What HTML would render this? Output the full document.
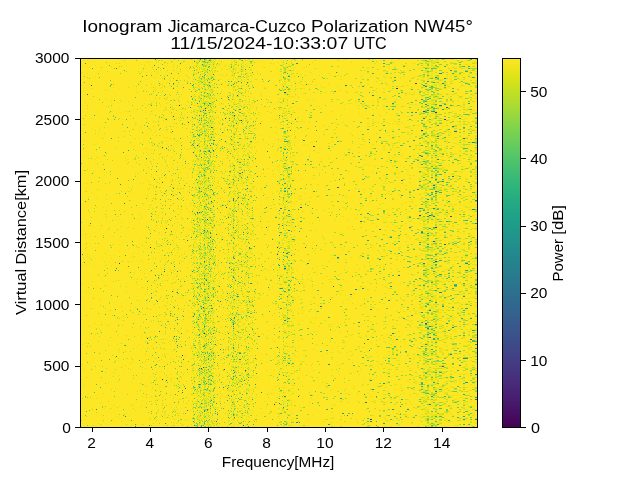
<!DOCTYPE html>
<html><head><meta charset="utf-8"><title>Ionogram</title>
<style>
html,body{margin:0;padding:0;background:#fff;width:640px;height:480px;overflow:hidden}
svg{display:block;will-change:transform;opacity:.999}
text{font-family:"Liberation Sans",sans-serif;fill:#000}
</style></head><body>
<svg width="640" height="480" viewBox="0 0 640 480">
<defs><linearGradient id="cb" x1="0" y1="0" x2="0" y2="1"><stop offset="0.0000" stop-color="#fde725"/><stop offset="0.0250" stop-color="#efe51c"/><stop offset="0.0500" stop-color="#dfe318"/><stop offset="0.0750" stop-color="#cde11d"/><stop offset="0.1000" stop-color="#bddf26"/><stop offset="0.1250" stop-color="#addc30"/><stop offset="0.1500" stop-color="#9bd93c"/><stop offset="0.1750" stop-color="#8bd646"/><stop offset="0.2000" stop-color="#7ad151"/><stop offset="0.2250" stop-color="#6ccd5a"/><stop offset="0.2500" stop-color="#5ec962"/><stop offset="0.2750" stop-color="#50c46a"/><stop offset="0.3000" stop-color="#44bf70"/><stop offset="0.3250" stop-color="#38b977"/><stop offset="0.3500" stop-color="#2fb47c"/><stop offset="0.3750" stop-color="#28ae80"/><stop offset="0.4000" stop-color="#22a884"/><stop offset="0.4250" stop-color="#1fa287"/><stop offset="0.4500" stop-color="#1e9c89"/><stop offset="0.4750" stop-color="#1f968b"/><stop offset="0.5000" stop-color="#21918c"/><stop offset="0.5250" stop-color="#238a8d"/><stop offset="0.5500" stop-color="#25848e"/><stop offset="0.5750" stop-color="#277e8e"/><stop offset="0.6000" stop-color="#2a788e"/><stop offset="0.6250" stop-color="#2c728e"/><stop offset="0.6500" stop-color="#2f6c8e"/><stop offset="0.6750" stop-color="#31668e"/><stop offset="0.7000" stop-color="#355f8d"/><stop offset="0.7250" stop-color="#38598c"/><stop offset="0.7500" stop-color="#3b528b"/><stop offset="0.7750" stop-color="#3e4a89"/><stop offset="0.8000" stop-color="#414487"/><stop offset="0.8250" stop-color="#443b84"/><stop offset="0.8500" stop-color="#463480"/><stop offset="0.8750" stop-color="#472d7b"/><stop offset="0.9000" stop-color="#482475"/><stop offset="0.9250" stop-color="#481c6e"/><stop offset="0.9500" stop-color="#471365"/><stop offset="0.9750" stop-color="#460a5d"/><stop offset="1.0000" stop-color="#440154"/></linearGradient></defs>
<rect width="640" height="480" fill="#fff"/>
<rect x="80" y="58" width="397" height="369" fill="#fde725"/>
<g fill="none" stroke-width="1" transform="translate(0 .5)" shape-rendering="crispEdges">
<path stroke="#e2e418" d="m120 58h1m36 0h1m49 0h1m4 0h1m29 0h1m4 0h1m4 0h1m107 0h2m14 0h1m4 0h2m5 0h2m29 0h6m8 0h2m15 0h2m11 0h2m-273 1h1m4 0h2m3 0h1m29 0h1m2 0h1m2 0h1m5 0h1m3 0h2m3 0h1m38 0h2m43 0h2m6 0h2m20 0h2m3 0h2m24 0h2m23 0h2m19 0h2m4 0h4m14 0h2m-309 1h1m8 0h1m6 0h1m6 0h1m14 0h2m1 0h1m9 0h2m1 0h1m3 0h1m16 0h1m100 0h2m98 0h2m26 0h3m-374 1h1m70 0h1m26 0h1m3 0h2m3 0h1m5 0h1m4 0h1m20 0h1m14 0h1m37 0h1m52 0h1m83 0h4m4 0h6m20 0h2m-301 1h1m12 0h1m16 0h1m9 0h1m3 0h1m7 0h1m3 0h1m6 0h1m9 0h2m29 0h1m19 0h1m67 0h2m79 0h4m15 0h4m18 0h5m-317 1h1m3 0h1m27 0h1m3 0h1m1 0h1m4 0h2m7 0h3m4 0h1m11 0h1m2 0h1m11 0h1m23 0h2m1 0h1m4 0h1m95 0h2m37 0h2m16 0h2m42 0h2m-336 1h1m7 0h1m24 0h1m5 0h1m16 0h1m3 0h1m4 0h3m20 0h2m3 0h1m3 0h1m49 0h2m141 0h2m32 0h3m-373 1h1m30 0h1m40 0h1m26 0h1m2 0h1m3 0h1m10 0h2m2 0h2m1 0h1m4 0h1m1 0h1m6 0h2m6 0h1m5 0h1m1 0h1m41 0h1m113 0h2m10 0h2m12 0h2m-351 1h1m4 0h1m77 0h1m13 0h1m12 0h2m4 0h1m5 0h1m6 0h1m13 0h1m3 0h2m6 0h1m24 0h1m20 0h1m147 0h4m-346 1h1m28 0h1m81 0h2m3 0h1m1 0h1m2 0h1m19 0h1m2 0h2m6 0h1m3 0h1m18 0h2m20 0h1m8 0h1m7 0h2m62 0h2m38 0h2m16 0h6m4 0h2m28 0h3m-336 1h1m13 0h1m17 0h1m11 0h1m16 0h1m5 0h1m2 0h1m2 0h1m7 0h1m1 0h1m20 0h1m1 0h1m38 0h1m14 0h2m73 0h2m25 0h2m23 0h2m42 0h2m-312 1h1m43 0h1m4 0h1m1 0h2m5 0h2m8 0h2m3 0h1m7 0h1m200 0h2m-314 1h1m17 0h1m1 0h1m48 0h1m10 0h2m1 0h2m22 0h1m2 0h1m5 0h2m1 0h1m3 0h1m3 0h2m35 0h1m21 0h1m113 0h2m2 0h2m13 0h2m26 0h2m-330 1h1m14 0h1m8 0h1m10 0h1m10 0h1m4 0h1m4 0h1m1 0h2m2 0h2m3 0h2m3 0h2m16 0h2m22 0h1m22 0h1m6 0h1m4 0h1m13 0h1m77 0h2m16 0h4m20 0h2m48 0h2m-395 1h1m58 0h1m4 0h1m4 0h1m6 0h1m10 0h1m6 0h1m16 0h2m2 0h1m2 0h1m9 0h1m99 0h2m25 0h2m28 0h2m17 0h2m35 0h4m41 0h2m-389 1h1m5 0h1m69 0h1m24 0h1m10 0h2m3 0h1m4 0h1m4 0h2m2 0h1m20 0h1m4 0h1m8 0h2m35 0h2m42 0h2m37 0h2m58 0h2m2 0h2m30 0h2m10 0h2m-322 1h1m9 0h1m30 0h1m7 0h1m3 0h3m8 0h1m1 0h1m10 0h1m1 0h1m45 0h2m18 0h2m125 0h2m23 0h5m2 0h2m7 0h2m5 0h2m-267 1h2m14 0h1m4 0h1m20 0h1m66 0h1m10 0h1m6 0h2m90 0h4m24 0h2m2 0h2m-293 1h1m8 0h1m19 0h1m6 0h1m1 0h1m3 0h2m10 0h1m5 0h1m2 0h1m8 0h1m3 0h1m33 0h2m5 0h1m52 0h2m18 0h2m8 0h2m11 0h2m18 0h2m14 0h2m6 0h2m6 0h2m9 0h2m2 0h2m-357 1h1m96 0h1m1 0h1m12 0h2m24 0h1m4 0h1m8 0h1m4 0h1m38 0h1m108 0h1m20 0h4m2 0h2m25 0h3m13 0h2m-302 1h1m6 0h1m16 0h1m8 0h1m2 0h1m26 0h1m2 0h2m1 0h2m42 0h1m3 0h1m102 0h2m8 0h1m32 0h2m15 0h2m-305 1h1m21 0h1m29 0h1m3 0h1m4 0h1m6 0h1m1 0h1m3 0h1m7 0h1m2 0h2m3 0h1m6 0h1m34 0h3m33 0h1m24 0h2m52 0h2m25 0h2m4 0h2m10 0h5m15 0h2m-320 1h1m54 0h1m2 0h3m3 0h1m42 0h1m31 0h2m97 0h2m52 0h2m17 0h2m21 0h2m-275 1h1m7 0h1m23 0h2m3 0h2m1 0h1m18 0h1m26 0h2m185 0h2m-314 1h1m3 0h1m1 0h1m16 0h1m6 0h2m4 0h2m2 0h2m1 0h1m30 0h1m8 0h1m44 0h1m113 0h2m14 0h4m17 0h6m17 0h3m2 0h2m-306 1h1m7 0h1m21 0h1m4 0h1m1 0h3m14 0h1m6 0h1m4 0h1m19 0h1m20 0h1m9 0h3m106 0h2m25 0h2m31 0h2m18 0h3m-386 1h1m68 0h1m3 0h1m14 0h2m3 0h1m13 0h1m1 0h1m2 0h1m5 0h1m24 0h1m51 0h2m14 0h2m3 0h1m1 0h2m1 0h2m16 0h2m30 0h2m5 0h2m58 0h2m4 0h4m9 0h2m-314 1h1m20 0h1m6 0h1m6 0h2m5 0h1m4 0h1m22 0h2m4 0h1m2 0h1m3 0h1m18 0h1m51 0h2m13 0h2m11 0h1m86 0h2m2 0h2m18 0h6m30 0h2m-356 1h1m87 0h1m1 0h1m29 0h1m5 0h1m2 0h1m3 0h1m4 0h1m72 0h2m14 0h1m2 0h1m5 0h2m74 0h2m6 0h2m2 0h2m4 0h3m4 0h2m-335 1h1m27 0h1m9 0h1m3 0h1m10 0h1m29 0h2m1 0h1m4 0h1m2 0h2m4 0h1m20 0h1m3 0h1m13 0h1m11 0h2m57 0h2m47 0h2m37 0h2m46 0h2m-342 1h1m35 0h1m4 0h1m11 0h1m9 0h1m15 0h3m3 0h2m5 0h1m20 0h1m9 0h1m35 0h1m11 0h1m5 0h2m5 0h2m78 0h2m24 0h2m10 0h2m4 0h2m10 0h3m-288 1h1m40 0h1m6 0h1m3 0h2m25 0h1m8 0h1m48 0h1m-209 1h1m22 0h1m55 0h1m14 0h1m17 0h1m3 0h1m4 0h2m4 0h1m5 0h1m62 0h1m94 0h2m14 0h2m27 0h2m8 0h2m-295 1h1m29 0h1m32 0h3m12 0h1m130 0h2m29 0h1m19 0h2m3 0h2m22 0h2m6 0h2m15 0h2m-372 1h1m44 0h1m11 0h1m23 0h1m31 0h1m2 0h1m3 0h1m5 0h1m21 0h1m58 0h1m2 0h1m81 0h2m2 0h1m36 0h2m20 0h2m38 0h2m-326 1h3m45 0h1m6 0h1m7 0h1m12 0h1m4 0h1m5 0h1m5 0h1m58 0h2m15 0h2m87 0h2m12 0h2m8 0h2m11 0h2m24 0h3m-319 1h1m47 0h1m1 0h1m12 0h1m12 0h1m8 0h1m42 0h2m72 0h2m53 0h2m20 0h2m11 0h2m-257 1h1m5 0h1m2 0h1m2 0h1m3 0h1m8 0h1m8 0h1m10 0h1m3 0h1m17 0h1m17 0h1m8 0h1m117 0h2m26 0h4m20 0h2m13 0h3m-281 1h1m3 0h1m4 0h1m5 0h2m10 0h1m3 0h1m6 0h2m3 0h1m23 0h1m7 0h1m18 0h2m1 0h3m4 0h1m122 0h2m52 0h2m-380 1h1m95 0h2m2 0h2m1 0h1m6 0h1m5 0h1m13 0h1m5 0h1m56 0h1m3 0h1m140 0h4m9 0h2m18 0h2m-304 1h1m9 0h1m1 0h1m14 0h2m9 0h1m10 0h2m2 0h1m34 0h1m11 0h1m12 0h3m1 0h3m93 0h2m69 0h2m9 0h2m5 0h2m-379 1h1m13 0h1m14 0h1m85 0h2m2 0h1m11 0h1m11 0h1m6 0h1m64 0h1m89 0h2m3 0h2m28 0h6m-326 1h1m80 0h1m1 0h1m1 0h2m5 0h1m1 0h1m5 0h1m24 0h1m1 0h1m5 0h1m9 0h1m24 0h1m27 0h2m4 0h2m21 0h1m18 0h2m95 0h2m3 0h2m11 0h2m-344 1h1m21 0h1m3 0h1m14 0h1m23 0h1m9 0h1m1 0h1m2 0h1m3 0h1m5 0h1m27 0h1m31 0h1m93 0h2m12 0h2m33 0h2m4 0h6m-322 1h1m55 0h1m5 0h1m14 0h1m12 0h1m2 0h1m1 0h1m2 0h1m1 0h1m33 0h1m2 0h1m3 0h1m24 0h1m1 0h1m6 0h1m68 0h2m20 0h2m30 0h2m16 0h2m6 0h2m15 0h2m-336 1h1m25 0h1m21 0h1m32 0h2m11 0h1m6 0h1m3 0h1m9 0h2m4 0h2m41 0h1m4 0h1m60 0h4m67 0h2m6 0h8m-284 1h1m8 0h1m31 0h1m7 0h1m4 0h1m2 0h1m1 0h1m1 0h2m6 0h1m2 0h1m120 0h1m51 0h2m11 0h4m2 0h2m29 0h2m2 0h2m-359 1h1m9 0h1m43 0h1m30 0h1m1 0h1m8 0h1m8 0h1m4 0h1m8 0h1m6 0h1m11 0h1m20 0h1m105 0h2m7 0h2m14 0h2m36 0h2m12 0h2m26 0h2m-359 1h1m53 0h1m4 0h1m31 0h1m1 0h1m31 0h1m3 0h1m6 0h1m2 0h1m4 0h2m34 0h1m29 0h1m2 0h1m56 0h1m6 0h2m18 0h2m22 0h2m4 0h4m17 0h3m2 0h4m-352 1h1m52 0h1m1 0h1m5 0h1m8 0h1m1 0h1m16 0h1m4 0h1m4 0h1m3 0h1m11 0h1m5 0h1m1 0h1m18 0h1m110 0h1m60 0h2m2 0h2m6 0h2m9 0h2m18 0h2m-351 1h1m36 0h1m9 0h1m17 0h2m13 0h1m1 0h1m1 0h1m3 0h1m3 0h1m1 0h1m7 0h1m11 0h1m2 0h1m13 0h2m31 0h1m4 0h2m9 0h1m20 0h2m22 0h1m13 0h2m32 0h2m37 0h2m11 0h2m-313 1h1m32 0h1m10 0h1m1 0h1m2 0h1m17 0h2m2 0h1m3 0h1m2 0h2m13 0h1m48 0h2m3 0h2m16 0h1m73 0h2m9 0h2m24 0h2m20 0h2m11 0h2m19 0h3m-355 1h1m54 0h1m26 0h2m2 0h1m1 0h1m2 0h1m5 0h1m3 0h1m10 0h1m21 0h2m39 0h2m2 0h2m123 0h2m10 0h4m26 0h2m4 0h3m4 0h3m-364 1h1m40 0h1m16 0h1m8 0h1m18 0h1m1 0h1m4 0h1m1 0h1m24 0h2m9 0h1m4 0h1m35 0h1m47 0h2m78 0h2m22 0h2m15 0h2m16 0h2m-352 1h1m24 0h1m16 0h1m30 0h2m6 0h1m2 0h2m1 0h2m1 0h1m3 0h1m29 0h1m13 0h2m10 0h2m12 0h2m6 0h2m1 0h1m90 0h2m31 0h6m8 0h2m2 0h2m5 0h2m24 0h2m-332 1h1m10 0h1m57 0h1m5 0h1m17 0h2m9 0h1m7 0h1m8 0h1m22 0h2m30 0h1m41 0h2m41 0h2m16 0h2m12 0h2m-285 1h1m1 0h1m18 0h1m2 0h1m4 0h1m17 0h1m2 0h2m3 0h2m1 0h2m12 0h1m8 0h1m1 0h1m1 0h1m22 0h2m112 0h2m11 0h1m62 0h2m-276 1h1m9 0h1m27 0h1m16 0h1m3 0h1m5 0h2m39 0h3m57 0h2m37 0h2m50 0h2m2 0h4m-242 1h1m3 0h1m3 0h1m7 0h1m2 0h1m11 0h1m10 0h2m3 0h1m57 0h1m104 0h2m12 0h2m-265 1h1m3 0h1m15 0h1m25 0h1m81 0h1m4 0h1m129 0h4m12 0h2m-348 1h1m11 0h1m59 0h1m1 0h1m10 0h1m25 0h1m1 0h1m5 0h2m2 0h1m1 0h1m5 0h1m8 0h1m10 0h1m7 0h2m5 0h1m24 0h2m3 0h1m154 0h2m21 0h3m-361 1h1m14 0h1m49 0h1m19 0h1m6 0h2m32 0h1m9 0h1m3 0h1m1 0h1m25 0h2m25 0h1m69 0h2m57 0h2m15 0h2m2 0h2m7 0h4m-318 1h1m19 0h1m10 0h1m19 0h1m9 0h1m26 0h1m18 0h1m152 0h2m18 0h2m2 0h2m15 0h2m25 0h2m-328 1h1m38 0h1m9 0h1m5 0h1m3 0h1m9 0h1m16 0h1m11 0h1m26 0h1m17 0h2m6 0h2m1 0h2m67 0h2m20 0h2m31 0h2m6 0h2m20 0h2m6 0h3m7 0h2m-343 1h1m20 0h2m47 0h1m5 0h2m2 0h1m3 0h1m64 0h1m6 0h1m43 0h2m6 0h2m30 0h2m1 0h2m7 0h2m13 0h2m18 0h2m12 0h2m22 0h2m-268 1h1m8 0h2m5 0h1m2 0h1m10 0h1m6 0h1m2 0h1m1 0h1m1 0h1m5 0h1m34 0h1m8 0h1m6 0h1m72 0h2m19 0h2m2 0h2m2 0h2m25 0h4m19 0h2m-346 1h1m33 0h1m7 0h1m43 0h1m13 0h3m6 0h1m19 0h1m5 0h2m3 0h1m37 0h2m62 0h1m40 0h1m12 0h2m57 0h4m9 0h2m-337 1h1m50 0h1m10 0h1m6 0h1m3 0h1m3 0h2m23 0h1m85 0h2m92 0h2m16 0h2m22 0h2m11 0h3m-376 1h1m66 0h1m38 0h1m2 0h2m4 0h1m32 0h1m2 0h3m75 0h2m37 0h2m38 0h4m16 0h2m6 0h2m5 0h2m31 0h2m-301 1h1m25 0h1m1 0h1m3 0h1m25 0h1m8 0h1m4 0h1m26 0h2m6 0h1m2 0h2m3 0h1m115 0h2m22 0h2m-341 1h1m103 0h1m8 0h1m1 0h1m7 0h2m3 0h1m15 0h2m4 0h1m2 0h1m11 0h1m151 0h2m16 0h2m41 0h2m-331 1h1m5 0h1m6 0h1m39 0h1m2 0h1m16 0h1m9 0h1m80 0h1m19 0h1m8 0h2m45 0h2m9 0h2m31 0h2m43 0h2m-307 1h1m29 0h1m4 0h1m4 0h1m2 0h1m20 0h2m63 0h1m38 0h1m103 0h2m7 0h2m20 0h2m5 0h2m-322 1h1m11 0h1m22 0h1m7 0h1m4 0h1m3 0h1m3 0h1m8 0h1m7 0h1m5 0h1m1 0h1m11 0h1m3 0h1m19 0h1m10 0h1m11 0h1m6 0h1m20 0h2m35 0h2m63 0h2m8 0h2m9 0h4m-350 1h1m97 0h1m2 0h2m5 0h1m4 0h1m73 0h1m6 0h1m3 0h1m68 0h2m17 0h2m60 0h4m18 0h2m-329 1h1m27 0h1m22 0h1m11 0h1m6 0h1m32 0h1m40 0h1m62 0h2m81 0h2m4 0h3m2 0h2m8 0h3m6 0h2m-385 1h1m17 0h1m14 0h1m33 0h1m14 0h1m29 0h1m11 0h1m28 0h1m1 0h2m40 0h1m6 0h2m106 0h2m13 0h4m16 0h2m2 0h4m13 0h4m-300 1h1m7 0h1m29 0h1m3 0h1m5 0h1m2 0h2m8 0h1m18 0h1m1 0h1m25 0h1m22 0h1m3 0h3m1 0h1m96 0h2m35 0h2m10 0h2m20 0h2m14 0h2m-264 1h1m12 0h1m3 0h1m2 0h1m3 0h2m8 0h1m21 0h1m12 0h2m3 0h1m49 0h2m55 0h2m23 0h2m10 0h4m-285 1h1m5 0h1m25 0h1m11 0h1m2 0h1m1 0h2m3 0h1m2 0h1m1 0h2m17 0h2m57 0h1m31 0h1m13 0h1m28 0h2m30 0h2m19 0h2m16 0h2m13 0h2m15 0h3m-329 1h1m43 0h1m4 0h1m16 0h1m2 0h2m9 0h1m17 0h1m3 0h1m8 0h2m30 0h2m74 0h2m49 0h2m10 0h4m19 0h2m15 0h2m-312 1h1m57 0h1m20 0h1m1 0h2m8 0h1m1 0h1m132 0h2m44 0h2m4 0h2m4 0h2m2 0h3m2 0h2m6 0h2m7 0h4m-317 1h1m17 0h1m8 0h1m1 0h1m15 0h1m5 0h1m3 0h2m11 0h1m13 0h1m16 0h1m39 0h1m3 0h1m6 0h1m99 0h2m25 0h2m10 0h2m7 0h2m15 0h2m10 0h2m-391 1h1m7 0h1m48 0h1m34 0h1m15 0h1m10 0h1m1 0h2m1 0h1m9 0h1m10 0h1m1 0h2m4 0h2m90 0h2m96 0h2m15 0h2m13 0h7m-306 1h1m17 0h1m16 0h1m2 0h1m17 0h1m5 0h1m1 0h1m17 0h1m49 0h1m15 0h3m85 0h2m19 0h2m14 0h4m13 0h2m-280 1h1m2 0h1m2 0h1m17 0h1m4 0h3m11 0h1m11 0h1m2 0h1m8 0h1m12 0h1m11 0h1m5 0h1m1 0h1m8 0h1m44 0h2m62 0h2m31 0h2m2 0h2m15 0h2m6 0h3m6 0h2m-298 1h1m9 0h1m23 0h1m3 0h2m22 0h1m5 0h1m48 0h3m1 0h2m4 0h1m8 0h2m55 0h4m8 0h2m57 0h2m24 0h2m2 0h2m7 0h2m-319 1h1m16 0h1m32 0h1m10 0h1m3 0h1m10 0h1m5 0h1m3 0h2m2 0h1m3 0h3m23 0h1m5 0h1m3 0h1m10 0h1m12 0h2m108 0h2m18 0h5m-250 1h2m2 0h1m4 0h1m2 0h1m5 0h1m36 0h1m4 0h1m2 0h1m75 0h2m50 0h2m74 0h2m7 0h2m-297 1h1m2 0h1m4 0h1m15 0h1m1 0h1m5 0h1m2 0h1m1 0h1m15 0h1m6 0h1m1 0h1m156 0h2m4 0h2m15 0h2m8 0h2m2 0h4m2 0h2m7 0h2m17 0h2m-306 1h1m1 0h1m9 0h1m12 0h1m7 0h1m11 0h1m3 0h2m2 0h1m33 0h1m33 0h2m5 0h3m29 0h1m63 0h2m42 0h2m46 0h2m-323 1h1m9 0h1m28 0h1m5 0h1m1 0h1m2 0h1m4 0h1m20 0h1m2 0h1m1 0h1m5 0h1m6 0h1m3 0h1m147 0h1m24 0h2m2 0h4m11 0h2m22 0h2m5 0h2m-342 1h1m15 0h1m21 0h1m23 0h1m6 0h1m1 0h1m14 0h1m4 0h1m8 0h1m20 0h1m23 0h2m101 0h2m38 0h2m34 0h2m4 0h3m7 0h2m-381 1h1m100 0h1m9 0h1m3 0h1m7 0h1m11 0h1m6 0h1m17 0h1m180 0h2m5 0h2m13 0h2m9 0h5m-332 1h1m2 0h1m25 0h1m19 0h1m3 0h1m2 0h1m4 0h1m11 0h1m16 0h1m3 0h1m5 0h1m4 0h4m38 0h1m3 0h1m22 0h2m39 0h2m75 0h2m-344 1h1m57 0h1m39 0h1m3 0h1m9 0h1m1 0h1m28 0h1m59 0h2m4 0h1m69 0h2m61 0h2m17 0h3m2 0h2m-349 1h1m61 0h1m19 0h1m1 0h1m7 0h1m40 0h1m33 0h1m67 0h3m19 0h1m6 0h1m48 0h2m10 0h2m31 0h2m-390 1h1m3 0h1m39 0h1m55 0h1m15 0h1m2 0h2m1 0h1m3 0h1m17 0h1m1 0h1m4 0h1m1 0h1m1 0h1m10 0h2m37 0h1m6 0h1m4 0h1m94 0h2m5 0h2m10 0h2m18 0h2m26 0h2m-372 1h1m11 0h1m38 0h1m20 0h1m2 0h1m12 0h1m1 0h1m15 0h1m14 0h1m20 0h1m18 0h1m33 0h1m7 0h1m101 0h2m29 0h2m6 0h9m8 0h2m5 0h2m11 0h3m-350 1h1m24 0h1m8 0h1m34 0h1m9 0h1m2 0h2m6 0h1m17 0h2m15 0h2m2 0h1m29 0h2m4 0h1m73 0h1m23 0h2m2 0h2m15 0h2m14 0h2m32 0h2m7 0h2m-321 1h1m8 0h1m3 0h1m19 0h1m16 0h1m4 0h1m1 0h1m20 0h2m9 0h3m9 0h2m28 0h2m4 0h1m4 0h1m36 0h2m44 0h2m29 0h2m6 0h2m6 0h2m2 0h2m4 0h2m2 0h2m17 0h3m-362 1h1m31 0h2m45 0h1m8 0h1m9 0h1m2 0h2m7 0h1m32 0h1m4 0h1m40 0h2m8 0h1m47 0h2m20 0h1m23 0h2m49 0h3m28 0h2m-347 1h1m13 0h1m25 0h1m24 0h1m11 0h2m6 0h1m7 0h1m16 0h1m8 0h1m88 0h1m30 0h1m60 0h2m4 0h2m2 0h2m15 0h2m-353 1h1m62 0h1m32 0h1m12 0h2m4 0h1m22 0h4m29 0h1m160 0h4m35 0h3m-330 1h1m48 0h1m4 0h1m3 0h2m2 0h1m4 0h1m19 0h1m8 0h1m1 0h1m11 0h1m175 0h2m9 0h2m13 0h2m11 0h2m-306 1h1m6 0h1m22 0h1m5 0h3m2 0h1m5 0h1m16 0h1m16 0h1m38 0h1m35 0h1m129 0h2m-348 1h1m39 0h1m14 0h1m10 0h1m29 0h1m8 0h3m16 0h1m2 0h1m12 0h1m15 0h1m16 0h1m3 0h1m3 0h1m15 0h2m2 0h2m56 0h2m52 0h2m10 0h4m13 0h2m7 0h2m-314 1h1m47 0h1m10 0h1m17 0h1m3 0h1m3 0h1m6 0h1m35 0h1m4 0h1m5 0h2m1 0h1m31 0h1m49 0h1m30 0h1m30 0h6m33 0h2m-340 1h1m67 0h1m1 0h1m1 0h1m4 0h3m27 0h2m7 0h1m28 0h1m84 0h2m10 0h2m7 0h2m7 0h2m23 0h2m6 0h2m21 0h2m13 0h2m-297 1h1m2 0h1m19 0h1m11 0h2m3 0h1m6 0h1m12 0h1m4 0h1m4 0h1m6 0h1m1 0h1m2 0h2m27 0h1m10 0h1m112 0h2m14 0h4m6 0h6m2 0h2m3 0h2m24 0h4m-307 1h1m17 0h1m15 0h1m1 0h1m15 0h1m30 0h1m25 0h1m20 0h1m61 0h1m65 0h2m14 0h5m24 0h2m-370 1h1m47 0h1m6 0h1m23 0h1m12 0h1m16 0h3m1 0h1m10 0h1m8 0h1m43 0h1m1 0h1m6 0h1m1 0h2m115 0h2m18 0h2m4 0h2m2 0h2m9 0h2m-345 1h1m57 0h1m5 0h2m25 0h1m2 0h1m1 0h1m1 0h3m27 0h1m2 0h2m6 0h2m5 0h1m38 0h2m1 0h1m104 0h2m27 0h2m2 0h2m6 0h2m31 0h2m3 0h2m-396 1h1m11 0h1m46 0h1m7 0h1m15 0h1m36 0h1m25 0h1m6 0h1m2 0h1m41 0h1m68 0h2m57 0h2m12 0h2m34 0h4m14 0h2m-371 1h1m11 0h1m18 0h1m59 0h1m5 0h1m1 0h2m9 0h1m2 0h1m2 0h1m30 0h1m2 0h1m107 0h1m7 0h2m47 0h4m2 0h2m6 0h2m24 0h2m9 0h3m-390 1h1m52 0h1m33 0h1m5 0h1m20 0h1m5 0h1m2 0h1m1 0h1m6 0h1m23 0h1m19 0h1m1 0h1m19 0h1m3 0h1m110 0h2m23 0h2m2 0h2m2 0h2m-278 1h1m17 0h1m13 0h1m8 0h1m2 0h2m8 0h1m1 0h1m3 0h1m66 0h1m15 0h1m108 0h2m14 0h2m2 0h2m15 0h2m4 0h4m18 0h3m-371 1h1m52 0h1m3 0h1m30 0h1m3 0h1m9 0h1m4 0h1m13 0h1m2 0h1m9 0h1m3 0h1m7 0h2m38 0h1m92 0h2m24 0h2m2 0h2m6 0h4m2 0h2m25 0h5m-308 1h1m40 0h1m7 0h1m11 0h2m18 0h2m7 0h1m14 0h1m30 0h1m98 0h2m49 0h2m5 0h2m11 0h2m-379 1h1m96 0h1m2 0h1m23 0h2m11 0h1m9 0h1m5 0h2m13 0h1m1 0h2m42 0h1m41 0h1m5 0h2m35 0h2m4 0h1m10 0h2m37 0h2m-299 1h1m14 0h1m12 0h1m11 0h1m17 0h1m5 0h2m37 0h1m2 0h1m43 0h2m12 0h1m10 0h2m104 0h2m10 0h2m11 0h2m6 0h5m8 0h3m-322 1h1m9 0h1m18 0h1m22 0h1m4 0h2m1 0h3m28 0h1m56 0h1m124 0h2m44 0h3m-271 1h2m8 0h1m4 0h1m4 0h1m15 0h1m2 0h1m9 0h1m5 0h1m35 0h2m1 0h1m6 0h1m82 0h2m38 0h2m2 0h2m21 0h2m-301 1h1m5 0h1m6 0h1m9 0h1m23 0h1m2 0h1m6 0h1m11 0h1m15 0h1m3 0h1m2 0h3m35 0h1m3 0h3m2 0h2m2 0h2m82 0h1m95 0h3m-281 1h1m1 0h1m3 0h1m10 0h2m35 0h1m18 0h1m11 0h1m4 0h2m2 0h2m74 0h1m27 0h2m15 0h2m16 0h2m-310 1h1m20 0h1m2 0h1m50 0h1m8 0h1m1 0h1m21 0h1m11 0h3m10 0h1m4 0h1m14 0h1m13 0h1m4 0h1m91 0h2m1 0h2m35 0h4m-279 1h1m25 0h1m19 0h1m2 0h2m5 0h1m5 0h1m3 0h1m14 0h1m3 0h1m3 0h1m4 0h1m35 0h1m38 0h2m100 0h2m31 0h2m-352 1h1m18 0h1m55 0h1m18 0h1m2 0h2m3 0h1m1 0h1m10 0h1m24 0h1m9 0h1m16 0h1m10 0h2m5 0h1m69 0h1m23 0h2m22 0h2m20 0h2m15 0h2m-314 1h1m20 0h1m15 0h1m4 0h1m4 0h1m23 0h1m14 0h1m22 0h1m12 0h1m48 0h2m34 0h1m97 0h2m33 0h3m-347 1h2m23 0h1m6 0h1m43 0h1m3 0h1m2 0h1m3 0h2m11 0h1m4 0h1m22 0h1m27 0h2m39 0h1m93 0h2m2 0h2m14 0h3m-301 1h1m12 0h1m36 0h1m1 0h1m2 0h1m7 0h1m2 0h1m6 0h1m1 0h1m10 0h1m2 0h1m14 0h1m15 0h1m25 0h1m6 0h2m59 0h2m43 0h1m14 0h2m8 0h8m2 0h2m2 0h3m2 0h2m-299 1h2m20 0h1m8 0h1m1 0h1m13 0h1m9 0h3m2 0h1m14 0h1m9 0h1m15 0h2m4 0h1m30 0h1m24 0h1m45 0h2m10 0h2m63 0h2m2 0h3m28 0h2m-373 1h1m60 0h1m36 0h2m3 0h1m2 0h1m1 0h1m2 0h1m9 0h1m2 0h1m10 0h1m200 0h2m31 0h2m-385 1h1m40 0h1m33 0h1m22 0h1m20 0h3m3 0h1m1 0h2m32 0h1m36 0h1m104 0h2m85 0h2m-386 1h1m85 0h1m18 0h1m7 0h1m5 0h1m19 0h1m1 0h1m30 0h1m15 0h1m2 0h1m81 0h1m72 0h2m36 0h2m-347 1h1m2 0h1m40 0h1m19 0h1m8 0h1m29 0h1m1 0h1m9 0h1m38 0h2m6 0h2m11 0h1m6 0h1m73 0h4m33 0h2m-319 1h1m70 0h1m15 0h1m4 0h1m12 0h1m21 0h2m2 0h1m26 0h2m12 0h1m5 0h2m84 0h2m26 0h3m34 0h2m2 0h3m2 0h2m26 0h5m-371 1h1m81 0h1m5 0h2m8 0h3m1 0h1m9 0h1m27 0h1m3 0h2m31 0h3m1 0h1m31 0h1m10 0h3m48 0h2m67 0h2m9 0h2m5 0h2m-374 1h1m96 0h1m12 0h1m4 0h1m21 0h1m1 0h1m1 0h4m45 0h1m13 0h2m14 0h1m28 0h2m23 0h2m39 0h2m46 0h2m-376 1h1m24 0h1m44 0h1m37 0h1m1 0h1m3 0h1m1 0h1m20 0h1m5 0h1m21 0h2m17 0h1m4 0h1m35 0h2m109 0h2m16 0h3m-241 1h1m2 0h1m1 0h1m3 0h1m6 0h1m23 0h1m3 0h3m36 0h2m5 0h1m55 0h1m87 0h2m-340 1h1m57 0h1m15 0h1m7 0h1m6 0h1m5 0h1m14 0h2m25 0h1m3 0h1m6 0h1m21 0h1m32 0h2m109 0h2m6 0h2m8 0h2m11 0h2m13 0h2m-265 1h1m8 0h1m9 0h1m7 0h1m8 0h1m3 0h2m12 0h1m12 0h1m22 0h2m4 0h1m61 0h1m78 0h4m-284 1h1m18 0h1m22 0h1m2 0h1m1 0h1m5 0h2m4 0h1m3 0h1m1 0h1m7 0h1m13 0h3m8 0h1m37 0h1m2 0h1m5 0h2m44 0h2m26 0h2m37 0h4m10 0h2m10 0h2m-352 1h1m68 0h1m49 0h2m4 0h1m17 0h1m5 0h1m9 0h1m5 0h2m20 0h1m11 0h2m5 0h1m2 0h1m11 0h1m98 0h2m4 0h2m35 0h2m20 0h2m-329 1h1m52 0h1m6 0h1m5 0h1m6 0h1m12 0h1m18 0h1m30 0h1m7 0h1m3 0h1m89 0h4m36 0h2m23 0h2m20 0h2m-319 1h1m33 0h1m12 0h1m1 0h1m3 0h2m4 0h1m2 0h1m5 0h1m13 0h1m39 0h1m6 0h2m1 0h1m2 0h1m22 0h1m69 0h2m20 0h2m20 0h2m29 0h3m2 0h2m-318 1h1m34 0h1m2 0h1m9 0h1m2 0h1m7 0h1m2 0h1m14 0h1m5 0h1m8 0h1m2 0h1m21 0h1m7 0h1m1 0h2m10 0h1m1 0h2m123 0h2m4 0h2m46 0h2m10 0h2m-292 1h1m7 0h1m13 0h1m23 0h1m1 0h1m13 0h1m1 0h1m34 0h2m5 0h1m68 0h2m103 0h3m2 0h2m-376 1h1m6 0h1m35 0h1m9 0h1m44 0h1m5 0h2m6 0h1m4 0h1m3 0h1m16 0h1m2 0h2m35 0h1m67 0h3m90 0h2m28 0h5m5 0h2m-324 1h1m2 0h1m5 0h1m4 0h1m9 0h2m18 0h2m2 0h1m2 0h1m4 0h1m29 0h3m4 0h1m3 0h2m5 0h1m29 0h1m40 0h2m15 0h2m3 0h2m8 0h2m15 0h4m42 0h2m4 0h2m4 0h2m2 0h3m17 0h2m-281 1h1m12 0h1m4 0h1m11 0h1m11 0h1m122 0h2m39 0h2m45 0h2m33 0h4m-310 1h1m33 0h1m7 0h1m8 0h1m13 0h1m5 0h1m49 0h1m39 0h2m96 0h2m4 0h4m4 0h2m13 0h2m2 0h3m13 0h2m-333 1h1m48 0h1m14 0h2m3 0h1m1 0h1m17 0h1m2 0h1m7 0h2m43 0h2m5 0h1m109 0h2m4 0h4m26 0h2m5 0h2m4 0h2m7 0h2m2 0h2m7 0h3m-323 1h1m6 0h1m13 0h1m6 0h1m12 0h1m2 0h1m11 0h1m5 0h1m2 0h1m13 0h3m13 0h2m14 0h1m23 0h1m10 0h1m11 0h2m16 0h2m64 0h2m29 0h2m8 0h2m-267 1h1m21 0h1m6 0h2m3 0h1m23 0h1m2 0h1m9 0h1m4 0h3m29 0h2m7 0h1m2 0h1m114 0h2m37 0h2m8 0h3m-326 1h1m8 0h1m13 0h1m37 0h2m6 0h1m27 0h1m104 0h1m36 0h2m14 0h2m33 0h2m12 0h2m9 0h2m-308 1h1m62 0h2m15 0h1m8 0h1m13 0h1m202 0h2m24 0h3m-369 1h1m89 0h1m7 0h1m3 0h2m65 0h2m7 0h3m4 0h1m23 0h1m26 0h2m20 0h1m16 0h2m24 0h2m16 0h2m4 0h2m13 0h2m-315 1h1m22 0h1m1 0h1m3 0h1m5 0h1m30 0h1m11 0h1m1 0h1m22 0h1m1 0h1m21 0h1m5 0h1m11 0h1m7 0h1m4 0h1m2 0h1m30 0h1m60 0h2m35 0h2m2 0h2m6 0h2m17 0h3m18 0h2m-285 1h1m1 0h1m1 0h1m3 0h2m2 0h1m1 0h1m12 0h1m23 0h1m47 0h1m4 0h2m57 0h2m20 0h2m4 0h2m38 0h2m2 0h6m26 0h2m-346 1h1m3 0h1m17 0h1m1 0h1m13 0h1m27 0h1m1 0h1m4 0h1m4 0h2m14 0h2m1 0h1m31 0h1m7 0h1m1 0h1m17 0h1m10 0h1m7 0h1m42 0h2m75 0h2m6 0h8m8 0h2m11 0h2m-294 1h1m5 0h1m4 0h1m3 0h1m25 0h1m5 0h1m6 0h1m1 0h1m1 0h1m4 0h1m17 0h2m16 0h1m31 0h1m133 0h4m6 0h6m22 0h2m-355 1h1m41 0h1m49 0h1m8 0h1m58 0h1m-147 1h1m2 0h1m5 0h1m9 0h1m44 0h1m7 0h2m10 0h1m12 0h1m7 0h1m1 0h1m55 0h1m25 0h1m76 0h2m4 0h2m69 0h2m-365 1h1m65 0h1m26 0h1m1 0h1m1 0h1m5 0h1m1 0h2m1 0h1m13 0h1m5 0h2m18 0h1m34 0h1m6 0h1m69 0h2m10 0h2m11 0h1m19 0h2m12 0h2m2 0h2m2 0h2m2 0h2m15 0h2m20 0h2m-293 1h1m1 0h1m10 0h1m5 0h2m4 0h2m1 0h1m4 0h1m3 0h1m1 0h1m13 0h1m5 0h1m7 0h1m2 0h1m41 0h1m100 0h2m29 0h4m38 0h3m-320 1h1m55 0h1m6 0h1m1 0h1m15 0h1m22 0h1m16 0h1m17 0h1m3 0h1m131 0h2m27 0h2m-363 1h1m68 0h1m1 0h1m2 0h1m11 0h1m14 0h1m3 0h1m2 0h1m4 0h1m2 0h1m3 0h1m16 0h1m3 0h1m50 0h1m6 0h1m105 0h2m37 0h4m13 0h2m14 0h2m5 0h2m-283 1h1m5 0h1m3 0h1m6 0h1m19 0h2m5 0h3m42 0h1m7 0h3m66 0h2m69 0h2m-306 1h1m28 0h1m6 0h1m3 0h1m13 0h1m4 0h1m10 0h1m2 0h1m5 0h1m2 0h1m2 0h2m32 0h1m1 0h1m172 0h2m4 0h2m6 0h2m7 0h2m17 0h2m7 0h3m-394 1h1m18 0h1m50 0h1m1 0h1m20 0h1m17 0h1m4 0h1m6 0h1m1 0h1m22 0h1m19 0h1m18 0h1m17 0h1m5 0h2m139 0h9m17 0h2m14 0h2m-300 1h1m21 0h1m5 0h2m2 0h2m14 0h1m16 0h2m6 0h2m20 0h1m6 0h1m11 0h1m127 0h2m6 0h2m10 0h3m6 0h2m-368 1h1m67 0h1m46 0h1m1 0h1m3 0h1m6 0h1m30 0h1m1 0h1m34 0h1m146 0h4m-254 1h1m17 0h2m2 0h1m1 0h1m5 0h1m1 0h1m9 0h1m15 0h1m3 0h1m3 0h1m10 0h1m34 0h1m51 0h1m83 0h2m2 0h2m8 0h2m20 0h2m-281 1h1m10 0h1m2 0h1m1 0h1m3 0h1m4 0h3m4 0h3m15 0h1m2 0h2m10 0h1m2 0h1m31 0h2m4 0h1m55 0h2m85 0h2m15 0h2m15 0h2m-307 1h1m2 0h1m2 0h1m4 0h1m3 0h1m13 0h1m5 0h1m4 0h3m4 0h1m4 0h1m6 0h1m23 0h1m38 0h2m57 0h1m87 0h2m2 0h2m2 0h2m31 0h2m-359 1h1m19 0h1m34 0h1m13 0h1m18 0h1m6 0h1m1 0h1m1 0h2m8 0h1m8 0h1m4 0h1m3 0h1m8 0h1m38 0h2m98 0h2m31 0h2m10 0h2m2 0h2m2 0h3m-329 1h1m62 0h1m14 0h1m5 0h1m6 0h2m2 0h1m5 0h1m13 0h1m1 0h1m1 0h1m100 0h1m36 0h2m26 0h2m7 0h2m16 0h2m6 0h2m-350 1h1m81 0h1m36 0h3m2 0h1m2 0h3m6 0h2m1 0h1m16 0h1m7 0h1m29 0h1m3 0h3m6 0h2m102 0h4m37 0h2m31 0h2m-313 1h1m40 0h1m6 0h1m10 0h1m4 0h1m9 0h1m11 0h1m10 0h1m26 0h1m2 0h1m3 0h1m11 0h1m76 0h2m28 0h2m12 0h4m43 0h2m-332 1h1m53 0h1m4 0h2m1 0h4m3 0h1m21 0h1m2 0h1m7 0h1m5 0h1m1 0h2m30 0h2m4 0h2m1 0h1m3 0h1m2 0h1m126 0h2m8 0h2m5 0h2m8 0h2m5 0h2m2 0h2m5 0h2m-277 1h1m3 0h2m4 0h4m15 0h1m5 0h1m7 0h1m7 0h1m37 0h2m5 0h1m89 0h2m34 0h6m12 0h4m5 0h2m-302 1h1m7 0h1m41 0h1m47 0h1m5 0h1m6 0h1m23 0h1m7 0h1m6 0h1m50 0h2m58 0h2m41 0h2m-327 1h1m2 0h1m35 0h1m7 0h1m2 0h1m26 0h1m4 0h1m5 0h1m1 0h1m15 0h1m2 0h1m1 0h1m10 0h1m42 0h3m21 0h1m31 0h1m76 0h2m12 0h2m13 0h2m11 0h2m10 0h2m-314 1h1m2 0h2m8 0h1m17 0h1m7 0h1m1 0h1m2 0h1m2 0h2m18 0h2m6 0h1m6 0h1m42 0h2m60 0h2m79 0h2m19 0h2m16 0h2m-353 1h1m31 0h1m8 0h1m7 0h1m4 0h1m23 0h1m5 0h1m4 0h1m3 0h1m21 0h1m1 0h1m42 0h1m7 0h1m145 0h2m13 0h2m11 0h2m5 0h2m5 0h2m-345 1h1m27 0h1m36 0h1m2 0h1m12 0h1m21 0h1m5 0h1m5 0h1m4 0h1m25 0h1m1 0h2m1 0h1m47 0h2m39 0h2m20 0h2m35 0h2m2 0h4m7 0h2m-300 1h1m13 0h1m2 0h1m22 0h1m7 0h1m7 0h1m24 0h1m2 0h2m19 0h1m34 0h2m2 0h2m91 0h1m71 0h2m-266 1h1m2 0h1m5 0h1m10 0h1m20 0h1m47 0h2m56 0h2m56 0h3m-273 1h1m15 0h1m2 0h1m20 0h1m4 0h1m6 0h1m20 0h1m6 0h1m2 0h1m4 0h1m18 0h1m6 0h1m10 0h1m165 0h2m4 0h2m4 0h2m2 0h2m-286 1h1m5 0h1m1 0h1m14 0h1m23 0h1m5 0h1m1 0h1m2 0h1m14 0h1m1 0h1m2 0h1m18 0h1m1 0h2m14 0h1m17 0h2m56 0h2m65 0h2m20 0h2m2 0h2m13 0h2m11 0h2m3 0h2m-363 1h1m44 0h1m35 0h1m5 0h1m4 0h1m1 0h1m8 0h2m1 0h1m2 0h1m11 0h1m48 0h1m35 0h2m10 0h1m59 0h1m39 0h2m4 0h2m-314 1h1m65 0h1m8 0h1m10 0h1m1 0h1m20 0h1m19 0h1m1 0h2m34 0h1m1 0h2m93 0h2m38 0h2m2 0h2m6 0h2m7 0h2m-287 1h1m17 0h1m13 0h1m6 0h1m9 0h1m25 0h1m3 0h1m18 0h1m22 0h2m2 0h2m26 0h1m92 0h2m2 0h2m28 0h3m2 0h2m17 0h2m-332 1h1m4 0h1m28 0h1m10 0h1m15 0h1m1 0h1m1 0h1m7 0h1m6 0h1m20 0h1m6 0h1m2 0h1m4 0h3m40 0h2m85 0h2m5 0h2m33 0h2m52 0h2m-390 1h1m77 0h1m5 0h1m9 0h1m17 0h1m1 0h4m1 0h1m3 0h2m12 0h1m3 0h1m13 0h1m3 0h2m86 0h2m3 0h1m27 0h2m27 0h2m31 0h4m-344 1h1m19 0h1m4 0h1m46 0h1m13 0h1m5 0h1m26 0h1m9 0h1m8 0h1m5 0h1m1 0h1m9 0h1m7 0h1m30 0h2m1 0h1m43 0h2m36 0h1m6 0h1m42 0h2m4 0h2m36 0h2m-378 1h1m14 0h1m28 0h1m53 0h1m7 0h1m6 0h1m2 0h2m2 0h1m2 0h2m29 0h1m2 0h1m1 0h1m149 0h2m7 0h2m28 0h4m18 0h2m6 0h3m2 0h2m3 0h2m-316 1h1m3 0h1m33 0h2m2 0h1m1 0h2m6 0h1m15 0h1m1 0h1m10 0h1m4 0h1m6 0h1m27 0h2m66 0h2m6 0h4m55 0h2m6 0h2m27 0h3m8 0h3m-373 1h1m15 0h1m37 0h1m2 0h1m10 0h1m2 0h1m38 0h1m8 0h1m16 0h1m13 0h1m41 0h1m43 0h2m50 0h2m36 0h2m2 0h2m8 0h2m-336 1h1m17 0h1m41 0h1m12 0h1m20 0h1m3 0h1m1 0h1m5 0h1m6 0h1m23 0h1m2 0h1m13 0h1m31 0h1m4 0h2m51 0h2m80 0h2m32 0h2m7 0h2m-292 1h1m19 0h1m1 0h1m2 0h1m4 0h1m3 0h1m13 0h2m1 0h2m2 0h1m10 0h1m1 0h1m35 0h2m160 0h2m6 0h3m18 0h2m-350 1h1m2 0h1m2 0h1m45 0h1m3 0h1m5 0h1m1 0h1m2 0h1m18 0h2m34 0h1m33 0h3m17 0h2m23 0h2m97 0h2m43 0h3m-332 1h1m10 0h1m15 0h2m27 0h1m5 0h2m1 0h1m4 0h1m25 0h2m14 0h1m27 0h1m3 0h1m3 0h1m137 0h2m6 0h2m29 0h2m-322 1h1m16 0h1m36 0h1m1 0h1m3 0h1m2 0h1m3 0h1m3 0h1m11 0h1m1 0h1m11 0h1m16 0h1m25 0h2m2 0h2m133 0h2m2 0h2m13 0h2m22 0h2m-390 1h1m23 0h1m56 0h1m35 0h1m3 0h2m2 0h1m3 0h1m18 0h1m11 0h3m46 0h1m135 0h4m21 0h2m9 0h2m7 0h5m-391 1h1m6 0h1m17 0h1m41 0h1m39 0h1m5 0h1m4 0h1m2 0h1m35 0h1m126 0h2m5 0h4m46 0h2m10 0h3m33 0h2m-283 1h1m36 0h1m1 0h1m8 0h1m20 0h1m6 0h2m44 0h1m27 0h1m38 0h2m36 0h2m6 0h2m2 0h4m31 0h2m-375 1h1m22 0h1m8 0h1m32 0h1m7 0h1m11 0h1m24 0h1m3 0h1m1 0h1m2 0h1m2 0h1m24 0h1m32 0h2m9 0h1m1 0h2m93 0h2m44 0h2m-283 1h1m9 0h1m2 0h1m42 0h1m7 0h1m5 0h1m12 0h1m1 0h1m14 0h1m15 0h2m17 0h1m3 0h3m100 0h2m21 0h2m12 0h2m6 0h2m22 0h2m-315 1h1m18 0h1m33 0h1m7 0h1m27 0h1m1 0h1m16 0h1m23 0h2m6 0h1m71 0h2m12 0h2m22 0h2m27 0h2m6 0h2m11 0h2m20 0h2m-356 1h1m29 0h1m58 0h3m12 0h1m29 0h1m14 0h1m5 0h1m18 0h2m6 0h2m27 0h1m41 0h2m58 0h2m8 0h2m5 0h2m13 0h2m-291 1h1m2 0h2m18 0h1m5 0h1m2 0h2m24 0h1m2 0h1m2 0h1m3 0h1m7 0h1m27 0h1m16 0h1m133 0h4m6 0h2m22 0h2m4 0h3m-339 1h1m3 0h1m8 0h1m18 0h1m31 0h1m13 0h1m29 0h1m40 0h1m12 0h1m24 0h1m73 0h2m35 0h4m17 0h2m-316 1h1m26 0h1m11 0h1m18 0h1m6 0h2m10 0h1m1 0h1m1 0h1m12 0h1m57 0h1m53 0h2m23 0h2m40 0h2m8 0h2m10 0h2m-282 1h1m4 0h1m16 0h1m32 0h1m4 0h1m3 0h1m4 0h1m8 0h1m20 0h2m30 0h2m9 0h1m24 0h1m22 0h1m58 0h2m31 0h2m2 0h2m9 0h2m20 0h2m-372 1h1m31 0h1m45 0h2m13 0h1m5 0h1m1 0h1m5 0h2m21 0h1m1 0h1m1 0h1m5 0h1m6 0h1m9 0h1m23 0h1m7 0h1m49 0h2m74 0h2m18 0h2m30 0h3m2 0h2m3 0h2m-373 1h1m23 0h1m67 0h1m8 0h1m6 0h1m16 0h1m11 0h1m7 0h1m27 0h2m9 0h2m36 0h2m95 0h2m34 0h2m-288 1h1m14 0h1m2 0h1m2 0h1m16 0h1m52 0h2m7 0h1m13 0h1m14 0h1m33 0h1m23 0h2m63 0h4m8 0h2m-271 1h1m14 0h1m11 0h1m3 0h1m1 0h1m5 0h1m4 0h1m26 0h2m49 0h1m19 0h2m115 0h2m4 0h2m30 0h3m7 0h2m-397 1h1m52 0h1m22 0h1m16 0h1m7 0h1m11 0h1m5 0h1m2 0h3m2 0h2m4 0h1m24 0h1m6 0h1m24 0h2m11 0h1m3 0h1m3 0h1m15 0h2m19 0h2m1 0h2m9 0h2m75 0h2m14 0h2m-335 1h1m77 0h1m12 0h1m9 0h1m3 0h1m4 0h1m4 0h1m1 0h1m9 0h1m1 0h1m12 0h1m3 0h1m3 0h1m34 0h1m22 0h2m64 0h1m40 0h2m12 0h2m13 0h2m-356 1h1m44 0h1m17 0h1m20 0h1m17 0h1m9 0h2m4 0h1m4 0h1m17 0h1m2 0h2m10 0h1m6 0h1m30 0h2m12 0h3m64 0h2m52 0h4m4 0h2m2 0h2m9 0h2m29 0h2m-305 1h1m21 0h1m8 0h1m10 0h1m15 0h1m14 0h2m36 0h1m158 0h2m26 0h2m3 0h2m-396 1h1m45 0h1m26 0h1m23 0h1m10 0h1m10 0h1m6 0h1m2 0h3m16 0h1m3 0h1m40 0h1m9 0h2m2 0h2m110 0h1m32 0h4m7 0h2m6 0h2m3 0h2m2 0h2m5 0h2m-388 1h1m37 0h1m16 0h1m17 0h1m3 0h1m20 0h1m4 0h1m8 0h1m2 0h1m5 0h1m3 0h1m6 0h2m4 0h1m160 0h2m78 0h2m2 0h3m-338 1h1m14 0h1m37 0h1m19 0h2m5 0h1m6 0h1m21 0h2m13 0h1m31 0h1m4 0h1m11 0h2m10 0h1m-220 1h1m65 0h1m18 0h1m12 0h1m4 0h1m4 0h1m1 0h1m2 0h1m7 0h2m10 0h1m8 0h1m33 0h1m15 0h2m57 0h1m65 0h2m8 0h2m10 0h2m26 0h2m3 0h2m2 0h3m-304 1h1m21 0h2m4 0h2m10 0h1m20 0h2m10 0h1m32 0h1m25 0h2m25 0h1m9 0h2m22 0h1m21 0h2m19 0h2m14 0h2m2 0h2m6 0h2m35 0h3m-313 1h1m42 0h3m1 0h2m1 0h1m33 0h1m141 0h2m49 0h3m30 0h3m-386 1h1m48 0h1m40 0h1m13 0h1m1 0h1m4 0h1m1 0h1m4 0h1m1 0h1m2 0h1m19 0h1m4 0h2m11 0h2m35 0h1m25 0h2m15 0h1m27 0h2m53 0h2m-210 1h2m2 0h1m1 0h1m3 0h1m23 0h2m13 0h1m67 0h1m17 0h4m30 0h2m45 0h2m4 0h2m8 0h2m15 0h3m18 0h2m-336 1h1m13 0h1m21 0h1m14 0h1m14 0h2m3 0h1m9 0h1m15 0h1m3 0h1m30 0h1m4 0h1m8 0h1m4 0h2m22 0h1m94 0h2m24 0h2m26 0h3m2 0h2m-391 1h1m4 0h1m59 0h1m43 0h1m2 0h1m8 0h1m2 0h3m9 0h1m20 0h1m6 0h2m2 0h1m34 0h2m2 0h2m1 0h1m129 0h2m2 0h2m4 0h2m-256 1h1m3 0h1m9 0h1m1 0h2m4 0h1m3 0h1m6 0h1m31 0h2m35 0h1m59 0h1m13 0h2m115 0h2m-353 1h1m25 0h1m3 0h1m27 0h1m4 0h1m6 0h1m3 0h1m4 0h1m5 0h2m4 0h2m19 0h1m1 0h1m15 0h1m3 0h1m19 0h1m5 0h1m10 0h1m26 0h2m21 0h2m63 0h2m6 0h2m12 0h2m13 0h2m15 0h4m-296 1h1m12 0h1m17 0h1m6 0h1m1 0h1m8 0h1m20 0h1m7 0h1m14 0h1m84 0h2m80 0h2m4 0h4m5 0h2m-363 1h1m55 0h1m24 0h1m33 0h1m5 0h1m6 0h1m4 0h1m6 0h1m1 0h1m9 0h1m12 0h1m30 0h1m5 0h1m2 0h1m11 0h1m51 0h2m51 0h2m10 0h2m4 0h4m8 0h2m7 0h2m2 0h2m2 0h2m23 0h2m-295 1h1m10 0h1m5 0h2m6 0h1m2 0h1m9 0h1m17 0h1m6 0h2m3 0h3m35 0h2m2 0h3m136 0h6m9 0h2m6 0h3m13 0h5m-310 1h1m5 0h1m6 0h1m3 0h1m20 0h1m6 0h1m17 0h1m3 0h1m54 0h1m4 0h2m21 0h1m48 0h1m35 0h1m14 0h2m4 0h4m4 0h2m2 0h2m30 0h5m-278 1h1m15 0h2m2 0h1m13 0h1m9 0h1m1 0h1m14 0h1m32 0h1m60 0h1m22 0h2m18 0h2m9 0h2m22 0h2m4 0h2m2 0h4m7 0h2m-322 1h1m12 0h1m23 0h1m37 0h1m2 0h1m1 0h1m43 0h2m21 0h1m14 0h2m141 0h2m2 0h2m15 0h2m-292 1h1m4 0h1m3 0h1m22 0h1m1 0h1m3 0h1m2 0h1m1 0h2m6 0h1m8 0h1m11 0h2m50 0h1m4 0h1m18 0h2m99 0h2m26 0h3m10 0h2m16 0h2m-332 1h1m11 0h1m13 0h1m6 0h1m18 0h1m14 0h1m1 0h2m23 0h1m7 0h1m5 0h1m41 0h1m51 0h2m81 0h2m17 0h2m8 0h3m11 0h2m-348 1h1m23 0h1m8 0h1m1 0h1m9 0h1m32 0h1m2 0h1m5 0h1m4 0h1m18 0h1m1 0h3m49 0h1m95 0h2m57 0h2m6 0h2m2 0h3m2 0h2m4 0h3m-329 1h1m57 0h1m7 0h1m8 0h1m2 0h1m15 0h1m2 0h1m9 0h1m8 0h1m19 0h2m1 0h1m12 0h1m137 0h2m4 0h2m38 0h2m-393 1h1m81 0h1m8 0h1m16 0h1m4 0h1m6 0h1m3 0h1m30 0h2m4 0h1m34 0h2m35 0h2m104 0h2m4 0h2m-301 1h1m73 0h2m1 0h1m6 0h1m68 0h1m3 0h1m3 0h1m14 0h1m63 0h2m29 0h2m18 0h4m21 0h2m11 0h2m14 0h2m-342 1h1m64 0h2m6 0h1m2 0h1m1 0h1m18 0h1m2 0h1m24 0h1m5 0h1m16 0h1m80 0h1m38 0h2m14 0h2m4 0h2m4 0h2m35 0h2m-286 1h1m7 0h1m7 0h1m8 0h1m13 0h1m14 0h1m2 0h1m7 0h1m48 0h1m46 0h2m53 0h1m18 0h2m8 0h6m7 0h2m-266 1h1m4 0h1m14 0h1m3 0h1m2 0h2m40 0h1m7 0h1m19 0h2m23 0h2m13 0h1m28 0h1m32 0h2m42 0h4m10 0h2m2 0h3m4 0h2m-270 1h1m9 0h1m16 0h1m4 0h1m2 0h2m34 0h1m33 0h1m7 0h1m2 0h1m8 0h2m37 0h2m69 0h2m20 0h4m7 0h2m11 0h2m4 0h3m-361 1h1m64 0h1m24 0h1m7 0h1m22 0h2m14 0h1m2 0h2m147 0h2m2 0h1m2 0h2m4 0h2m4 0h2m44 0h2m12 0h2m-344 1h1m25 0h1m29 0h1m9 0h1m4 0h1m8 0h2m8 0h1m17 0h1m11 0h1m38 0h2m143 0h5m15 0h2m-379 1h1m111 0h1m7 0h1m1 0h1m3 0h1m4 0h1m1 0h1m16 0h1m7 0h1m4 0h1m1 0h1m1 0h1m39 0h1m97 0h1m66 0h2m5 0h2m-303 1h1m1 0h2m15 0h1m15 0h1m2 0h1m1 0h1m1 0h1m2 0h1m6 0h1m5 0h1m10 0h1m4 0h1m1 0h1m81 0h1m22 0h1m79 0h2m2 0h2m2 0h2m8 0h2m36 0h2m-284 1h1m19 0h1m12 0h2m6 0h1m12 0h1m5 0h1m33 0h1m145 0h4m13 0h4m9 0h2m-350 1h1m2 0h1m71 0h1m15 0h1m21 0h1m34 0h1m19 0h4m19 0h1m58 0h2m18 0h3m39 0h2m4 0h2m2 0h2m-249 1h1m8 0h2m3 0h1m2 0h2m1 0h1m17 0h2m8 0h1m113 0h1m45 0h2m25 0h2m2 0h2m2 0h2m2 0h2m13 0h5m4 0h2m7 0h2m-276 1h2m11 0h1m31 0h1m41 0h1m28 0h1m3 0h1m31 0h2m19 0h1m53 0h2m2 0h2m17 0h2m2 0h2m-371 1h1m82 0h1m1 0h1m28 0h1m4 0h1m3 0h1m2 0h1m1 0h1m3 0h1m23 0h1m3 0h1m14 0h1m17 0h1m5 0h2m27 0h1m38 0h2m77 0h2m2 0h2m2 0h2m9 0h2m4 0h2m7 0h2m5 0h2m5 0h2m-327 1h1m43 0h1m2 0h1m12 0h1m2 0h1m20 0h1m157 0h2m13 0h2m2 0h2m6 0h4m4 0h4m6 0h5m8 0h2m-351 1h1m60 0h1m19 0h1m11 0h1m10 0h2m1 0h1m2 0h2m4 0h1m1 0h1m16 0h1m49 0h1m23 0h2m58 0h2m37 0h2m14 0h2m15 0h2m26 0h7m-276 1h1m1 0h2m3 0h1m8 0h1m24 0h1m44 0h1m22 0h2m117 0h2m4 0h2m7 0h2m6 0h2m21 0h2m-382 1h1m63 0h1m9 0h1m26 0h2m6 0h1m9 0h2m70 0h1m5 0h2m19 0h2m96 0h2m18 0h2m15 0h2m18 0h2m-361 1h1m9 0h1m3 0h1m38 0h1m26 0h1m15 0h1m6 0h1m14 0h1m49 0h1m10 0h2m9 0h1m28 0h2m1 0h2m7 0h2m3 0h2m36 0h2m1 0h2m8 0h2m23 0h2m8 0h2m6 0h3m10 0h2m5 0h2m-371 1h1m31 0h1m41 0h1m12 0h1m17 0h1m7 0h1m25 0h1m7 0h1m4 0h1m9 0h1m29 0h1m7 0h2m131 0h2m2 0h2m2 0h4m-347 1h1m85 0h1m32 0h1m6 0h1m5 0h1m6 0h1m10 0h3m8 0h1m33 0h1m44 0h2m42 0h2m41 0h2m8 0h2m6 0h4m-256 1h1m33 0h1m5 0h1m8 0h1m2 0h2m10 0h1m41 0h1m48 0h1m72 0h2m8 0h4m-324 1h1m40 0h1m24 0h1m1 0h1m7 0h1m27 0h2m6 0h1m18 0h1m3 0h1m48 0h1m86 0h2m45 0h2m16 0h2m13 0h2m7 0h2m9 0h2m3 0h2m-334 1h1m61 0h1m7 0h1m15 0h1m4 0h1m1 0h1m16 0h2m28 0h1m135 0h2m33 0h3m8 0h3m2 0h2m3 0h2m-372 1h1m101 0h1m2 0h1m4 0h2m2 0h1m17 0h1m14 0h1m15 0h1m15 0h2m48 0h2m87 0h6m2 0h2m19 0h2m-309 1h1m5 0h1m42 0h1m6 0h1m11 0h1m10 0h1m7 0h2m13 0h2m35 0h2m27 0h2m1 0h1m81 0h2m27 0h12m15 0h3m-308 1h1m29 0h1m6 0h1m10 0h1m2 0h1m5 0h1m7 0h1m5 0h1m6 0h1m1 0h1m3 0h1m7 0h1m11 0h1m19 0h1m51 0h1m95 0h2m10 0h9m4 0h2m-269 1h1m26 0h1m34 0h1m5 0h1m6 0h1m6 0h1m26 0h2m4 0h1m77 0h2m53 0h2m-340 1h1m28 0h1m23 0h1m51 0h1m5 0h2m2 0h2m2 0h1m25 0h1m8 0h1m39 0h1m7 0h1m56 0h2m36 0h2m33 0h2m27 0h2m16 0h2m-353 1h1m85 0h1m2 0h1m1 0h1m5 0h1m3 0h1m12 0h1m2 0h2m8 0h2m1 0h1m20 0h1m26 0h1m54 0h2m13 0h2m44 0h2m33 0h2m9 0h2m-333 1h1m14 0h1m4 0h1m22 0h1m3 0h1m4 0h1m2 0h1m27 0h2m2 0h1m19 0h1m1 0h1m11 0h1m9 0h1m8 0h1m91 0h2m5 0h2m3 0h2m22 0h2m2 0h2m25 0h4m8 0h2m5 0h2m2 0h4m11 0h2m-309 1h1m41 0h1m3 0h1m1 0h1m9 0h1m9 0h1m23 0h1m1 0h2m15 0h1m62 0h1m108 0h3m-301 1h1m8 0h1m4 0h1m11 0h1m30 0h1m4 0h4m2 0h1m14 0h1m8 0h1m66 0h2m81 0h2m50 0h2m7 0h2m8 0h3m18 0h2m-365 1h1m17 0h1m28 0h1m43 0h2m11 0h1m14 0h1m1 0h1m11 0h1m1 0h1m9 0h1m14 0h1m6 0h1m50 0h1m48 0h2m34 0h2m6 0h2m2 0h2m2 0h2m2 0h2m7 0h4m4 0h2m-346 1h1m60 0h1m4 0h1m29 0h2m2 0h1m5 0h1m83 0h1m91 0h4m31 0h2m4 0h2m2 0h4m-281 1h1m10 0h1m10 0h2m11 0h2m4 0h2m4 0h1m2 0h1m29 0h1m4 0h1m139 0h2m24 0h2m20 0h2m9 0h2m8 0h2m11 0h3m-323 1h1m17 0h1m6 0h1m32 0h2m10 0h1m1 0h1m7 0h1m7 0h1m18 0h1m81 0h2m11 0h1m22 0h2m20 0h2m27 0h2m4 0h2m8 0h2m-285 1h1m8 0h3m12 0h1m21 0h1m3 0h1m24 0h1m1 0h1m7 0h2m5 0h1m97 0h1m43 0h2m29 0h2m6 0h2m4 0h4m13 0h2m-370 1h1m34 0h1m21 0h1m30 0h1m6 0h1m21 0h1m1 0h1m1 0h1m14 0h1m16 0h1m21 0h1m132 0h2m31 0h2m6 0h2m2 0h2m31 0h2m-318 1h1m37 0h1m8 0h1m2 0h2m1 0h1m2 0h2m74 0h2m168 0h3m6 0h7m-343 1h1m9 0h1m5 0h1m7 0h1m25 0h1m14 0h2m6 0h1m4 0h1m6 0h1m22 0h1m2 0h1m9 0h1m34 0h1m4 0h2m8 0h1m38 0h2m5 0h1m34 0h2m42 0h2m8 0h2m2 0h2m7 0h2m-362 1h1m73 0h1m32 0h1m5 0h1m4 0h1m1 0h1m14 0h1m7 0h1m19 0h1m25 0h2m18 0h1m3 0h1m62 0h2m26 0h2m25 0h2m35 0h3m-292 1h1m27 0h1m2 0h1m2 0h2m2 0h1m1 0h1m1 0h2m1 0h1m16 0h1m21 0h3m27 0h1m3 0h1m74 0h2m30 0h2m4 0h2m19 0h2m4 0h2m2 0h2m-288 1h1m19 0h1m7 0h1m22 0h1m4 0h1m1 0h1m3 0h3m2 0h2m3 0h1m19 0h2m44 0h1m33 0h2m112 0h4m4 0h2m5 0h2m2 0h2m22 0h2m-299 1h1m23 0h2m5 0h2m22 0h1m9 0h1m7 0h1m5 0h1m139 0h2m35 0h2m8 0h3m2 0h2m22 0h2m5 0h2m-359 1h1m52 0h1m23 0h1m7 0h2m7 0h1m1 0h1m59 0h1m7 0h1m1 0h2m2 0h2m6 0h2m18 0h1m20 0h2m11 0h2m15 0h2m19 0h2m2 0h2m27 0h2m2 0h2m2 0h2m4 0h2m2 0h3m33 0h2m-358 1h1m36 0h1m40 0h1m11 0h1m2 0h1m19 0h1m41 0h1m56 0h3m6 0h2m34 0h1m52 0h4m2 0h2m2 0h5m21 0h3m-326 1h1m23 0h1m29 0h1m7 0h1m1 0h1m4 0h1m3 0h1m6 0h1m14 0h1m88 0h2m11 0h1m52 0h2m2 0h2m9 0h2m12 0h2m12 0h2m5 0h2m-299 1h1m7 0h1m42 0h1m2 0h2m6 0h1m5 0h1m23 0h1m8 0h1m14 0h1m20 0h1m20 0h2m124 0h2m26 0h2m16 0h2m-284 1h1m2 0h1m2 0h1m3 0h1m4 0h1m5 0h1m4 0h1m18 0h1m5 0h3m5 0h1m26 0h1m25 0h1m16 0h1m27 0h2m33 0h1m39 0h2m8 0h2m-244 1h1m4 0h1m8 0h1m1 0h2m2 0h1m74 0h2m8 0h1m6 0h1m71 0h2m21 0h1m20 0h2m2 0h4m17 0h2m24 0h3m-344 1h1m19 0h1m32 0h1m16 0h1m6 0h1m1 0h1m10 0h1m12 0h1m4 0h2m34 0h2m106 0h2m1 0h2m2 0h2m21 0h2m4 0h2m18 0h3m26 0h2m-344 1h1m43 0h1m21 0h1m2 0h1m4 0h1m5 0h1m12 0h1m13 0h2m8 0h1m46 0h2m91 0h2m34 0h2m14 0h2m-291 1h1m44 0h1m1 0h1m3 0h1m6 0h2m1 0h1m9 0h1m2 0h1m27 0h1m31 0h2m49 0h2m80 0h2m8 0h2m6 0h2m24 0h2m-341 1h1m62 0h1m13 0h1m4 0h1m2 0h1m16 0h1m27 0h1m11 0h1m135 0h4m63 0h2m5 0h2m-340 1h1m30 0h1m37 0h3m22 0h1m8 0h1m11 0h2m3 0h1m14 0h1m32 0h2m1 0h2m71 0h3m52 0h2m32 0h3m-274 1h1m2 0h1m7 0h1m3 0h1m1 0h2m5 0h1m14 0h1m3 0h1m5 0h1m5 0h1m16 0h1m16 0h3m6 0h2m42 0h1m46 0h2m15 0h1m-262 1h1m27 0h1m42 0h1m2 0h1m5 0h1m2 0h3m10 0h1m2 0h1m3 0h1m4 0h2m13 0h1m37 0h2m10 0h1m47 0h2m17 0h2m17 0h2m17 0h2m8 0h2m8 0h2m-269 1h1m12 0h1m8 0h1m8 0h2m1 0h3m2 0h1m1 0h1m26 0h1m3 0h1m2 0h1m41 0h1m52 0h2m69 0h2m18 0h2m2 0h2m9 0h2m11 0h2m4 0h3m-369 1h1m96 0h1m2 0h1m6 0h1m21 0h1m3 0h1m8 0h1m12 0h1m23 0h1m9 0h2m20 0h2m25 0h2m98 0h5m2 0h2m26 0h3m-368 1h1m52 0h1m19 0h1m23 0h1m1 0h1m15 0h1m9 0h1m66 0h1m77 0h2m46 0h2m8 0h2m28 0h3m-269 1h1m11 0h1m22 0h1m8 0h1m8 0h1m33 0h1m85 0h2m11 0h1m66 0h2m7 0h2m-276 1h1m5 0h1m10 0h1m33 0h1m4 0h1m165 0h2m12 0h2m10 0h2m5 0h2m26 0h5m-280 1h1m4 0h1m4 0h2m15 0h1m13 0h1m6 0h1m30 0h1m5 0h2m1 0h1m3 0h1m43 0h2m27 0h2m28 0h2m27 0h2m14 0h2m-337 1h1m23 0h1m72 0h2m1 0h1m1 0h2m6 0h1m26 0h1m12 0h2m3 0h1m35 0h1m21 0h2m55 0h2m4 0h1m34 0h2m14 0h2m21 0h2m-291 1h1m31 0h1m3 0h1m2 0h1m1 0h1m2 0h1m24 0h1m17 0h1m3 0h2m41 0h1m41 0h2m49 0h2m11 0h2m20 0h2m12 0h2m3 0h4m4 0h2m-268 1h1m7 0h1m11 0h1m4 0h1m3 0h1m74 0h2m4 0h1m1 0h2m88 0h2m66 0h3m18 0h2m-380 1h1m18 0h1m7 0h1m68 0h1m5 0h1m6 0h2m4 0h1m1 0h1m19 0h1m44 0h1m3 0h1m2 0h1m5 0h2m8 0h1m83 0h2m47 0h2m-267 1h1m23 0h1m10 0h2m1 0h3m1 0h1m126 0h1m18 0h2m63 0h2m12 0h2m20 0h2m-342 1h1m79 0h1m4 0h1m3 0h1m24 0h1m8 0h1m1 0h1m2 0h1m21 0h1m14 0h2m2 0h2m41 0h2m96 0h2m4 0h2m38 0h2m-323 1h1m41 0h1m6 0h2m83 0h2m20 0h2m13 0h1m7 0h1m81 0h4m4 0h2m10 0h2m-287 1h1m3 0h1m4 0h2m16 0h1m1 0h1m13 0h1m29 0h1m8 0h1m4 0h1m7 0h1m3 0h1m3 0h1m63 0h2m57 0h1m36 0h2m33 0h2m22 0h3m-304 1h1m2 0h1m18 0h1m1 0h1m3 0h1m3 0h1m1 0h1m49 0h1m27 0h1m4 0h2m74 0h1m5 0h2m51 0h2m6 0h4m7 0h2m2 0h2m15 0h2m-384 1h1m84 0h1m14 0h1m10 0h1m14 0h1m2 0h2m1 0h1m14 0h1m1 0h1m14 0h1m8 0h1m8 0h1m5 0h1m7 0h1m8 0h1m85 0h2m26 0h1m28 0h2m4 0h4m20 0h2m-335 1h1m28 0h2m5 0h1m31 0h1m7 0h1m2 0h1m26 0h2m1 0h2m5 0h2m3 0h1m9 0h1m29 0h1m6 0h1m132 0h2m2 0h4m2 0h2m9 0h2m-365 1h1m69 0h1m22 0h1m16 0h1m2 0h1m2 0h1m20 0h1m10 0h1m9 0h1m44 0h2m23 0h2m71 0h4m17 0h2m22 0h4m24 0h2m11 0h3m-344 1h1m20 0h1m21 0h1m19 0h1m2 0h1m9 0h1m1 0h1m10 0h1m2 0h1m1 0h1m11 0h1m30 0h1m19 0h2m2 0h2m31 0h1m38 0h1m54 0h2m4 0h2m8 0h2m7 0h2m8 0h3m-307 1h1m26 0h1m8 0h1m7 0h1m12 0h1m3 0h1m17 0h1m9 0h2m6 0h1m31 0h1m11 0h1m84 0h1m9 0h2m27 0h2m16 0h4m35 0h3m-274 1h1m4 0h1m6 0h1m13 0h1m20 0h1m45 0h1m67 0h2m30 0h4m2 0h1m26 0h6m2 0h4m3 0h6m15 0h2m5 0h2m-341 1h1m14 0h1m17 0h1m18 0h1m10 0h1m5 0h1m3 0h1m5 0h1m2 0h1m1 0h1m19 0h1m5 0h1m36 0h1m23 0h1m22 0h1m36 0h2m-219 1h1m1 0h1m5 0h1m5 0h2m16 0h1m22 0h1m27 0h1m5 0h1m9 0h1m10 0h1m19 0h2m25 0h1m50 0h2m45 0h1m30 0h2m6 0h3m8 0h2m-290 1h1m18 0h1m33 0h1m20 0h1m16 0h1m28 0h1m1 0h2m40 0h2m93 0h4m10 0h2m2 0h5m21 0h3m4 0h3m-360 1h1m62 0h2m12 0h1m11 0h1m37 0h1m40 0h1m7 0h3m51 0h2m6 0h2m46 0h2m4 0h2m12 0h2m4 0h2m4 0h6m-283 1h1m2 0h1m40 0h1m7 0h1m2 0h1m2 0h1m13 0h1m4 0h1m4 0h1m7 0h1m3 0h2m20 0h1m5 0h1m9 0h2m84 0h2m18 0h2m23 0h2m2 0h2m2 0h2m15 0h2m-238 1h1m1 0h3m18 0h1m2 0h1m3 0h1m47 0h1m43 0h1m106 0h2m3 0h2m24 0h4m-335 1h1m18 0h1m37 0h1m9 0h1m15 0h1m12 0h1m5 0h2m2 0h1m5 0h1m38 0h2m1 0h1m2 0h1m77 0h2m12 0h2m41 0h2m19 0h2m11 0h2m-299 1h1m26 0h1m3 0h1m7 0h1m1 0h2m24 0h1m34 0h1m15 0h2m141 0h2m6 0h4m5 0h4m9 0h2m-322 1h1m50 0h1m7 0h1m6 0h1m3 0h2m1 0h1m22 0h1m36 0h2m11 0h1m61 0h2m10 0h1m9 0h2m34 0h2m10 0h2m6 0h2m19 0h4m20 0h2m-305 1h1m4 0h1m2 0h1m18 0h1m8 0h1m2 0h1m5 0h1m16 0h1m5 0h1m2 0h2m41 0h1m11 0h1m18 0h2m45 0h1m25 0h2m24 0h2m6 0h2m-236 1h1m9 0h1m3 0h1m1 0h1m2 0h2m2 0h1m4 0h1m10 0h1m3 0h1m6 0h1m2 0h1m9 0h1m39 0h1m3 0h1m157 0h2m2 0h2m-313 1h1m1 0h1m19 0h1m34 0h3m2 0h1m2 0h2m1 0h2m2 0h1m3 0h1m17 0h1m1 0h1m18 0h1m113 0h2m26 0h2m27 0h2m21 0h2m20 0h5m-359 1h1m43 0h1m10 0h1m22 0h1m7 0h1m10 0h1m9 0h3m17 0h1m1 0h1m2 0h2m50 0h1m120 0h2m6 0h2m2 0h4m20 0h4m-367 1h1m9 0h1m86 0h1m1 0h1m8 0h1m27 0h1m13 0h1m8 0h1m22 0h1m23 0h1m7 0h2m80 0h2m29 0h6m34 0h2m-309 1h1m1 0h1m18 0h1m1 0h1m20 0h3m1 0h1m5 0h1m31 0h2m5 0h1m36 0h1m1 0h2m89 0h2m9 0h2m15 0h2m12 0h2m2 0h2m2 0h2m2 0h2m19 0h3m-315 1h1m53 0h2m8 0h1m1 0h1m5 0h1m18 0h1m4 0h1m9 0h1m3 0h1m38 0h1m65 0h1m16 0h2m49 0h2m8 0h2m22 0h2m-266 1h1m3 0h1m5 0h1m1 0h1m23 0h2m2 0h1m14 0h2m12 0h2m18 0h2m2 0h2m1 0h1m117 0h2m10 0h4m27 0h2m-369 1h1m15 0h1m91 0h1m7 0h1m2 0h1m2 0h1m1 0h1m4 0h1m14 0h1m7 0h1m71 0h1m76 0h2m37 0h2m-334 1h1m8 0h1m27 0h1m21 0h1m40 0h2m2 0h1m10 0h1m17 0h1m25 0h1m2 0h1m11 0h1m22 0h1m26 0h2m43 0h2m21 0h1m43 0h4m2 0h4m20 0h2m14 0h2m-307 1h1m26 0h1m3 0h2m25 0h1m9 0h1m4 0h1m8 0h2m9 0h1m70 0h2m75 0h2m31 0h2m19 0h3m-335 1h1m7 0h1m23 0h1m10 0h1m14 0h1m7 0h2m3 0h1m3 0h1m1 0h1m23 0h1m39 0h1m13 0h2m1 0h1m17 0h1m121 0h2m17 0h2m-333 1h1m24 0h1m12 0h1m6 0h1m27 0h1m10 0h1m1 0h1m7 0h1m10 0h1m20 0h2m1 0h1m35 0h2m8 0h1m134 0h2m2 0h2m11 0h2m20 0h2m2 0h3m-335 1h1m30 0h1m14 0h1m34 0h1m8 0h1m12 0h1m56 0h2m20 0h1m102 0h2m23 0h2m11 0h2m3 0h2m-379 1h1m12 0h1m76 0h1m14 0h1m2 0h1m4 0h1m3 0h1m7 0h1m21 0h1m6 0h1m14 0h2m16 0h2m127 0h2m6 0h2m6 0h4m8 0h2m-274 1h1m8 0h1m20 0h1m3 0h1m11 0h2m3 0h1m9 0h1m27 0h1m29 0h2m81 0h2m27 0h2m31 0h2m8 0h2m26 0h3m-333 1h1m21 0h1m41 0h1m6 0h1m26 0h1m5 0h2m11 0h1m37 0h1m95 0h2m21 0h2m14 0h4m6 0h2m31 0h2m-312 1h1m38 0h1m28 0h1m2 0h1m13 0h1m154 0h2m25 0h2m17 0h2m-271 1h1m21 0h1m8 0h1m5 0h1m10 0h1m1 0h1m2 0h1m4 0h1m3 0h1m24 0h1m7 0h2m11 0h1m47 0h2m94 0h2m6 0h2m7 0h2m-320 1h1m34 0h1m31 0h1m10 0h1m1 0h1m25 0h1m10 0h1m3 0h1m12 0h1m30 0h1m47 0h1m87 0h6m6 0h3m4 0h2m2 0h2m16 0h2m2 0h3m-279 1h1m2 0h1m1 0h1m25 0h1m9 0h1m9 0h1m40 0h2m115 0h2m14 0h2m2 0h2m6 0h4m2 0h3m15 0h2m6 0h3m-304 1h1m9 0h1m26 0h1m2 0h1m1 0h3m47 0h1m55 0h1m20 0h1m18 0h1m19 0h2m31 0h2m20 0h2m2 0h6m2 0h3m10 0h2m18 0h3m-359 1h1m36 0h1m49 0h1m15 0h1m13 0h1m3 0h1m1 0h2m5 0h1m1 0h1m34 0h1m56 0h2m71 0h2m4 0h2m4 0h2m6 0h2m-316 1h1m37 0h1m6 0h1m3 0h1m27 0h1m1 0h2m2 0h1m7 0h1m1 0h1m4 0h1m5 0h1m3 0h1m14 0h2m4 0h2m133 0h2m26 0h2m24 0h5m-320 1h1m42 0h1m3 0h1m20 0h1m6 0h1m16 0h1m2 0h1m4 0h1m10 0h1m12 0h1m20 0h1m24 0h2m91 0h1m58 0h2m15 0h2m-380 1h1m28 0h1m86 0h1m2 0h1m1 0h2m5 0h1m9 0h1m19 0h1m2 0h1m1 0h1m7 0h1m24 0h1m11 0h1m15 0h2m7 0h1m38 0h2m12 0h1m15 0h1m39 0h2m2 0h2m4 0h2m9 0h2m-320 1h1m11 0h1m8 0h1m10 0h1m20 0h1m2 0h1m3 0h1m11 0h1m1 0h1m1 0h1m24 0h1m1 0h1m1 0h1m9 0h1m4 0h1m4 0h1m37 0h1m6 0h1m93 0h2m25 0h2m14 0h2m-334 1h1m93 0h1m1 0h2m8 0h1m18 0h1m13 0h1m44 0h1m4 0h2m11 0h1m17 0h2m63 0h2m41 0h2m13 0h2m2 0h2m18 0h2m-299 1h1m3 0h1m15 0h1m2 0h1m13 0h1m4 0h1m9 0h1m6 0h3m52 0h1m43 0h2m32 0h2m16 0h2m16 0h2m32 0h7m6 0h2m25 0h2m-379 1h1m74 0h1m19 0h1m6 0h1m1 0h1m4 0h2m6 0h1m27 0h1m86 0h1m36 0h2m42 0h2m16 0h2m44 0h2m-376 1h1m5 0h1m29 0h1m3 0h1m40 0h2m7 0h1m2 0h1m8 0h1m6 0h1m2 0h1m16 0h1m2 0h1m1 0h1m162 0h2m23 0h2m6 0h2m2 0h2m-283 1h1m26 0h1m9 0h1m7 0h1m10 0h3m5 0h1m18 0h1m8 0h1m37 0h2m2 0h2m108 0h2m25 0h4m25 0h5m11 0h2m-295 1h1m17 0h1m11 0h1m3 0h1m10 0h1m5 0h1m2 0h1m10 0h1m4 0h1m142 0h2m25 0h2m8 0h4m13 0h2"/>
<path stroke="#c2df23" d="m87 58h1m62 0h1m4 0h1m80 0h1m50 0h3m154 0h4m9 0h4m-270 1h1m7 0h1m5 0h1m3 0h1m4 0h2m219 0h4m36 0h2m-321 1h1m1 0h2m2 0h1m31 0h1m3 0h1m5 0h1m1 0h1m1 0h1m2 0h1m19 0h1m13 0h1m1 0h1m4 0h1m30 0h1m7 0h1m10 0h1m114 0h2m2 0h4m-276 1h1m21 0h2m11 0h1m23 0h1m1 0h1m3 0h1m6 0h1m12 0h1m17 0h1m176 0h2m-284 1h1m8 0h1m8 0h1m15 0h1m15 0h1m6 0h1m3 0h2m1 0h1m23 0h1m7 0h1m47 0h1m20 0h1m79 0h2m31 0h2m8 0h2m-321 1h1m2 0h1m47 0h1m74 0h1m7 0h2m39 0h1m113 0h2m12 0h2m4 0h4m4 0h2m15 0h4m18 0h3m-272 1h2m5 0h1m8 0h1m16 0h1m4 0h1m3 0h1m208 0h3m-313 1h1m32 0h1m53 0h1m11 0h1m38 0h1m9 0h2m109 0h2m41 0h2m-337 1h1m61 0h1m32 0h1m26 0h1m12 0h1m39 0h1m19 0h1m30 0h2m133 0h3m-298 1h1m8 0h1m10 0h1m1 0h1m9 0h1m33 0h1m40 0h2m108 0h2m37 0h2m2 0h2m13 0h2m5 0h2m-260 1h1m2 0h1m24 0h1m3 0h1m1 0h1m212 0h2m4 0h3m4 0h2m-264 1h1m27 0h1m4 0h1m9 0h1m5 0h1m1 0h2m125 0h2m17 0h2m-238 1h1m6 0h1m28 0h1m8 0h1m8 0h2m19 0h1m7 0h1m40 0h2m2 0h2m2 0h2m66 0h2m2 0h1m18 0h3m39 0h2m4 0h2m21 0h3m15 0h3m-368 1h1m30 0h1m41 0h1m26 0h1m4 0h1m18 0h1m10 0h1m2 0h1m24 0h2m8 0h2m2 0h2m100 0h2m43 0h2m-229 1h2m6 0h1m1 0h1m17 0h1m2 0h1m1 0h2m155 0h2m2 0h2m35 0h2m17 0h3m2 0h2m-321 1h1m61 0h1m38 0h1m3 0h1m4 0h2m5 0h1m34 0h2m2 0h2m49 0h1m37 0h1m84 0h2m-246 1h1m6 0h1m9 0h1m9 0h1m91 0h2m99 0h2m-226 1h1m11 0h1m12 0h1m2 0h2m169 0h4m10 0h2m-237 1h1m3 0h1m89 0h1m122 0h2m18 0h2m-285 1h1m47 0h1m10 0h1m21 0h1m10 0h1m37 0h2m90 0h1m8 0h1m4 0h2m21 0h2m16 0h2m-271 1h1m35 0h1m1 0h1m9 0h1m2 0h1m112 0h2m83 0h2m22 0h2m-233 1h1m2 0h1m11 0h1m21 0h1m13 0h2m30 0h1m14 0h1m10 0h2m102 0h2m16 0h2m26 0h2m-295 1h1m26 0h2m12 0h1m29 0h1m125 0h2m40 0h2m10 0h4m14 0h3m28 0h2m-280 1h1m6 0h1m1 0h1m5 0h1m42 0h2m32 0h2m8 0h1m5 0h2m74 0h1m32 0h2m39 0h2m-247 1h1m5 0h1m22 0h1m13 0h1m30 0h1m18 0h1m86 0h1m49 0h2m22 0h2m-322 1h1m55 0h1m14 0h1m11 0h1m13 0h1m4 0h1m143 0h1m58 0h2m4 0h2m16 0h2m5 0h2m-326 1h1m8 0h1m38 0h1m5 0h1m13 0h1m8 0h1m53 0h1m103 0h2m51 0h3m2 0h2m-248 1h1m13 0h1m30 0h1m47 0h1m133 0h2m8 0h2m24 0h2m12 0h2m-284 1h1m43 0h1m3 0h1m10 0h1m42 0h1m62 0h2m41 0h2m45 0h2m20 0h2m-344 1h1m32 0h1m11 0h1m21 0h1m37 0h1m189 0h2m10 0h2m-345 1h1m101 0h1m43 0h1m25 0h2m16 0h1m17 0h2m74 0h1m67 0h2m-341 1h1m87 0h1m16 0h1m1 0h1m32 0h1m36 0h1m4 0h1m129 0h2m8 0h2m2 0h2m2 0h2m2 0h3m-299 1h1m11 0h1m40 0h1m9 0h1m5 0h2m19 0h1m12 0h1m92 0h1m32 0h2m26 0h1m34 0h2m-275 1h1m40 0h1m6 0h1m1 0h1m8 0h1m23 0h1m2 0h1m39 0h2m4 0h1m36 0h2m24 0h1m63 0h2m45 0h2m-234 1h1m5 0h1m2 0h1m67 0h2m10 0h1m29 0h2m26 0h2m38 0h2m2 0h2m-221 1h1m21 0h1m19 0h2m9 0h1m17 0h1m4 0h3m167 0h3m-288 1h1m8 0h1m2 0h1m18 0h2m36 0h1m49 0h2m121 0h2m6 0h2m6 0h2m8 0h5m4 0h2m4 0h2m-294 1h1m43 0h1m2 0h1m223 0h2m-254 1h1m19 0h1m5 0h1m1 0h2m2 0h1m24 0h1m8 0h1m2 0h1m184 0h2m2 0h2m11 0h2m7 0h4m-257 1h1m1 0h2m4 0h1m17 0h1m65 0h1m160 0h2m-306 1h1m3 0h1m38 0h1m4 0h1m221 0h2m10 0h2m36 0h2m-304 1h1m29 0h1m10 0h1m1 0h1m16 0h1m15 0h1m37 0h1m49 0h2m11 0h2m25 0h2m91 0h2m-227 1h1m6 0h1m15 0h1m18 0h1m143 0h4m11 0h2m-328 1h1m58 0h1m7 0h1m13 0h1m2 0h1m1 0h2m2 0h1m2 0h1m17 0h1m2 0h1m60 0h1m35 0h2m44 0h2m67 0h2m4 0h2m18 0h3m-390 1h1m108 0h1m1 0h1m6 0h1m9 0h1m19 0h1m108 0h2m89 0h2m28 0h2m-309 1h1m2 0h1m32 0h1m13 0h2m3 0h1m1 0h1m23 0h2m13 0h1m-105 1h1m32 0h1m27 0h1m1 0h1m3 0h1m17 0h1m1 0h2m10 0h1m13 0h1m100 0h2m67 0h2m30 0h2m-378 1h1m88 0h1m9 0h1m7 0h1m5 0h1m3 0h1m4 0h1m29 0h2m136 0h2m80 0h2m-353 1h1m63 0h1m29 0h1m1 0h1m39 0h1m117 0h2m3 0h2m32 0h2m-258 1h1m42 0h1m10 0h1m8 0h1m6 0h1m63 0h1m11 0h1m129 0h4m8 0h2m28 0h2m-378 1h1m52 0h1m33 0h1m8 0h1m20 0h1m1 0h1m40 0h1m31 0h1m96 0h1m52 0h2m-251 1h1m22 0h1m20 0h1m13 0h1m17 0h1m22 0h1m22 0h1m122 0h4m17 0h2m-306 1h1m20 0h1m27 0h1m5 0h2m10 0h1m6 0h1m19 0h1m46 0h1m21 0h1m-180 1h1m75 0h1m7 0h1m1 0h2m15 0h1m37 0h1m132 0h1m-214 1h1m8 0h2m50 0h1m201 0h2m11 0h2m10 0h2m-245 1h1m8 0h1m8 0h2m1 0h1m28 0h2m3 0h3m106 0h2m33 0h2m2 0h2m7 0h2m8 0h3m-263 1h1m9 0h1m33 0h1m5 0h1m8 0h1m55 0h1m125 0h4m20 0h2m-260 1h1m22 0h1m10 0h1m2 0h1m7 0h1m2 0h1m27 0h1m6 0h3m109 0h2m56 0h3m2 0h2m7 0h2m-288 1h1m16 0h1m9 0h1m23 0h1m57 0h1m137 0h2m6 0h2m13 0h2m7 0h2m-291 1h1m28 0h1m5 0h1m10 0h1m79 0h1m126 0h2m8 0h2m17 0h3m-293 1h1m1 0h1m14 0h1m24 0h1m1 0h2m3 0h1m24 0h1m-38 1h1m6 0h1m2 0h1m22 0h1m44 0h1m-117 1h1m26 0h1m12 0h1m16 0h1m2 0h1m12 0h1m6 0h1m167 0h2m4 0h2m18 0h2m-286 1h1m33 0h1m4 0h1m20 0h1m17 0h1m13 0h1m15 0h1m91 0h2m43 0h2m17 0h2m10 0h2m28 0h2m11 0h3m-263 1h1m23 0h1m1 0h1m14 0h1m26 0h2m6 0h2m19 0h1m129 0h3m26 0h2m-335 1h1m38 0h1m1 0h1m30 0h2m22 0h1m10 0h1m129 0h2m7 0h2m50 0h2m28 0h2m-307 1h1m22 0h1m23 0h1m3 0h1m37 0h1m89 0h2m96 0h2m26 0h5m-266 1h2m25 0h1m53 0h1m61 0h2m25 0h2m72 0h2m6 0h3m-317 1h1m12 0h1m19 0h1m23 0h1m9 0h1m2 0h1m158 0h1m-266 1h1m61 0h1m15 0h1m16 0h1m3 0h1m9 0h1m11 0h1m7 0h1m3 0h1m50 0h2m115 0h2m18 0h2m-223 1h1m7 0h1m94 0h2m116 0h2m27 0h3m-358 1h1m32 0h2m32 0h2m3 0h1m32 0h1m86 0h1m147 0h3m4 0h2m-353 1h1m55 0h1m45 0h1m26 0h1m229 0h3m-263 1h1m2 0h1m4 0h1m5 0h1m1 0h1m2 0h1m17 0h1m6 0h1m11 0h2m35 0h1m133 0h2m-253 1h1m34 0h1m6 0h1m18 0h1m175 0h2m16 0h2m48 0h2m-382 1h1m8 0h1m92 0h1m1 0h1m4 0h1m29 0h1m18 0h1m80 0h2m40 0h1m34 0h2m18 0h2m37 0h2m-264 1h1m7 0h1m27 0h1m49 0h1m28 0h2m110 0h4m-283 1h1m2 0h1m41 0h1m18 0h1m131 0h1m86 0h3m6 0h2m-327 1h1m63 0h1m10 0h1m5 0h1m1 0h1m79 0h1m1 0h2m5 0h1m119 0h2m42 0h2m14 0h2m-313 1h1m2 0h1m40 0h1m4 0h1m19 0h1m61 0h1m131 0h2m25 0h3m-322 1h1m34 0h1m27 0h1m3 0h1m43 0h1m1 0h1m45 0h1m97 0h2m41 0h2m-264 1h1m25 0h1m4 0h1m6 0h1m258 0h2m3 0h2m-394 1h1m113 0h1m7 0h1m2 0h1m22 0h1m107 0h1m-222 1h1m57 0h1m23 0h1m87 0h2m91 0h4m1 0h2m35 0h2m6 0h2m2 0h2m-288 1h1m2 0h1m28 0h1m25 0h1m49 0h1m29 0h1m88 0h1m4 0h2m13 0h2m33 0h2m37 0h2m-319 1h2m7 0h1m32 0h1m30 0h1m60 0h1m64 0h1m66 0h2m6 0h2m-335 1h1m137 0h2m5 0h2m3 0h1m23 0h1m158 0h2m34 0h2m3 0h2m-226 1h1m42 0h1m100 0h2m2 0h2m21 0h2m2 0h2m42 0h2m10 0h2m-317 1h1m41 0h1m2 0h1m82 0h2m137 0h2m-223 1h1m5 0h1m4 0h1m32 0h2m2 0h1m36 0h1m66 0h2m36 0h2m63 0h2m-347 1h1m29 0h1m15 0h1m27 0h1m6 0h1m5 0h1m2 0h2m2 0h1m12 0h1m9 0h1m57 0h1m80 0h2m-294 1h1m52 0h1m39 0h1m13 0h1m103 0h1m56 0h2m40 0h2m27 0h2m42 0h2m-271 1h1m4 0h1m7 0h1m4 0h1m18 0h1m13 0h1m42 0h2m23 0h2m124 0h3m-248 1h1m4 0h1m6 0h1m7 0h1m8 0h1m3 0h1m1 0h1m4 0h1m9 0h1m4 0h1m30 0h2m88 0h2m51 0h2m4 0h2m-228 1h1m7 0h1m215 0h2m-286 1h1m64 0h1m4 0h1m130 0h1m72 0h2m20 0h3m4 0h2m-300 1h1m51 0h1m31 0h1m10 0h1m4 0h1m96 0h2m27 0h2m18 0h2m31 0h2m-262 1h1m28 0h1m2 0h1m27 0h1m10 0h1m6 0h2m45 0h2m76 0h2m49 0h2m4 0h2m17 0h2m-343 1h1m107 0h2m2 0h1m24 0h1m6 0h1m33 0h1m3 0h1m2 0h1m-194 1h1m107 0h1m4 0h1m16 0h1m189 0h2m16 0h2m11 0h2m20 0h2m-384 1h1m114 0h1m79 0h1m179 0h2m-358 1h1m25 0h1m30 0h1m36 0h1m1 0h1m5 0h1m45 0h1m27 0h1m3 0h1m86 0h2m47 0h2m-232 1h1m1 0h1m2 0h1m2 0h1m5 0h1m1 0h1m2 0h2m66 0h2m2 0h2m21 0h2m85 0h2m48 0h2m13 0h2m-269 1h1m7 0h1m3 0h1m10 0h1m6 0h1m15 0h1m9 0h1m26 0h2m5 0h1m8 0h1m28 0h2m64 0h2m8 0h2m23 0h2m8 0h2m35 0h2m-334 1h1m68 0h1m3 0h1m27 0h1m15 0h1m38 0h2m37 0h2m57 0h2m2 0h2m31 0h2m6 0h2m-340 1h1m29 0h1m82 0h2m20 0h1m13 0h1m36 0h1m11 0h1m129 0h2m32 0h2m-269 1h1m8 0h1m1 0h1m1 0h2m3 0h1m3 0h1m3 0h1m20 0h2m51 0h2m-112 1h1m15 0h1m7 0h1m3 0h2m33 0h1m2 0h1m34 0h1m25 0h1m84 0h2m13 0h2m16 0h2m8 0h2m-273 1h1m51 0h2m62 0h1m72 0h2m104 0h2m12 0h2m-329 1h1m28 0h1m7 0h1m19 0h1m107 0h2m1 0h1m41 0h4m61 0h2m2 0h2m6 0h2m38 0h2m-288 1h1m8 0h1m4 0h1m4 0h1m54 0h1m3 0h1m20 0h2m121 0h2m62 0h2m-390 1h1m55 0h1m14 0h1m14 0h1m19 0h1m10 0h3m42 0h1m37 0h1m3 0h1m135 0h2m10 0h3m2 0h2m17 0h2m-272 1h1m2 0h1m8 0h1m5 0h1m18 0h1m41 0h1m11 0h4m7 0h1m131 0h2m2 0h2m9 0h2m-252 1h1m6 0h2m3 0h1m6 0h1m8 0h1m158 0h2m46 0h2m4 0h2m7 0h2m-264 1h1m21 0h1m1 0h1m24 0h1m11 0h1m7 0h1m144 0h2m37 0h2m40 0h2m-315 1h1m10 0h1m18 0h1m11 0h1m19 0h1m63 0h3m28 0h1m74 0h2m56 0h2m-319 1h1m15 0h1m45 0h1m36 0h1m3 0h1m15 0h1m18 0h1m17 0h1m41 0h1m28 0h2m67 0h2m-255 1h1m24 0h1m30 0h1m4 0h2m46 0h1m25 0h2m4 0h1m111 0h2m37 0h2m-261 1h1m48 0h1m3 0h2m155 0h2m52 0h2m-324 1h1m7 0h1m3 0h1m22 0h1m3 0h1m21 0h1m20 0h2m49 0h1m1 0h2m-131 1h1m39 0h1m5 0h1m3 0h1m4 0h1m18 0h1m8 0h1m48 0h1m117 0h2m64 0h2m-318 1h1m81 0h1m6 0h1m33 0h1m1 0h2m99 0h1m71 0h2m-287 1h1m7 0h1m2 0h1m17 0h1m1 0h1m1 0h2m1 0h2m19 0h1m17 0h1m31 0h3m52 0h2m91 0h2m-258 1h1m6 0h1m25 0h1m22 0h1m5 0h1m1 0h1m42 0h1m8 0h1m42 0h1m54 0h1m2 0h2m47 0h2m26 0h3m-270 1h1m7 0h1m10 0h1m25 0h2m145 0h2m83 0h2m-391 1h1m72 0h1m33 0h1m3 0h1m1 0h2m3 0h1m8 0h1m4 0h1m17 0h1m13 0h2m92 0h1m56 0h2m28 0h2m-228 1h1m3 0h1m20 0h1m1 0h1m77 0h2m111 0h4m12 0h3m-289 1h1m53 0h2m24 0h2m196 0h2m13 0h2m-250 1h1m5 0h1m14 0h1m33 0h1m194 0h2m-278 1h1m26 0h1m30 0h1m5 0h1m15 0h1m33 0h1m4 0h1m133 0h2m8 0h2m-288 1h1m30 0h1m19 0h1m42 0h1m9 0h1m115 0h1m24 0h2m23 0h2m2 0h2m25 0h2m11 0h2m-368 1h1m91 0h1m9 0h1m1 0h1m1 0h1m45 0h1m11 0h1m32 0h1m69 0h1m40 0h2m14 0h2m2 0h2m10 0h2m7 0h2m6 0h3m-266 1h1m12 0h1m1 0h1m1 0h2m14 0h1m160 0h1m58 0h2m-325 1h1m6 0h1m1 0h1m41 0h2m13 0h1m30 0h1m4 0h1m25 0h1m27 0h1m2 0h2m90 0h2m26 0h1m53 0h3m-260 1h1m1 0h2m4 0h1m219 0h2m8 0h2m20 0h2m-343 1h1m48 0h1m38 0h1m29 0h1m37 0h1m6 0h1m7 0h3m-115 1h1m15 0h1m5 0h1m3 0h1m14 0h1m12 0h1m8 0h1m6 0h1m144 0h2m17 0h2m8 0h2m-274 1h1m18 0h1m14 0h1m18 0h1m8 0h2m2 0h1m21 0h1m2 0h1m236 0h2m-305 1h1m34 0h2m6 0h1m71 0h1m11 0h1m135 0h2m20 0h2m6 0h3m-380 1h1m94 0h1m14 0h1m4 0h1m27 0h1m9 0h2m23 0h1m13 0h2m78 0h2m101 0h2m10 0h2m-296 1h1m30 0h1m7 0h1m155 0h1m15 0h2m27 0h2m-317 1h1m49 0h1m46 0h1m188 0h2m-264 1h1m34 0h1m36 0h1m1 0h1m1 0h1m37 0h1m38 0h1m151 0h2m9 0h2m15 0h2m-263 1h1m5 0h1m14 0h1m3 0h1m54 0h1m48 0h2m88 0h2m4 0h2m2 0h2m37 0h2m-279 1h1m17 0h1m1 0h1m38 0h1m174 0h2m6 0h2m9 0h2m-306 1h1m17 0h1m44 0h1m28 0h1m8 0h1m3 0h1m30 0h1m26 0h1m125 0h2m-234 1h1m9 0h1m32 0h1m5 0h1m30 0h1m147 0h2m21 0h2m-302 1h1m19 0h2m28 0h1m5 0h1m6 0h1m20 0h1m12 0h1m114 0h2m-207 1h1m20 0h1m16 0h1m1 0h1m23 0h1m12 0h1m3 0h1m48 0h1m137 0h2m25 0h2m-249 1h1m29 0h1m189 0h4m-266 1h1m22 0h1m21 0h1m61 0h2m120 0h2m4 0h2m31 0h2m-281 1h1m28 0h1m17 0h1m4 0h1m7 0h1m17 0h1m10 0h1m52 0h2m100 0h2m7 0h2m-301 1h1m12 0h1m72 0h1m5 0h1m7 0h1m4 0h1m2 0h1m3 0h1m23 0h1m115 0h2m36 0h2m63 0h2m12 0h2m-353 1h1m49 0h1m30 0h1m41 0h1m30 0h1m11 0h1m11 0h1m-214 1h1m104 0h1m5 0h1m4 0h2m124 0h2m59 0h2m69 0h2m-300 1h1m32 0h1m2 0h1m3 0h1m26 0h1m1 0h1m26 0h1m169 0h2m2 0h4m9 0h2m-253 1h2m5 0h1m22 0h1m4 0h1m19 0h1m104 0h1m69 0h2m15 0h2m-288 1h1m36 0h1m9 0h2m40 0h1m4 0h1m117 0h2m16 0h2m43 0h2m2 0h2m29 0h2m-353 1h1m84 0h1m10 0h1m10 0h1m7 0h1m1 0h1m17 0h1m34 0h1m131 0h2m40 0h2m-372 1h1m14 0h1m34 0h1m39 0h1m15 0h2m165 0h5m52 0h2m-224 1h1m9 0h2m2 0h1m70 0h2m90 0h1m30 0h2m10 0h2m14 0h2m-260 1h1m18 0h2m2 0h2m32 0h1m2 0h1m7 0h1m15 0h1m177 0h3m-281 1h1m3 0h1m25 0h1m2 0h1m4 0h2m30 0h1m1 0h1m49 0h1m35 0h1m27 0h1m77 0h2m-233 1h1m6 0h1m3 0h1m25 0h1m9 0h1m26 0h1m93 0h2m21 0h1m23 0h2m26 0h2m3 0h2m-279 1h1m11 0h1m19 0h1m10 0h1m1 0h1m20 0h1m18 0h2m34 0h4m1 0h1m72 0h1m18 0h2m5 0h2m4 0h2m29 0h2m-268 1h1m12 0h1m32 0h1m3 0h1m1 0h1m98 0h1m139 0h2m-246 1h1m5 0h1m5 0h1m16 0h1m46 0h2m162 0h2m7 0h2m-251 1h1m10 0h1m37 0h1m25 0h1m4 0h2m8 0h1m102 0h2m32 0h2m-316 1h1m76 0h1m2 0h1m4 0h1m31 0h1m7 0h1m105 0h1m23 0h1m23 0h1m-292 1h1m18 0h1m63 0h2m41 0h1m6 0h1m11 0h1m6 0h1m17 0h1m145 0h2m-294 1h1m61 0h1m3 0h1m8 0h1m35 0h1m102 0h1m52 0h1m8 0h2m-247 1h1m25 0h1m3 0h1m1 0h1m2 0h1m28 0h1m7 0h1m1 0h1m2 0h1m5 0h1m39 0h1m65 0h2m68 0h2m17 0h2m13 0h2m11 0h2m-289 1h1m32 0h1m16 0h1m3 0h1m29 0h1m16 0h2m24 0h2m3 0h1m49 0h2m85 0h2m-299 1h1m36 0h1m45 0h1m8 0h1m146 0h2m67 0h2m-306 1h1m11 0h1m26 0h1m9 0h2m12 0h1m15 0h1m7 0h1m182 0h2m-220 1h1m7 0h1m15 0h1m14 0h2m1 0h1m29 0h1m3 0h1m147 0h2m31 0h2m-264 1h1m1 0h1m22 0h1m7 0h2m9 0h2m-82 1h1m17 0h1m16 0h1m6 0h1m19 0h1m4 0h1m15 0h1m175 0h2m13 0h2m24 0h2m-322 1h1m60 0h1m10 0h1m99 0h1m100 0h2m19 0h2m11 0h2m-262 1h1m4 0h1m5 0h1m39 0h1m42 0h1m96 0h2m31 0h2m-259 1h1m38 0h1m2 0h1m30 0h1m34 0h1m50 0h2m73 0h2m17 0h2m18 0h2m-260 1h1m13 0h1m2 0h1m44 0h1m12 0h1m160 0h2m10 0h2m-265 1h1m47 0h1m8 0h1m5 0h1m54 0h1m142 0h4m10 0h3m-238 1h1m10 0h1m25 0h1m46 0h2m2 0h2m100 0h2m27 0h2m6 0h2m2 0h2m17 0h3m-272 1h1m8 0h1m4 0h1m7 0h1m7 0h1m70 0h1m44 0h2m90 0h4m-219 1h1m4 0h1m13 0h1m16 0h1m33 0h1m3 0h2m143 0h2m34 0h2m-353 1h1m37 0h1m56 0h1m5 0h1m13 0h1m10 0h1m27 0h1m24 0h1m41 0h1m36 0h2m11 0h2m50 0h2m26 0h2m5 0h2m-330 1h1m34 0h1m25 0h1m3 0h1m8 0h1m71 0h2m117 0h2m14 0h2m29 0h3m-301 1h2m35 0h1m9 0h1m3 0h1m27 0h1m51 0h1m95 0h2m40 0h2m-341 1h1m23 0h1m67 0h1m15 0h1m9 0h1m16 0h1m66 0h2m80 0h2m65 0h2m5 0h2m11 0h2m9 0h2m-385 1h1m88 0h1m29 0h2m1 0h1m31 0h2m46 0h1m27 0h1m51 0h2m44 0h2m8 0h2m2 0h2m39 0h2m-269 1h2m30 0h2m6 0h1m3 0h1m3 0h1m70 0h2m61 0h2m13 0h2m19 0h2m25 0h2m13 0h2m-291 1h1m30 0h2m4 0h1m9 0h2m65 0h2m10 0h1m78 0h2m44 0h2m2 0h2m17 0h2m-305 1h1m55 0h1m13 0h1m211 0h2m4 0h2m32 0h3m-301 1h1m1 0h1m53 0h1m15 0h2m6 0h1m153 0h2m-298 1h1m78 0h1m7 0h2m9 0h1m21 0h1m12 0h1m13 0h1m8 0h1m53 0h1m74 0h2m43 0h2m9 0h2m-276 1h1m32 0h1m1 0h1m1 0h1m3 0h1m19 0h1m52 0h1m1 0h2m17 0h2m116 0h2m12 0h3m23 0h3m7 0h2m-312 1h1m37 0h1m1 0h1m7 0h1m20 0h1m11 0h1m139 0h2m47 0h2m-303 1h1m33 0h1m10 0h1m14 0h1m39 0h1m8 0h1m139 0h2m40 0h2m-338 1h1m43 0h1m48 0h1m10 0h1m8 0h1m24 0h1m13 0h1m6 0h1m162 0h2m-330 1h1m71 0h1m37 0h1m6 0h1m11 0h1m14 0h1m1 0h1m16 0h1m8 0h1m183 0h3m-234 1h1m4 0h1m1 0h1m180 0h2m17 0h2m6 0h4m4 0h2m-292 1h1m71 0h1m29 0h1m11 0h1m173 0h2m-327 1h1m60 0h1m1 0h1m6 0h1m6 0h1m24 0h1m1 0h2m5 0h1m22 0h1m25 0h2m134 0h1m45 0h2m13 0h2m-335 1h1m38 0h1m28 0h1m21 0h1m11 0h1m106 0h2m70 0h2m8 0h4m25 0h2m-257 1h1m36 0h1m3 0h1m2 0h1m152 0h2m25 0h4m-256 1h1m26 0h1m60 0h1m103 0h1m63 0h2m10 0h2m-330 1h1m96 0h1m33 0h2m3 0h2m15 0h2m24 0h2m36 0h1m53 0h1m-178 1h1m4 0h2m3 0h1m1 0h1m29 0h1m2 0h1m2 0h1m116 0h1m60 0h2m-263 1h1m22 0h1m6 0h1m15 0h1m14 0h1m10 0h3m7 0h1m1 0h1m6 0h1m28 0h2m93 0h2m22 0h2m32 0h2m29 0h2m-265 1h1m3 0h1m19 0h1m4 0h1m77 0h1m10 0h2m108 0h2m-265 1h1m4 0h1m17 0h1m3 0h1m36 0h1m31 0h1m21 0h2m2 0h2m50 0h1m103 0h2m-310 1h1m32 0h1m17 0h1m16 0h1m1 0h1m24 0h1m8 0h1m2 0h1m29 0h1m153 0h2m-253 1h1m29 0h1m9 0h1m126 0h1m19 0h2m101 0h2m-277 1h1m2 0h1m4 0h2m8 0h1m15 0h1m3 0h1m58 0h2m19 0h2m40 0h2m60 0h2m4 0h2m10 0h2m15 0h2m5 0h2m-317 1h1m59 0h1m2 0h1m25 0h1m1 0h1m5 0h1m8 0h3m34 0h1m3 0h1m87 0h2m42 0h2m-327 1h1m58 0h1m39 0h1m1 0h3m8 0h1m72 0h1m18 0h1m6 0h1m134 0h2m-279 1h1m63 0h1m1 0h1m24 0h2m95 0h2m66 0h2m14 0h3m-266 1h1m15 0h1m8 0h1m4 0h1m13 0h1m11 0h1m49 0h1m8 0h1m156 0h2m15 0h3m-264 1h1m5 0h1m38 0h1m185 0h2m20 0h2m-300 1h1m33 0h1m20 0h1m29 0h1m3 0h1m34 0h1m95 0h2m61 0h2m-307 1h1m60 0h1m28 0h1m7 0h1m60 0h2m152 0h2m-336 1h1m1 0h1m29 0h1m7 0h1m8 0h1m1 0h1m19 0h1m11 0h1m8 0h1m1 0h1m30 0h1m4 0h1m36 0h1m73 0h1m27 0h1m43 0h2m4 0h2m-324 1h1m48 0h1m22 0h1m21 0h1m3 0h1m2 0h1m42 0h1m40 0h1m31 0h1m106 0h5m6 0h2m-314 1h1m37 0h2m21 0h1m9 0h1m11 0h1m14 0h1m63 0h1m63 0h2m12 0h1m58 0h2m22 0h2m-290 1h2m21 0h1m6 0h1m2 0h1m16 0h1m12 0h1m42 0h1m92 0h2m65 0h2m-205 1h1m2 0h1m41 0h3m13 0h1m16 0h1m100 0h2m16 0h2m2 0h2m5 0h2m19 0h2m-284 1h1m11 0h1m5 0h2m17 0h1m14 0h1m183 0h2m31 0h2m23 0h2m-357 1h1m5 0h1m65 0h1m50 0h1m68 0h1m47 0h2m23 0h1m45 0h2m11 0h2m-304 1h1m55 0h1m10 0h1m72 0h1m4 0h1m88 0h1m-186 1h1m12 0h1m79 0h2m104 0h2m31 0h2m6 0h2m32 0h3m-317 1h1m36 0h1m3 0h1m6 0h1m1 0h1m4 0h1m1 0h1m13 0h1m22 0h1m45 0h1m75 0h2m60 0h2m19 0h2m-297 1h1m58 0h1m7 0h1m10 0h1m60 0h1m134 0h4m-307 1h1m46 0h1m20 0h1m5 0h1m31 0h1m3 0h1m4 0h1m6 0h1m3 0h1m29 0h2m10 0h1m5 0h2m133 0h2m5 0h2m15 0h4m-310 1h1m40 0h1m9 0h1m18 0h1m10 0h1m20 0h1m203 0h2m-255 1h1m1 0h1m14 0h1m9 0h1m179 0h2m-234 1h1m12 0h1m20 0h1m67 0h1m4 0h2m46 0h1m94 0h2m42 0h2m-322 1h1m29 0h1m10 0h1m15 0h1m8 0h1m6 0h1m6 0h1m52 0h2m121 0h2m16 0h2m32 0h2m-299 1h1m31 0h1m5 0h1m6 0h1m19 0h1m22 0h1m152 0h2m18 0h2m10 0h3m-238 1h1m1 0h1m30 0h1m16 0h1m28 0h1m3 0h1m25 0h2m16 0h2m67 0h1m24 0h2m12 0h3m-238 1h1m2 0h1m1 0h1m48 0h2m167 0h2m32 0h2m-364 1h1m59 0h1m36 0h1m7 0h1m1 0h1m26 0h1m15 0h1m2 0h1m42 0h1m4 0h2m62 0h1m-228 1h1m52 0h1m7 0h1m10 0h1m26 0h1m6 0h1m2 0h1m156 0h2m6 0h2m29 0h2m-254 1h1m6 0h1m3 0h1m5 0h1m21 0h1m1 0h1m15 0h1m124 0h2m61 0h2m-251 1h1m6 0h1m2 0h1m7 0h1m28 0h1m5 0h2m31 0h1m11 0h2m2 0h2m38 0h2m49 0h2m46 0h2m28 0h2m16 0h2m-279 1h1m11 0h1m89 0h2m11 0h2m37 0h1m68 0h2m12 0h2m11 0h2m20 0h2m-223 1h1m60 0h2m52 0h1m5 0h2m2 0h2m43 0h2m12 0h2m26 0h2m5 0h2m-370 1h1m63 0h1m12 0h1m16 0h1m11 0h1m31 0h1m14 0h1m14 0h1m9 0h1m81 0h2m-241 1h1m43 0h1m28 0h1m13 0h1m2 0h1m21 0h1m13 0h1m183 0h2m19 0h2m-295 1h1m31 0h1m12 0h1m2 0h1m23 0h1m140 0h2m47 0h2m25 0h2m-345 1h1m36 0h1m24 0h1m30 0h1m6 0h1m1 0h1m24 0h2m1 0h1m48 0h2m34 0h2m33 0h2m56 0h2m35 0h2m5 0h2m-309 1h1m16 0h1m13 0h1m19 0h1m2 0h1m4 0h1m69 0h1m7 0h1m2 0h1m19 0h2m125 0h2m-240 1h1m46 0h1m1 0h1m193 0h2m-322 1h1m87 0h1m3 0h1m3 0h1m23 0h1m7 0h2m185 0h2m-274 1h1m26 0h2m3 0h1m13 0h1m18 0h1m2 0h1m3 0h1m5 0h1m175 0h2m10 0h2m2 0h2m7 0h2m-275 1h1m29 0h1m1 0h2m7 0h1m61 0h1m7 0h1m15 0h1m3 0h1m112 0h2m16 0h2m33 0h2m-327 1h1m27 0h1m34 0h1m22 0h3m1 0h1m2 0h2m45 0h1m3 0h1m74 0h2m71 0h2m9 0h2m20 0h2m-265 1h1m2 0h1m13 0h1m6 0h1m2 0h1m39 0h1m9 0h1m107 0h2m29 0h2m25 0h2m25 0h2m-313 1h1m8 0h1m23 0h1m1 0h1m8 0h1m3 0h1m30 0h1m4 0h1m118 0h2m-173 1h1m34 0h1m14 0h1m3 0h2m32 0h2m29 0h1m85 0h2m-286 1h1m39 0h1m42 0h1m12 0h1m33 0h1m46 0h1m90 0h1m47 0h4m2 0h3m6 0h2m-271 1h1m19 0h1m6 0h1m15 0h1m11 0h1m10 0h1m37 0h1m3 0h1m57 0h2m45 0h2m11 0h2m-254 1h1m39 0h1m17 0h1m16 0h1m17 0h1m5 0h1m72 0h1m41 0h2m27 0h2m37 0h2m-240 1h1m1 0h1m4 0h1m34 0h2m47 0h2m93 0h2m38 0h2m2 0h2m4 0h4m-240 1h1m8 0h2m4 0h1m1 0h1m16 0h1m34 0h1m-102 1h1m39 0h1m2 0h1m35 0h1m5 0h2m2 0h1m32 0h1m88 0h1m58 0h2m-268 1h1m7 0h1m35 0h1m29 0h1m5 0h1m33 0h1m14 0h1m128 0h2m36 0h3m-361 1h1m58 0h1m30 0h1m8 0h1m67 0h1m13 0h2m119 0h2m10 0h2m2 0h2m-235 1h1m13 0h1m6 0h1m74 0h2m29 0h1m10 0h1m6 0h2m28 0h2m23 0h2m52 0h2m15 0h2m-333 1h1m63 0h1m16 0h1m24 0h1m7 0h1m3 0h2m27 0h1m125 0h2m10 0h2m23 0h2m-348 1h1m49 0h1m34 0h1m23 0h1m11 0h1m27 0h1m137 0h2m54 0h3m-346 1h1m83 0h1m12 0h1m5 0h2m10 0h1m30 0h1m2 0h1m124 0h2m57 0h2m13 0h2m-346 1h1m73 0h1m23 0h2m3 0h2m4 0h1m28 0h1m91 0h1m90 0h2m-269 1h1m23 0h1m23 0h1m5 0h1m9 0h1m8 0h1m10 0h1m14 0h1m214 0h2m-268 1h2m7 0h1m3 0h1m9 0h1m4 0h1m108 0h1m-146 1h1m5 0h1m14 0h1m18 0h1m18 0h1m56 0h2m82 0h2m23 0h2m23 0h2m-351 1h1m146 0h1m20 0h1m88 0h1m-227 1h1m28 0h1m39 0h1m9 0h1m1 0h1m24 0h1m4 0h1m50 0h2m91 0h2m24 0h2m18 0h2m15 0h2m22 0h2m2 0h3m-376 1h1m50 0h1m87 0h1m106 0h2m125 0h3m-329 1h1m26 0h1m22 0h1m6 0h1m5 0h1m1 0h1m21 0h1m15 0h1m37 0h1m6 0h1m65 0h2m61 0h2m10 0h2m26 0h2m7 0h3m-288 1h1m6 0h1m17 0h1m1 0h1m15 0h2m13 0h1m4 0h2m138 0h2m69 0h2m-309 1h1m8 0h1m1 0h1m9 0h1m17 0h1m12 0h1m22 0h1m6 0h1m2 0h2m3 0h1m164 0h2m31 0h2m-232 1h1m15 0h1m3 0h1m109 0h2m32 0h1m38 0h2m22 0h3m33 0h2m-379 1h1m46 0h1m9 0h1m39 0h1m10 0h1m8 0h1m29 0h1m28 0h1m69 0h1m55 0h1m34 0h2m-275 1h1m179 0h2m-258 1h1m88 0h1m22 0h1m19 0h1m14 0h1m18 0h1m33 0h1m138 0h2m32 0h2m-302 1h1m38 0h1m5 0h1m1 0h2m5 0h1m7 0h1m8 0h2m21 0h1m29 0h1m32 0h1m59 0h1m36 0h2m12 0h2m-321 1h1m217 0h2m99 0h2m-227 1h1m4 0h1m6 0h1m29 0h1m10 0h1m28 0h2m6 0h2m64 0h2m69 0h2m32 0h5m-287 1h1m9 0h1m8 0h1m8 0h2m2 0h1m12 0h1m1 0h1m3 0h1m58 0h1m143 0h2m33 0h2m-339 1h1m26 0h1m2 0h1m27 0h1m42 0h1m17 0h1m186 0h3m26 0h2m-351 1h1m44 0h1m35 0h1m44 0h1m1 0h1m-36 1h1m10 0h1m23 0h1m1 0h1m29 0h1m7 0h1m15 0h2m1 0h1m139 0h2m-323 1h1m4 0h1m103 0h1m14 0h1m181 0h2m-237 1h1m2 0h1m4 0h1m9 0h1m16 0h1m1 0h1m113 0h1m44 0h2m29 0h2m8 0h2m-243 1h1m1 0h1m4 0h1m31 0h1m15 0h1m38 0h2m139 0h2m19 0h2m-294 1h1m47 0h1m25 0h1m55 0h1m65 0h1m60 0h2m16 0h6m5 0h2m24 0h2m-308 1h1m22 0h1m20 0h1m40 0h1m46 0h1m11 0h1m81 0h2m17 0h2m8 0h4m10 0h2m15 0h2m13 0h2m-266 1h4m9 0h1m11 0h1m3 0h1m20 0h1m56 0h1m63 0h2m63 0h2m-272 1h1m40 0h2m3 0h1m25 0h1m4 0h1m1 0h1m86 0h2m34 0h2m75 0h4m11 0h2m9 0h2m-354 1h1m74 0h1m11 0h1m4 0h1m26 0h1m3 0h1m6 0h1m143 0h2m58 0h2m-293 1h1m11 0h1m40 0h1m6 0h1m11 0h1m10 0h1m103 0h2m-235 1h1m43 0h1m18 0h1m54 0h1m12 0h1m6 0h1m33 0h1m131 0h2m2 0h2m10 0h2m-322 1h1m29 0h1m11 0h1m20 0h1m15 0h1m18 0h1m16 0h1m8 0h2m41 0h1m142 0h2m36 0h2m-264 1h1m22 0h1m7 0h1m6 0h2m6 0h1m2 0h2m1 0h1m25 0h1m22 0h1m49 0h1m122 0h2m-347 1h1m74 0h1m38 0h1m97 0h2m18 0h2m67 0h2m2 0h2m-355 1h1m111 0h1m12 0h1m5 0h1m15 0h1m11 0h1m2 0h1m34 0h1m101 0h2m7 0h2m6 0h2m23 0h2m2 0h2m-304 1h1m28 0h1m36 0h1m8 0h1m8 0h1m207 0h2m23 0h2m-293 1h1m10 0h1m50 0h1m4 0h1m12 0h1m1 0h1m1 0h1m47 0h1m8 0h2m75 0h1m37 0h2m-267 1h1m12 0h1m37 0h1m10 0h1m27 0h1m5 0h1m6 0h1m150 0h2m19 0h2m27 0h2m15 0h2m-359 1h1m21 0h1m16 0h1m46 0h1m7 0h1m8 0h1m24 0h2m13 0h1m5 0h1m43 0h1m83 0h2m48 0h2m2 0h5m23 0h3m7 0h2m-394 1h1m46 0h1m76 0h1m15 0h1m164 0h2m37 0h4m-223 1h1m26 0h1m2 0h1m7 0h1m19 0h1m142 0h2m64 0h2m-279 1h1m9 0h1m26 0h1m58 0h1m134 0h4m13 0h2m22 0h2m-367 1h1m7 0h1m42 0h1m30 0h1m22 0h1m24 0h1m11 0h1m36 0h2m129 0h2m10 0h2m2 0h2m11 0h2m-304 1h1m33 0h1m23 0h1m7 0h1m4 0h1m18 0h1m9 0h1m107 0h2m-169 1h1m62 0h1m39 0h1m82 0h1m57 0h4m4 0h2m13 0h2m11 0h2m-299 1h1m33 0h1m15 0h1m2 0h1m26 0h1m1 0h2m2 0h1m17 0h2m104 0h1m-264 1h1m92 0h1m6 0h1m4 0h1m10 0h1m4 0h1m38 0h1m151 0h4m2 0h2m6 0h3m-356 1h1m80 0h1m13 0h1m31 0h1m8 0h1m10 0h1m9 0h1m13 0h1m186 0h2m29 0h2m-321 1h1m13 0h1m5 0h1m21 0h1m1 0h1m1 0h1m35 0h1m5 0h1m1 0h1m174 0h2m2 0h2m23 0h2m-275 1h1m15 0h1m10 0h1m1 0h1m20 0h1m5 0h1m4 0h1m2 0h1m127 0h1m43 0h2m57 0h3m-267 1h1m10 0h1m128 0h2m19 0h1m55 0h2m27 0h3m6 0h2m-347 1h1m46 0h1m20 0h1m17 0h1m2 0h1m6 0h1m21 0h1m178 0h2m20 0h2m7 0h2m27 0h2m-369 1h1m42 0h1m49 0h1m8 0h1m18 0h1m3 0h1m2 0h1m176 0h2m-214 1h1m3 0h1m9 0h1m19 0h1m1 0h1m45 0h1m42 0h2m-124 1h1m27 0h1m3 0h1m130 0h2m64 0h2m-352 1h1m96 0h1m18 0h1m92 0h2m87 0h2m7 0h2m52 0h2m-242 1h2m29 0h1m90 0h2m49 0h2m63 0h2m-268 1h1m27 0h1m24 0h1m155 0h1m23 0h2m41 0h2m5 0h2m14 0h2m-325 1h1m38 0h1m6 0h1m2 0h1m11 0h1m22 0h1m9 0h1m1 0h1m8 0h1m188 0h2m-337 1h1m82 0h1m11 0h1m16 0h1m6 0h1m16 0h1m165 0h2m20 0h2m17 0h3m-260 1h1m3 0h1m1 0h1m3 0h1m19 0h2m54 0h1m117 0h2m32 0h2m11 0h2m-289 1h1m38 0h1m8 0h1m19 0h1m14 0h1m34 0h3m55 0h2m84 0h4m38 0h3m-264 1h1m34 0h2m42 0h1m25 0h1m121 0h2m-330 1h1m77 0h1m13 0h1m1 0h1m2 0h1m1 0h1m1 0h1m15 0h1m31 0h1m39 0h2m119 0h2m16 0h4m-227 1h1m47 0h1m91 0h2m50 0h1m28 0h2m-261 1h1m34 0h1m25 0h1m51 0h1m141 0h2m8 0h2m31 0h2m-319 1h1m4 0h1m47 0h1m24 0h1m19 0h1m29 0h1m157 0h2m-349 1h1m55 0h1m53 0h1m51 0h1m15 0h1m8 0h1m6 0h2m164 0h2m-370 1h1m90 0h1m29 0h1m3 0h1m3 0h1m24 0h1m157 0h2m-216 1h1m16 0h1m5 0h1m2 0h1m4 0h1m19 0h1m1 0h1m7 0h1m100 0h2m61 0h2m20 0h2m6 0h2m9 0h2m-293 1h1m32 0h1m12 0h1m2 0h1m5 0h1m20 0h1m191 0h2m8 0h2m-327 1h1m42 0h1m49 0h1m7 0h1m9 0h2m23 0h1m95 0h2m30 0h2m57 0h2m21 0h3m8 0h3m-313 1h1m43 0h1m5 0h1m27 0h1m7 0h1m41 0h1m63 0h1m10 0h2m14 0h2m7 0h2m38 0h2m17 0h2m8 0h2m9 0h2m-319 1h1m15 0h1m15 0h1m7 0h1m24 0h2m20 0h1m171 0h2m-203 1h1m39 0h1m46 0h1m102 0h2m39 0h2m5 0h2m19 0h2m-352 1h1m17 0h1m34 0h1m42 0h1m10 0h1m18 0h2m3 0h1m49 0h1m38 0h1m89 0h2m-221 1h1m1 0h1m25 0h1m10 0h1m22 0h1m20 0h1m131 0h2m14 0h2m11 0h2m-333 1h1m58 0h1m26 0h1m2 0h1m8 0h1m1 0h1m195 0h2m46 0h2m-330 1h1m58 0h1m21 0h1m22 0h1m3 0h1m40 0h1m91 0h2m87 0h2m-307 1h1m18 0h1m26 0h1m12 0h1m68 0h1m136 0h2m47 0h3m-285 1h1m19 0h1m19 0h1m10 0h1m5 0h1m34 0h1m96 0h2m-216 1h1m34 0h1m83 0h2m97 0h2m42 0h2m19 0h2m-294 1h1m50 0h1m30 0h1m207 0h2m-271 1h1m1 0h1m30 0h1m6 0h1m7 0h1m22 0h1m28 0h1m118 0h2m27 0h2m15 0h2m-279 1h1m9 0h1m30 0h1m1 0h1m70 0h1m7 0h1m110 0h2m3 0h2m37 0h2m-283 1h1m16 0h1m24 0h1m5 0h1m24 0h1m1 0h1m133 0h2m14 0h2m-189 1h2m3 0h1m6 0h1m19 0h1m46 0h1m-82 1h1m7 0h2m23 0h1m7 0h1m94 0h1m73 0h2m12 0h2m6 0h4m2 0h2m-237 1h1m6 0h1m79 0h1m43 0h2m17 0h2m12 0h1m60 0h2m48 0h2m-303 1h1m11 0h1m7 0h1m6 0h1m30 0h2m91 0h3m12 0h2m-148 1h1m6 0h1m9 0h1m1 0h1m14 0h1m157 0h2m10 0h2m44 0h2m13 0h2m2 0h2m-344 1h1m90 0h1m32 0h1m10 0h1m23 0h2m139 0h2m4 0h2m-258 1h1m28 0h1m6 0h2m3 0h1m25 0h3m39 0h2m129 0h2m-260 1h1m22 0h1m3 0h1m18 0h1m12 0h1m28 0h1m45 0h1m139 0h2m4 0h2m4 0h3m-342 1h1m42 0h1m55 0h1m5 0h1m40 0h1m182 0h2m-338 1h1m37 0h1m19 0h1m22 0h1m7 0h1m25 0h1m4 0h2m1 0h1m66 0h1m6 0h1m-95 1h1m3 0h1m3 0h1m13 0h1m8 0h1m17 0h1m85 0h2m7 0h2m43 0h1m49 0h2"/>
<path stroke="#a5db36" d="m199 58h1m1 0h1m3 0h1m5 0h1m256 0h2m-264 1h1m65 0h1m156 0h2m-307 1h1m53 0h1m26 0h1m28 0h1m60 0h1m19 0h1m115 0h2m24 0h2m-83 1h1m67 0h2m-282 1h1m38 0h1m2 0h1m6 0h1m36 0h2m-55 1h1m9 0h1m246 0h3m-248 1h1m6 0h1m66 0h1m102 0h2m58 0h2m-252 1h1m5 0h2m1 0h1m215 0h2m-304 1h1m1 0h1m68 0h1m5 0h1m16 0h1m74 0h2m145 0h2m22 0h2m-360 1h1m50 0h1m89 0h1m119 0h2m59 0h2m-265 1h1m33 0h1m17 0h1m71 0h2m29 0h1m154 0h5m-279 1h1m6 0h1m76 0h2m2 0h2m145 0h2m39 0h3m-302 1h1m37 0h1m188 0h1m64 0h3m-342 1h1m27 0h1m51 0h1m10 0h1m211 0h2m-148 1h1m119 0h2m22 0h2m17 0h2m13 0h2m-365 1h1m40 0h1m56 0h1m7 0h1m78 0h1m106 0h2m8 0h1m-207 1h1m46 0h1m18 0h1m30 0h1m111 0h2m-219 1h1m20 0h1m6 0h1m17 0h1m55 0h2m15 0h1m38 0h1m74 0h2m16 0h2m-228 1h1m36 0h1m34 0h1m139 0h2m-338 1h1m100 0h1m52 0h1m2 0h1m192 0h2m24 0h2m-110 1h2m20 0h2m67 0h2m9 0h2m-266 1h1m12 0h1m40 0h2m35 0h2m2 0h2m72 0h2m3 0h2m-189 1h1m3 0h1m19 0h1m83 0h2m-132 1h1m41 0h1m2 0h1m21 0h1m3 0h1m14 0h1m60 0h1m117 0h2m6 0h2m-225 1h1m254 0h2m7 0h3m-246 1h1m17 0h1m-135 1h1m89 0h1m2 0h1m-61 1h1m46 0h1m33 0h1m24 0h1m97 0h2m12 0h1m-229 1h1m40 0h1m25 0h1m4 0h1m24 0h2m13 0h1m143 0h2m2 0h2m77 0h2m-324 1h1m47 0h1m168 0h2m49 0h2m52 0h2m-269 1h1m79 0h2m102 0h2m-190 1h1m6 0h1m25 0h1m79 0h2m138 0h2m-262 1h1m11 0h1m25 0h1m-93 1h1m61 1h1m6 0h1m26 0h2m106 0h1m12 0h2m-153 1h1m123 0h1m71 0h2m30 0h2m-263 1h1m17 0h1m13 0h1m24 0h1m44 0h1m16 0h1m129 0h2m4 0h4m35 0h2m-302 1h1m32 0h1m4 0h1m3 0h1m1 0h1m15 0h1m2 0h1m9 0h1m177 0h4m-332 1h1m101 0h1m166 0h2m28 0h2m-227 1h1m31 0h1m233 0h2m35 0h2m-308 1h1m35 0h1m9 0h1m-45 1h1m33 0h1m28 0h1m36 0h1m16 0h1m47 0h2m50 0h2m40 0h2m-257 1h1m28 0h1m1 0h1m27 0h1m12 0h1m10 0h1m94 0h2m75 0h2m8 0h2m13 0h2m-213 1h2m8 0h1m4 0h1m103 0h2m34 0h2m-240 1h1m48 0h1m2 0h1m45 0h1m12 0h1m12 0h2m112 0h2m27 0h2m-274 1h1m51 0h1m1 0h1m15 0h1m6 0h1m111 0h2m18 0h2m2 0h1m42 0h2m33 0h2m-274 1h1m36 0h1m26 0h1m9 0h1m4 0h1m142 0h2m39 0h2m-303 1h1m74 1h1m28 0h2m3 0h1m4 0h1m17 0h2m3 0h1m120 0h2m47 0h3m28 0h2m-266 1h1m31 0h1m4 0h1m12 0h1m112 0h1m-127 1h1m40 0h2m-149 1h1m27 0h1m6 0h2m11 0h1m8 0h1m15 0h1m38 0h1m138 0h2m27 0h2m14 0h2m28 0h2m-289 1h1m23 0h1m224 0h2m-276 1h1m41 0h2m6 0h1m84 0h1m1 0h2m-181 1h1m71 0h1m9 0h1m20 0h1m81 0h1m15 0h2m89 0h2m45 0h2m-221 1h1m13 0h1m231 0h2m-315 1h1m264 0h2m-344 1h1m44 0h1m73 0h1m49 0h1m-96 1h1m43 0h1m8 0h1m32 0h1m179 0h2m-232 1h1m7 0h1m22 0h1m5 0h1m4 0h1m237 0h2m-358 1h1m26 0h1m46 0h2m89 0h2m9 0h1m71 0h2m64 0h2m4 0h3m-324 1h1m95 0h1m23 0h1m144 0h2m13 0h2m-220 1h1m258 0h3m4 0h2m-247 1h1m10 0h1m24 0h1m4 0h1m5 0h1m33 0h1m13 0h2m85 0h2m78 0h2m-264 1h1m25 0h1m201 0h2m44 0h2m-272 1h1m5 0h1m2 0h1m4 0h1m111 0h2m-249 1h1m97 0h1m72 0h1m-50 1h1m3 0h1m23 0h1m178 0h2m8 0h2m-221 1h1m25 0h1m116 0h1m28 0h1m77 0h3m-261 1h2m72 0h2m24 0h2m38 0h1m115 0h2m-305 1h1m36 0h1m14 0h1m33 0h1m13 0h1m30 0h2m-89 1h1m6 0h2m6 0h1m1 0h1m19 0h1m5 0h1m231 0h2m-266 1h1m1 0h1m20 0h1m8 0h1m12 0h1m222 0h3m-351 1h1m4 0h1m71 0h1m229 0h2m37 0h2m-301 1h1m28 0h1m22 0h1m11 0h1m7 0h1m157 0h4m26 0h2m6 0h3m-237 1h1m5 0h1m3 0h1m33 0h1m2 0h1m1 0h1m29 0h2m-75 1h1m1 0h1m4 0h1m36 0h1m-126 1h1m62 0h1m14 0h1m97 0h1m114 0h2m10 0h2m33 0h2m-259 1h1m33 0h1m38 0h2m19 0h1m92 0h2m35 0h2m-319 1h1m73 0h1m-91 1h1m150 0h1m211 0h3m-256 1h1m42 0h1m7 0h1m38 0h1m59 0h2m-173 1h1m6 0h1m8 0h1m24 0h1m55 0h2m145 0h2m22 0h2m-299 1h1m38 0h1m162 0h1m60 0h2m48 0h2m-347 1h1m30 0h1m51 0h1m36 0h2m36 0h2m143 0h2m-295 1h1m18 0h1m39 0h1m12 0h1m17 0h1m16 0h1m42 0h1m95 0h2m6 0h2m79 0h2m-262 1h1m1 0h1m31 0h1m138 0h2m45 0h2m28 0h3m-316 1h1m45 0h1m91 0h1m144 0h2m-279 1h1m48 0h1m40 0h1m23 0h1m11 0h2m42 0h2m105 0h2m9 0h2m4 0h2m-243 1h1m9 0h1m-6 1h1m67 0h2m153 0h3m4 0h2m-280 1h1m-15 1h1m13 0h1m1 0h1m106 0h1m52 0h1m94 0h4m4 1h4m28 0h3m-287 1h1m110 0h2m2 0h2m72 0h2m49 0h2m27 0h2m-346 1h1m46 0h1m6 0h1m15 0h1m24 0h1m45 0h1m7 0h1m173 0h2m11 0h2m19 0h2m-306 1h1m49 0h2m2 0h1m236 0h4m11 0h3m-332 1h1m106 0h1m9 0h1m91 0h2m18 0h2m64 0h2m26 0h2m9 0h2m-224 1h1m60 0h1m43 0h2m-184 1h1m81 0h1m-120 1h1m74 0h1m24 0h1m172 0h2m-263 1h1m6 0h1m93 0h1m169 0h2m-307 1h1m60 0h2m29 0h1m237 0h2m-279 1h1m29 0h1m12 0h1m3 0h1m31 0h1m45 0h1m1 0h2m181 0h2m-349 1h1m48 0h1m241 0h2m-270 1h1m36 0h1m11 0h1m43 0h1m4 0h1m100 0h2m87 0h3m-245 1h1m-31 1h1m29 0h1m11 0h1m118 0h2m-178 1h1m60 0h2m17 0h1m51 0h2m37 0h3m55 0h2m-185 1h1m2 0h1m37 0h3m144 0h2m23 0h2m-209 1h1m8 0h1m73 0h1m139 0h4m-228 1h1m3 0h2m113 0h1m-238 1h1m57 0h1m95 0h2m7 0h1m195 0h2m-241 1h2m3 0h1m10 0h1m65 0h1m182 0h2m-242 1h1m3 0h1m2 0h1m6 0h1m174 0h2m49 0h2m-250 1h1m212 0h2m-327 1h1m87 0h1m5 0h1m37 0h1m6 0h1m144 0h2m41 0h2m36 0h2m-306 1h1m-37 1h1m63 0h1m1 0h1m8 0h1m28 0h2m47 0h2m79 0h1m57 0h2m6 0h2m-231 1h1m160 0h2m-165 1h1m19 0h1m117 0h2m35 0h2m54 0h2m-265 1h1m55 0h1m51 0h2m121 0h2m-210 1h1m3 0h1m24 0h1m198 0h2m-227 1h1m15 0h1m10 0h2m227 0h3m-300 1h1m51 0h1m21 0h1m46 0h1m-174 1h1m80 0h1m56 0h1m183 0h2m46 0h2m-327 1h1m49 0h1m1 0h1m84 0h1m2 0h1m64 0h2m17 0h2m57 0h4m-228 1h1m134 0h1m78 0h2m25 0h2m-80 1h2m9 0h2m50 0h2m13 0h2m-293 1h1m13 0h1m27 0h1m8 0h1m20 0h1m225 0h2m-282 1h1m5 0h1m286 0h2m-341 1h1m110 0h1m201 0h2m19 0h3m-297 1h1m66 0h1m48 0h1m137 0h2m-341 1h1m68 0h1m42 0h1m1 0h1m32 0h1m13 0h1m43 0h1m154 0h2m4 0h2m5 0h2m-300 1h1m53 0h1m13 0h1m57 0h1m175 0h2m-266 1h1m29 0h1m197 0h2m2 0h2m-257 1h1m30 0h1m4 0h1m78 0h1m93 0h1m66 0h2m-258 1h1m17 0h1m28 0h1m46 0h2m50 0h2m81 0h2m-300 1h1m66 0h1m9 0h1m83 0h2m27 0h2m151 0h2m-264 1h1m191 0h1m30 0h2m-280 1h1m44 0h2m44 0h1m53 0h1m162 0h2m-295 1h1m9 0h1m2 0h1m283 0h3m4 0h3m-346 1h1m22 0h1m46 0h1m28 0h1m58 0h1m154 0h2m-241 1h1m29 0h1m11 0h1m45 0h1m17 0h1m149 0h2m-253 1h1m8 0h1m20 0h1m8 0h1m99 0h1m89 0h2m20 0h2m-271 1h1m9 0h1m34 0h1m47 0h1m-62 1h1m20 0h1m30 0h1m25 0h2m-109 1h1m235 0h2m-226 1h2m13 0h1m24 0h1m-115 1h1m64 0h1m12 0h1m35 0h1m38 0h2m-192 1h1m116 0h1m17 0h2m3 0h1m217 0h2m-306 1h1m54 0h1m88 0h2m22 0h1m110 0h2m6 0h2m5 0h2m-356 1h1m330 0h2m21 0h2m2 0h2m-354 1h1m105 0h1m66 0h1m101 0h1m82 0h2m21 0h2m-315 1h1m41 0h1m2 0h1m44 0h1m130 0h2m46 0h2m-227 1h1m22 0h1m12 0h1m140 0h2m-280 1h1m46 0h1m2 0h1m22 0h1m29 0h1m24 0h1m8 0h1m36 0h1m11 0h1m-90 1h1m30 0h1m53 0h1m84 0h2m-149 1h1m2 0h1m4 0h1m26 0h1m21 0h1m7 0h1m105 0h2m-186 1h1m17 0h2m51 0h1m145 0h2m-269 1h1m8 0h1m10 0h1m50 0h1m7 0h1m61 0h2m108 0h2m53 0h2m-271 1h1m82 0h1m11 0h1m72 0h2m106 0h2m-365 1h1m91 0h1m167 0h2m20 0h2m-240 1h1m1 0h1m8 0h1m119 0h1m139 0h2m-348 1h1m79 0h1m29 0h1m13 0h2m14 0h1m213 0h2m-233 1h1m4 0h1m72 0h1m182 0h3m-271 1h1m46 0h1m190 0h2m2 0h3m2 0h2m-345 1h1m54 0h1m53 0h1m34 0h1m-100 1h1m67 0h1m38 0h1m14 0h1m10 0h1m-67 1h1m13 0h1m199 0h2m17 0h2m-266 1h1m22 0h1m22 0h1m18 0h1m150 0h2m75 0h2m-369 1h1m8 0h1m82 0h1m1 0h1m214 0h2m8 0h2m-217 1h1m40 0h1m40 0h1m90 0h1m-184 1h1m2 0h1m2 0h1m43 0h1m119 0h2m70 0h2m11 0h2m-345 1h1m85 0h1m31 0h1m1 0h1m51 0h1m47 0h2m99 0h2m-229 1h1m75 0h2m137 0h2m-340 1h1m85 0h2m24 0h1m6 0h1m28 0h1m30 0h2m24 0h1m92 0h2m20 0h2m18 0h2m-223 1h1m137 0h2m89 0h2m15 0h2m-357 1h1m24 0h1m77 0h1m11 0h1m76 0h1m6 0h1m81 0h1m50 0h2m-283 1h1m29 0h1m61 0h1m207 0h2m-302 1h1m18 0h1m43 0h1m1 0h1m5 0h1m21 0h2m2 0h1m221 0h3m-284 1h1m36 0h1m21 0h1m231 0h2m-305 1h1m30 0h1m22 0h1m-61 1h1m78 0h1m31 0h1m197 0h2m-309 1h1m40 0h2m8 0h1m13 0h1m-139 1h1m100 0h1m82 0h1m23 0h2m20 0h1m66 0h2m81 0h2m-319 1h1m34 0h1m101 0h1m115 0h2m18 0h2m-257 1h1m16 0h1m10 0h1m22 0h1m78 0h1m-171 1h1m22 0h1m29 0h1m8 0h1m79 0h1m65 0h1m34 0h2m54 0h2m-299 1h1m38 0h1m20 0h1m1 0h1m9 0h2m21 0h1m-24 1h1m22 0h1m54 0h2m-112 1h1m29 0h1m218 0h4m2 0h2m-239 1h2m86 0h2m5 0h1m96 0h2m31 0h2m40 0h2m-256 1h1m9 0h1m16 0h1m5 0h1m105 0h2m100 0h2m7 0h2m-268 1h1m20 0h1m13 0h1m41 0h2m182 0h3m-258 1h1m4 0h1m5 0h1m151 0h2m30 0h2m74 0h2m-272 1h1m60 0h1m-71 1h1m8 0h1m3 0h1m1 0h1m8 0h1m144 0h2m5 0h2m-250 1h1m95 0h1m68 0h2m129 0h2m-203 1h1m30 0h1m4 0h2m27 0h1m168 0h2m11 0h2m-205 1h2m169 0h2m41 0h3m-278 1h1m13 0h1m191 0h2m-178 1h1m19 0h1m4 0h1m47 0h2m-142 1h1m86 0h1m183 0h2m-240 1h1m6 0h1m28 0h1m16 0h1m98 0h2m22 0h1m65 0h2m-241 1h1m4 0h1m12 0h1m71 0h2m2 0h1m-117 1h1m25 0h1m14 0h1m17 0h1m5 0h2m6 0h1m13 0h1m11 0h1m13 0h1m18 0h1m116 0h2m-261 1h1m32 0h1m19 0h1m17 0h1m42 0h1m144 0h2m6 0h2m-231 1h1m5 0h1m21 0h1m21 0h1m35 0h2m36 0h2m95 0h2m14 0h3m10 0h2m-253 1h1m6 0h1m25 0h1m-81 1h1m42 0h2m33 0h1m5 0h1m52 0h1m80 0h2m51 0h2m-247 2h1m61 0h1m209 0h2m18 0h3m-325 1h1m45 0h1m7 0h1m36 0h1m92 0h2m62 0h2m42 0h2m24 0h2m-252 1h1m6 0h1m8 0h1m51 0h1m58 0h2m78 0h2m-320 1h1m94 0h1m19 0h1m22 0h1m1 0h2m71 0h2m103 0h2m32 0h2m-238 1h1m11 0h1m129 0h2m44 0h2m-254 1h1m3 0h1m38 0h1m4 0h1m7 0h1m209 0h2m21 0h2m-251 1h1m10 0h1m34 0h1m114 0h2m26 0h2m49 0h3m2 0h2m15 0h2m-318 1h1m62 0h1m25 0h1m235 0h2m-278 1h1m5 0h1m1 0h1m3 0h1m8 0h1m-75 1h1m160 0h1m71 0h2m45 0h2m-227 1h1m8 0h1m7 0h1m65 0h1m157 0h2m26 0h3m-184 1h2m26 0h1m96 0h2m16 0h2m2 0h2m2 0h2m-284 1h1m94 0h1m154 0h2m-209 1h1m11 0h1m28 0h1m10 0h1m3 0h1m4 0h1m44 0h1m73 0h1m11 0h2m85 0h2m-320 1h1m50 0h1m18 0h1m1 0h1m1 0h1m12 0h1m24 0h1m18 0h2m49 0h1m83 0h2m8 0h2m-330 1h1m103 0h1m18 0h1m206 0h2m-210 1h2m8 0h1m3 0h1m-154 1h1m58 0h1m9 0h1m38 0h1m51 0h1m-49 1h1m32 0h1m-61 1h1m41 0h1m19 0h1m33 0h1m149 0h2m-217 1h1m247 0h2m-228 1h1m167 0h2m79 0h2m-292 1h1m14 0h1m85 0h1m140 0h2m46 0h2m-279 1h1m56 0h1m2 0h2m3 0h1m121 0h1m43 0h2m32 0h2m3 0h2m5 0h2m-276 1h1m5 0h1m4 0h2m24 0h1m21 0h1m193 0h3m-275 1h1m30 0h1m1 0h1m14 0h1m3 0h1m32 0h1m151 0h2m-216 1h1m1 0h1m18 0h1m221 0h2m-290 1h1m56 0h1m-125 1h1m100 0h1m27 0h1m221 0h2m-247 1h1m5 0h1m-31 1h1m27 0h1m38 0h1m5 0h1m147 0h2m70 1h2m-361 1h1m87 0h1m4 0h1m23 0h1m4 0h1m13 0h1m3 0h3m40 0h2m8 0h1m126 0h2m-322 1h1m84 0h1m18 0h1m59 0h1m1 0h2m43 0h2m-168 1h1m15 0h1m50 0h1m30 0h1m158 0h2m24 0h2m-255 1h1m8 0h1m6 0h1m29 0h1m15 0h1m3 0h2m-50 2h1m20 0h1m14 0h1m47 0h1m-196 1h1m112 0h1m5 0h1m37 0h1m-17 1h1m174 0h2m20 0h2m-321 1h1m85 0h2m5 0h1m43 0h1m40 0h2m137 0h2m19 0h2m2 0h2m-256 1h1m92 0h1m17 0h1m6 0h1m-237 1h1m51 0h1m7 0h1m23 0h1m71 0h1m15 0h1m26 0h1m145 0h2m34 0h2m-365 1h1m66 1h1m41 0h1m31 0h2m222 0h2m-379 1h1m25 0h1m46 0h1m34 0h1m11 0h1m38 0h1m38 0h2m6 0h2m-171 1h1m250 0h2m31 0h2m12 0h2m-306 1h1m83 0h1m18 0h1m32 0h1m-135 1h1m63 1h1m13 0h1m4 0h1m2 0h1m80 0h1m150 0h2m24 0h2m-342 1h1m339 0h2m-314 1h1m8 0h1m35 0h1m29 0h1m6 0h1m33 0h1m23 0h1m-149 1h1m66 0h1m24 0h1m108 0h1m-142 1h1m31 0h1m12 0h1m35 0h2m34 0h2m31 0h2m-254 1h1m63 0h1m36 0h1m29 0h1m49 0h1m124 0h2m63 0h3m-277 1h1m39 0h1m203 0h2m31 0h2m-337 1h1m64 0h1m2 0h1m82 0h1m135 0h2m10 0h3m17 0h2m-381 1h1m64 0h1m81 0h1m157 0h1m-216 1h1m31 0h1m189 0h2m37 0h4m-227 1h2m31 0h1m60 0h1m147 0h2m9 0h2m-286 1h1m9 0h1m25 0h1m31 0h1m48 0h1m180 0h2m-312 1h1m33 0h1m10 0h1m25 0h1m46 0h1m4 0h2m84 0h2m66 0h2m-205 1h2m50 0h1m127 0h2m51 0h3m-330 1h1m19 0h1m39 0h1m16 0h1m10 0h1m52 0h1m71 0h2m73 0h4m-241 1h1m95 0h2m22 0h1m108 0h2m48 0h2m-280 1h1m235 0h2m40 0h2m-343 1h1m144 0h1m7 0h1m-178 1h1m37 0h1m52 0h1m27 0h1m9 0h3m146 0h2m56 0h2m27 0h2m-301 1h1m90 0h1m15 0h1m-123 1h1m140 0h1m-131 1h1m44 0h1m-44 1h1m36 0h1m16 0h1m101 0h1m137 0h2m-271 1h1m28 0h1m6 0h1m149 0h1m45 0h2m11 0h2m24 0h2m-384 1h1m32 0h1m26 0h1m62 0h1m240 0h2m-274 1h1m4 0h1m7 0h1m6 0h1m4 0h1m2 0h1m2 0h1m2 0h1m23 0h1m215 0h3m-264 1h1m1 0h1m42 0h1m-152 1h1m2 0h1m88 0h1m19 0h1m28 0h1m196 0h2m8 0h2m-281 1h1m37 0h1m199 0h2m-249 1h1m47 0h1m16 0h1m18 0h1m14 0h1m95 0h2m26 0h2m80 0h2m-243 1h1m25 0h1m10 0h1m106 0h2m-252 1h1m127 0h1m-36 1h1m161 0h2m38 0h1m-203 1h1m14 0h1m3 0h1m20 0h1m44 0h1m80 0h1m60 0h2m-215 1h1m31 0h1m47 0h2m156 0h2m2 0h3m2 0h2m14 0h2m-313 1h1m28 0h1m4 0h1m9 0h1m214 0h2m23 0h2m-338 1h1m81 0h1m34 0h1m135 0h2m56 0h2m-260 1h1m10 0h1m2 0h1m55 0h1m8 0h1m37 0h1m-168 1h1m88 0h1m9 0h2m11 0h1m5 0h1m189 0h2m12 0h2m24 0h2m-338 1h1m27 0h1m57 0h1m39 0h1m28 0h1m111 0h2m29 0h2m4 0h2m-310 1h1m8 0h1m67 0h1m2 0h1m2 0h1m49 0h1m16 0h1m201 0h2m-278 1h1m4 0h1m73 0h1m5 0h2m102 0h2m35 0h2m-223 1h1m28 0h1m83 0h2m118 0h2m33 0h3m-271 1h1m1 0h1m71 0h1m9 0h2m-92 1h1m187 0h4m33 0h2m-177 1h1m26 0h2m23 0h2m4 0h1m12 0h1m-109 1h1m158 0h2m-277 1h1m6 0h1m56 0h1m40 0h1m7 0h1m149 0h2m-239 1h1m111 0h1m7 0h1m6 0h1m180 0h2m41 0h3m-260 1h1m2 0h1m28 0h1m32 0h2m164 0h2m-333 1h1m88 0h1m26 0h1m104 0h1m59 0h2m25 0h2m40 0h3m-276 1h1m41 0h1m61 0h2m1 0h1m163 0h2m-288 1h1m56 0h1m44 0h1m147 0h2m4 0h2m4 0h3m-261 1h1m18 0h1m35 0h1m16 0h1m169 0h2m8 0h2m-282 1h1m10 0h1m39 0h2m35 0h1m36 0h1m90 0h1m72 0h2m-242 1h1m26 0h1m-97 1h1m94 0h1m24 0h1m52 0h1m98 0h2m4 0h2m6 0h2m2 0h2m45 0h2m-273 1h1m8 0h1m26 0h1m7 0h1m3 0h1m189 0h2m-338 1h1m102 0h1m2 0h2m21 0h1m19 0h2m60 0h1m-180 1h1m76 0h1m1 0h1m85 0h1m35 0h2m8 0h1m94 0h3m19 0h2m9 0h3m-274 1h1m33 0h1m10 0h1m45 0h2m115 0h2m10 0h2m8 0h2m-262 1h1m29 0h1m1 0h1m11 0h1m23 0h2m72 0h2m-103 1h2m3 0h1m11 0h1m9 0h2m211 0h2m-246 1h1m23 0h1m89 0h1m21 0h1m-240 1h1m34 0h1m51 0h1m16 0h1m4 0h1m231 0h2m-305 1h1m39 0h1m25 0h1m12 0h1m23 0h1m-21 1h1m-49 1h1m20 0h1m32 0h1m-38 1h1m4 0h1m7 0h1m29 0h1m16 0h1m171 0h2m34 0h2m-272 1h1m281 0h2m-274 1h1m49 0h1m116 0h2m61 0h2m-295 1h1m92 0h1m12 0h1m41 0h2m54 0h1m38 0h2m74 0h2m14 0h2m-281 1h1m15 0h2m39 0h1m104 0h2m79 0h3m19 0h2m-263 1h1m2 0h1m42 0h1m130 0h2m42 0h2m2 0h2m-188 1h2m82 0h2m-198 1h1m63 0h1m22 0h1m170 0h1m60 0h2m-293 1h1m21 0h1m134 0h1m152 0h3m-267 1h1m6 0h1m125 0h2m29 0h2m29 0h2m50 0h2m-365 1h1m100 0h1m139 0h2m57 0h1m35 0h2m4 0h2m4 0h2m4 0h3m-237 1h1m14 0h1m14 0h1m12 0h1m96 0h2m97 0h2m-281 1h1m42 0h1m-47 1h1m39 0h1m2 0h1m76 0h1m5 0h2m-141 1h1m33 0h1m8 0h1m4 0h1m6 0h1m28 0h1m12 0h1m134 0h2m42 0h2m19 0h2m-270 1h1m27 0h1m17 0h1m171 0h2m-203 1h1m8 0h1m1 0h1m27 0h1m18 0h1m190 0h2m-295 1h1m48 0h1m31 0h1m1 0h1m11 0h1m1 0h1m134 0h2m52 0h2m18 0h2m-297 1h1m68 0h1m63 0h1m152 0h2m-254 1h1m2 0h1m34 0h2m11 0h1m169 0h2m-234 1h1m13 0h1m4 0h1m8 0h1m203 0h2m-309 1h1m90 0h1m248 0h2m-360 1h1m81 0h1m28 0h1m2 0h1m1 0h1m40 0h1m171 0h2m12 0h2m22 0h2m-299 2h1m38 0h1m4 0h1m32 0h2m6 0h1m22 0h2m174 0h2m11 0h2m-365 1h1m51 0h1m15 0h1m30 0h1m12 0h1m-26 1h1m18 0h1m11 0h1m18 0h1m7 0h1m37 0h1m-161 1h1m4 0h1m79 0h1m7 0h1m18 0h1m2 0h1m72 0h2m-206 1h1m64 0h1m6 0h1m17 0h1m4 0h1m13 0h1m15 0h1m8 0h1m4 0h1m1 0h1m223 0h2m-384 1h1m110 0h1m10 0h1m214 0h2m6 0h2m-240 1h1m15 0h1m-60 1h1m52 0h1m192 0h2m35 0h2m24 0h2m4 0h3m-270 1h1m202 0h2m36 0h3m-361 1h1m21 0h1m52 0h1m80 0h1m124 0h2m61 0h4m10 0h3m15 0h2m-281 1h1m32 0h1m86 0h1m45 0h1m-66 1h1m12 0h2m63 0h1m69 0h2m41 0h2m-313 1h1m37 0h1m15 0h1m5 0h1m-94 1h1m77 0h1m2 0h1m8 0h1m63 0h2m80 0h2m69 0h2m24 0h2m-294 1h1m5 0h1m28 0h1m100 0h2m128 0h4m-266 1h1m38 0h1m22 0h1m143 0h2"/>
<path stroke="#86d549" d="m156 58h1m233 0h2m37 0h2m-257 1h1m35 0h1m28 0h2m61 0h1m66 0h1m72 0h2m-308 1h1m104 0h1m226 0h2m-287 1h1m18 0h2m257 0h2m-357 1h1m89 0h1m57 0h1m28 0h1m106 0h2m-2 1h2m29 0h2m-192 1h1m3 0h1m73 0h1m78 0h2m27 0h2m8 0h2m10 0h3m-238 1h1m1 0h1m31 0h1m41 0h2m145 0h2m-224 1h1m2 0h1m32 0h1m48 0h1m40 0h2m104 0h2m22 0h2m-270 1h1m21 0h1m67 0h1m88 0h2m-185 1h1m237 0h2m6 0h2m38 0h2m-297 1h1m52 0h1m158 0h2m19 0h2m-6 1h2m28 0h3m-75 1h2m32 1h2m-283 1h1m125 0h1m-54 1h1m-34 1h1m-77 1h1m79 0h1m78 0h1m90 0h2m118 0h3m11 0h2m-267 1h2m6 0h1m90 0h1m-214 1h1m83 0h1m30 0h1m79 0h2m37 0h2m104 0h2m-267 1h1m49 0h1m222 0h2m-160 1h1m-93 1h1m75 0h1m48 0h1m79 0h2m-216 1h1m22 0h1m229 0h2m4 0h2m-58 1h2m-175 1h1m212 0h2m-264 1h1m68 0h1m19 0h1m26 0h2m-167 1h1m93 0h1m4 0h1m76 0h1m-77 1h1m75 0h1m65 0h1m80 0h2m-196 1h2m74 0h1m119 0h4m-250 1h1m45 0h1m48 0h2m9 0h1m13 0h1m-27 1h1m117 0h2m-257 1h1m6 0h1m166 0h2m66 0h2m29 0h2m44 0h3m2 0h2m-314 1h1m52 0h1m17 0h1m-26 1h1m15 0h1m84 0h1m159 0h3m-319 1h1m1 0h1m61 0h1m63 0h1m-77 1h1m27 0h1m130 0h2m32 0h2m-190 1h1m20 0h1m10 0h1m190 0h2m-31 1h1m-192 1h1m2 0h1m172 0h1m79 0h3m-369 1h1m139 0h2m205 0h2m2 0h2m-281 1h1m6 0h1m16 0h1m87 0h1m-70 1h1m27 0h1m12 0h1m40 0h2m137 0h2m2 0h3m-340 1h1m109 0h1m57 0h2m-70 1h1m241 0h2m-296 1h1m-40 1h1m30 0h1m63 0h1m3 0h1m99 0h2m13 0h1m39 0h2m5 0h2m78 0h2m-256 1h1m1 0h2m8 0h1m2 0h1m11 0h1m6 0h1m188 0h2m2 0h2m4 0h2m-202 1h1m15 0h1m30 0h1m1 0h2m127 0h2m-229 1h1m244 0h2m8 0h2m-206 1h2m233 0h2m-262 1h1m2 0h1m15 0h1m78 0h1m126 0h2m-306 1h1m108 0h1m-68 1h1m48 0h1m32 0h1m66 0h2m-116 1h1m17 0h1m196 0h4m47 0h3m-294 1h1m48 0h1m188 0h2m18 0h3m21 0h2m3 0h2m-357 1h1m41 0h1m7 0h1m68 0h1m10 0h1m66 0h2m-199 1h1m132 0h1m188 0h2m-278 1h1m20 0h1m267 0h2m-367 1h1m23 0h1m25 0h1m49 0h1m11 0h1m3 0h1m45 0h1m10 0h1m178 0h2m-272 1h1m38 0h1m131 0h1m-133 1h3m26 0h1m12 0h1m-89 1h1m48 0h1m2 0h1m72 0h1m168 0h2m-308 1h1m86 0h1m216 0h2m-304 1h1m51 0h1m21 0h1m212 0h2m38 0h2m-293 1h1m7 0h1m6 0h1m231 0h2m-289 1h1m13 0h1m35 0h1m36 0h1m18 0h2m-82 1h1m21 0h1m10 0h1m154 0h2m-151 1h1m35 0h1m183 0h2m44 0h2m-223 1h1m43 0h1m-107 1h1m13 0h1m119 0h2m131 0h2m-230 1h1m147 0h2m30 0h2m20 0h2m-230 1h1m179 0h1m58 0h2m17 0h2m-275 1h1m92 0h3m173 0h2m-254 1h1m25 0h1m16 0h2m173 0h2m10 0h2m3 0h2m24 0h2m-270 1h1m38 0h2m-35 1h1m224 0h2m-239 1h1m4 0h1m-120 1h1m133 0h1m19 0h1m96 0h2m-159 1h1m21 0h1m7 0h1m25 0h1m14 0h1m196 0h2m31 0h2m-199 1h1m-70 1h2m8 0h1m-27 1h1m146 0h2m10 0h1m23 0h1m30 0h2m35 0h2m-295 1h1m42 0h1m253 0h2m9 0h2m14 0h2m-74 1h2m-322 1h1m114 0h1m5 0h1m-48 1h1m13 0h1m-4 1h1m74 0h1m181 0h2m4 0h2m42 1h2m-282 1h1m42 0h1m5 0h1m33 0h1m4 0h1m147 0h2m17 0h2m-240 1h1m2 0h1m11 0h1m8 0h1m176 0h2m18 0h2m4 0h3m-222 1h1m249 0h2m-298 1h1m31 1h1m216 0h4m-137 1h1m142 0h2m-236 1h1m6 0h1m191 0h2m-296 1h1m94 1h1m4 0h1m2 0h1m24 0h1m-98 1h1m2 0h1m23 0h1m17 0h1m25 0h1m9 0h1m214 0h2m-342 1h1m87 0h1m17 0h1m10 0h1m-74 1h1m62 0h1m42 0h1m6 0h1m111 0h2m53 0h2m51 0h2m-241 1h1m56 0h1m140 0h2m19 0h2m-300 1h1m63 0h1m5 0h1m173 0h2m29 0h4m-218 1h1m35 0h1m82 0h1m27 0h2m65 0h2m10 0h2m-282 1h1m265 0h2m-322 1h1m35 0h1m60 0h1m43 0h1m51 0h2m127 0h2m43 0h2m-225 1h1m-54 1h1m13 0h1m21 0h1m3 0h1m200 0h2m-154 1h1m28 0h1m112 0h2m-225 1h1m2 0h1m1 0h1m123 0h2m4 0h2m38 0h2m58 0h2m26 0h3m-317 1h1m89 0h1m120 0h2m97 0h2m9 0h3m-391 1h1m125 0h1m35 0h1m98 0h2m-237 1h1m58 0h1m55 0h1m24 0h2m31 0h1m117 0h2m51 0h3m-219 1h1m48 0h1m37 0h1m111 0h2m-238 2h1m78 0h2m143 0h2m8 0h2m-232 1h1m77 0h1m-82 1h1m1 0h1m30 0h1m11 0h1m117 0h2m92 0h2m9 0h2m-373 1h1m78 0h1m20 0h1m8 0h1m12 0h1m-41 1h1m63 0h1m7 0h1m132 0h2m71 0h2m-229 1h1m13 0h1m147 1h2m39 0h2m-339 1h1m101 0h1m1 0h1m2 0h1m2 0h1m144 0h2m-246 1h1m92 0h1m1 0h1m41 0h1m182 0h2m17 0h2m-271 1h1m21 0h1m24 0h1m6 0h1m72 1h1m37 0h1m125 0h2m-236 1h1m9 0h1m36 0h1m6 0h1m35 0h2m-158 1h1m18 0h1m97 0h1m139 0h2m34 0h2m-309 1h1m38 0h1m2 0h1m4 0h1m3 0h1m175 0h2m36 0h2m-217 1h1m30 0h1m42 0h2m23 0h1m-110 1h1m186 0h2m44 0h2m2 0h2m-236 1h1m80 0h2m2 0h2m62 0h2m44 0h2m43 0h3m17 0h2m-231 1h1m4 0h1m14 0h2m64 0h1m92 0h2m-213 1h1m4 0h1m9 0h2m23 0h3m53 1h1m-139 1h1m57 0h1m28 0h1m43 0h1m-95 1h1m3 0h1m30 0h1m-24 1h1m175 0h2m63 0h2m-160 1h2m123 0h2m20 0h2m-282 1h1m52 0h1m33 0h1m40 0h1m81 0h2m58 0h2m-257 1h1m108 0h1m3 0h1m151 0h2m-245 1h1m62 0h1m120 0h1m98 1h2m-280 1h1m14 0h1m75 0h2m133 0h2m-252 1h1m171 0h2m78 0h2m6 0h2m-208 1h1m18 0h1m-85 1h1m60 0h1m83 0h2m24 0h1m91 0h2m17 0h2m-247 1h1m209 0h2m37 0h2m-294 1h1m47 0h1m47 0h1m-92 1h1m90 0h1m11 0h2m145 0h2m-180 1h1m4 0h1m116 0h2m66 0h2m27 0h2m21 0h2m-363 1h1m118 1h1m166 1h1m38 0h3m-310 2h1m70 0h1m10 0h1m121 0h1m2 0h1m-110 1h1m5 1h1m12 0h1m86 0h1m72 0h2m52 0h2m-262 1h1m6 0h1m89 0h2m-23 1h1m164 0h2m-241 1h1m5 0h1m8 0h1m1 0h1m208 0h2m-280 1h1m51 0h2m1 0h1m2 0h1m1 0h1m20 0h1m55 0h1m79 0h2m-160 1h1m3 0h1m21 0h1m125 0h1m58 0h2m25 0h2m-252 1h1m36 0h1m54 0h2m-61 1h1m238 0h3m-307 1h1m27 0h1m55 0h1m-164 1h1m82 0h1m8 0h1m51 0h1m-37 1h1m213 0h2m29 0h4m-23 1h2m-231 1h1m9 0h1m220 0h2m38 0h3m-319 1h1m4 1h1m42 0h1m30 0h1m163 0h2m-198 1h1m7 0h1m-24 1h1m66 0h1m168 0h2m12 1h2m-263 1h1m84 0h1m84 0h2m-239 1h1m96 0h1m164 0h2m46 0h2m-229 1h1m19 0h1m31 0h1m7 0h1m127 0h2m-90 1h1m185 0h3m-218 1h1m199 0h4m-299 1h1m20 0h1m28 0h1m34 0h1m-38 1h1m83 0h1m-139 1h1m53 0h1m248 0h2m-315 1h1m183 0h1m14 0h2m105 0h2m-368 1h1m11 0h1m57 0h1m55 0h1m163 0h1m19 0h2m41 0h3m-310 1h1m77 0h1m154 0h2m-177 1h1m45 0h1m31 0h1m88 0h1m21 0h2m87 0h2m-258 1h1m33 0h1m-136 1h1m93 0h1m61 0h1m12 0h2m52 0h2m17 0h2m70 0h8m42 0h2m-165 1h1m129 0h2m6 0h2m-247 1h1m89 0h1m143 1h3m-246 1h1m13 0h1m21 0h1m167 0h1m38 0h3m-288 1h1m45 0h1m3 0h2m1 0h1m1 0h1m25 0h1m10 0h1m199 0h2m-209 1h2m196 0h2m-145 1h1m132 0h2m-218 1h1m26 0h1m15 0h1m146 0h2m24 0h2m2 0h2m-247 1h1m12 0h1m181 0h2m50 0h2m-231 1h1m162 0h2m40 0h2m33 0h2m29 0h2m-253 1h1m24 0h1m18 0h1m-178 1h1m56 0h1m57 1h1m81 0h2m19 0h1m123 0h2m13 0h2m11 0h2m-341 1h1m122 0h1m36 0h1m154 0h2m-324 1h1m57 0h1m23 0h1m33 0h1m3 0h2m228 0h3m-314 1h1m24 0h1m14 0h1m2 0h1m14 0h1m-12 1h1m39 0h1m-37 1h1m9 0h1m72 0h2m127 0h2m-173 1h1m170 0h2m-140 1h1m11 0h1m143 0h2m13 0h2m-345 1h1m98 0h1m7 0h1m34 0h1m120 0h2m78 0h2m20 0h3m-267 1h1m75 0h2m84 0h2m55 0h2m-235 1h1m92 0h1m160 0h2m-249 1h1m9 0h1m158 0h2m-178 1h1m92 0h1m169 0h2m6 0h3m-35 1h2m-230 1h1m10 0h1m4 0h1m136 0h2m28 0h2m-232 1h1m89 0h1m7 0h1m-71 1h1m17 0h1m9 0h1m37 0h1m27 0h2m52 0h2m89 0h2m-199 1h1m154 0h2m-227 1h1m33 0h1m4 0h1m-1 1h1m3 0h1m64 0h1m72 0h1m43 0h2m90 0h2m-323 1h1m115 0h2m151 0h2m2 0h2m46 0h2m-264 1h1m18 0h1m9 0h1m-42 1h2m5 0h1m75 0h3m103 0h2m35 0h2m-269 1h1m30 0h1m11 0h1m34 0h1m83 0h1m86 0h2m14 0h2m-221 1h1m-47 1h1m84 0h1m224 0h2m-292 1h1m31 1h3m255 0h2m-372 1h1m96 0h1m43 0h1m233 0h2m-330 1h1m29 0h1m268 0h2m-282 1h1m27 0h1m46 0h1m54 0h2m5 0h2m128 0h2m9 0h2m19 0h3m-365 1h1m52 0h1m46 0h1m1 0h1m27 0h1m102 0h3m86 0h2m17 0h2m-270 1h1m54 0h1m16 0h1m145 0h2m-189 1h1m21 0h1m6 0h1m188 0h2m-185 1h1m164 0h2m12 0h2m-257 1h1m1 0h1m25 0h1m13 0h1m2 0h1m-17 1h1m40 0h1m6 0h1m4 0h1m-120 1h1m66 0h1m8 0h1m22 0h1m91 0h2m97 0h2m-224 1h1m50 0h1m226 0h2m-330 1h1m59 1h1m10 0h1m14 0h1m4 0h1m15 0h1m32 0h1m35 0h2m-107 1h1m56 0h2m90 0h2m-123 1h1m35 0h2m-153 1h1m60 0h1m11 0h3m23 0h1m10 0h1m48 0h1m32 0h2m100 0h4m-182 1h1m40 0h2m111 0h2m39 0h2m21 0h3m-280 1h1m20 0h2m17 0h1m23 0h1m33 0h1m3 0h1m134 0h2m15 0h2m-341 1h1m69 0h1m26 0h1m31 0h1m107 0h2m93 0h2m-200 1h1m-101 1h1m9 0h1m99 0h1m213 0h2m-118 1h2m-149 1h1m5 0h1m7 0h1m-43 1h1m38 0h1m1 0h1m223 0h2m-181 1h1m30 0h1m110 0h2m27 1h2m2 0h2m24 0h2m13 0h3m-337 1h1m6 0h1m20 0h1m264 0h2m-230 1h1m141 0h2m76 0h2m34 0h2m-269 1h1m12 0h1m30 0h1m4 0h1m4 0h1m32 0h1m155 0h2m5 0h2m31 0h2m-350 1h1m48 0h1m28 0h1m37 0h1m39 0h1m101 0h1m37 0h2m-221 1h1m22 0h1m5 0h1m-9 1h1m29 0h1m-52 1h2m26 0h2m3 0h1m126 0h1m66 0h2m15 0h2m15 0h3m-276 1h1m192 0h1m31 0h2m29 0h2m9 0h2m-256 1h1m7 0h1m24 0h1m13 0h1m30 0h1m179 0h2m-231 1h1m-38 1h2m5 0h1m32 0h1m10 0h1m123 0h2m45 0h2m-217 1h1m82 0h1m4 0h2m51 0h2m105 0h2m-223 1h1m126 0h2m-212 1h1m50 0h1m10 0h1m-2 1h1m184 0h2m-180 1h1m26 0h1m128 0h2m53 0h2m-187 1h1m-40 1h1m2 0h1m30 0h1m8 0h1m120 0h2m-165 1h1m5 0h1m32 0h1m40 0h2m145 0h2m30 0h2m-368 1h1m315 0h2m48 0h2m-240 1h1m48 0h1m19 0h1m12 0h2m100 0h2m-158 1h1m169 0h2m-268 1h1m43 0h1m10 0h1m35 0h1m127 0h1m46 0h2m29 0h3m-307 1h1m3 0h1m34 0h1m25 0h1m20 0h1m46 0h1m28 1h1m137 0h2m-301 1h1m59 0h1m8 0h1m2 0h1m28 0h1m150 0h2m32 0h2m-290 1h1m104 0h1m37 0h2m115 0h2m-198 1h1m16 0h1m23 0h1m28 0h1m143 0h2m-231 1h1m93 0h2m-101 1h1m54 0h1m7 0h1m197 0h3m-237 1h1m12 0h1m-49 1h1m30 0h1m-13 1h1m82 0h1m89 0h2m21 0h1m-248 2h1m116 0h2m147 0h2m36 0h2m-234 1h1m57 0h1m108 0h2m31 0h2m-31 1h2m37 0h2m26 0h2m-319 1h1m45 0h1m14 0h1m3 0h1m211 0h2m47 0h3m-352 1h1m81 0h1m31 0h1m6 0h2m159 0h2m68 0h2m-391 1h1m12 0h1m107 0h1m25 0h1m9 0h1m-50 1h1m8 0h1m24 0h1m37 0h1m125 0h2m-179 1h1m39 0h1m140 0h2m29 0h2m-218 1h1m67 0h1m4 0h2m151 0h2m36 0h2m-280 1h2m84 0h1m168 0h2m11 0h3m-264 1h1m18 0h1m-76 1h1m62 0h1m12 0h1m6 0h1m4 0h1m190 0h2m-228 1h1m3 0h2m63 0h2m100 0h2m85 0h2m-308 1h1m80 0h1m135 0h2m61 0h4m2 0h3m-328 1h1m27 0h1m27 0h1m4 0h1m111 0h1m129 0h2m6 0h2m4 0h2m-216 1h1m11 0h1m47 0h1m-111 1h1m265 0h2m-179 1h1m108 0h2m25 0h2m-254 1h1m70 0h1m26 0h1m200 0h3m-237 1h1m4 0h1m24 0h1m208 0h2m-282 1h1m48 0h1m125 0h1m-249 1h1m60 0h1m48 0h1m9 0h1m36 0h1m223 0h3m-282 1h1m10 0h1m18 0h1m7 0h1m203 0h2m33 0h2m-271 1h1m2 0h1m5 0h1m-34 1h1m21 0h1m2 0h2m3 0h1m19 0h1m10 0h1m43 0h1m4 0h1m31 0h1m54 0h2m-180 1h1m14 0h1m79 0h1m96 0h2m-235 1h1m21 0h1m41 0h1m-84 1h1m68 0h1m3 0h1m191 0h2m36 0h3m-262 1h1m215 0h2m-207 1h1m233 0h2m8 0h2m13 0h2m11 0h2m-346 2h1m99 0h1m22 0h1m155 0h2m-209 1h1m12 0h1m5 0h1m259 0h2m-293 1h1m23 0h1m4 0h1m78 0h1m162 0h2m-214 1h1m8 0h1m-38 1h1m23 0h1m10 0h1m133 0h2m-224 1h1m20 0h1m24 0h1m45 0h1m169 0h2m2 0h2m-251 1h1m1 0h1m56 0h1m197 0h2m9 0h2m-279 1h1m32 0h1m9 0h1m30 0h2m138 0h2m46 0h2m-201 1h1m178 0h2m4 0h2m39 1h3m-260 1h1m15 0h1m249 0h2m7 0h3m-281 1h1m53 0h1m170 0h2m6 0h2m-315 1h1m45 0h1m37 0h1m11 0h1m241 0h2m21 0h2m-157 1h2m-179 1h1m65 0h1m-64 1h1m13 0h1m106 0h1m163 0h4m-237 1h1m5 0h1m8 0h1m85 0h1m88 0h2m43 0h2m-280 1h1m314 0h2m-385 1h1m122 0h1m2 0h1m109 0h2m40 0h2m27 0h2m46 0h2m-262 1h2m149 0h1m131 0h3m-332 1h1m76 0h1m112 0h2m103 0h2m37 0h2m-315 1h1m86 0h1m207 0h2m-276 1h1m34 0h2m-7 1h1m66 0h2m40 0h2m120 0h3m-246 1h1m13 0h1m76 0h1m133 0h2m-215 1h1m3 0h1m20 0h1m15 0h1m17 0h1m12 0h2m1 0h1m-88 1h1m238 0h2m26 0h2m-363 1h1m2 0h1m94 0h1m269 0h2m-370 1h1m90 0h3m107 0h2m-142 1h1m31 0h1m25 0h1m9 0h1m2 0h2m47 0h1m83 0h2m64 0h2m-230 1h1m182 0h2m56 0h2m-243 1h1m13 0h1m25 0h1m54 0h2m81 0h2m-210 1h1m57 0h1m3 0h1m167 0h2m28 0h2m-265 1h1m26 0h1m84 0h2m-130 1h1m43 0h1m68 0h1m-34 1h1m231 0h2m-220 1h2m36 0h2m54 0h1m34 0h2m-225 1h1m15 0h1m91 0h2m113 0h2m24 0h2m20 0h2m23 0h2m-299 1h1m11 0h1m36 0h1m24 1h1m4 0h1m192 0h2m-249 1h2m15 0h1m57 0h1m-78 1h1m20 0h1m8 0h1m-7 1h1m2 0h1m1 0h1m6 0h1m28 0h1m10 0h1m-31 1h1m23 0h1m-32 1h1m68 0h1m77 0h1m-156 1h1m74 0h2m-199 1h1m107 0h2m11 1h1m158 0h2m56 0h2m4 0h2m39 0h3"/>
<path stroke="#65cb5e" d="m165 58h1m128 1h1m-8 1h1m95 0h2m-135 1h2m120 0h2m53 0h2m-222 1h1m28 0h1m200 0h2m-222 1h1m-56 1h1m50 0h1m78 0h2m165 0h2m-26 1h2m-234 1h1m27 0h1m151 0h2m-98 1h1m-174 1h1m28 0h1m289 0h2m-41 1h2m25 1h2m-221 1h1m38 0h1m185 0h2m25 0h3m-250 1h1m234 0h2m26 0h2m-238 1h1m224 0h2m-261 1h1m44 0h1m177 0h2m-232 1h1m44 1h3m-142 1h1m99 0h1m12 0h1m109 0h1m-122 1h1m229 0h2m-238 1h1m5 0h1m7 0h1m244 0h3m-347 1h1m66 0h1m34 0h1m5 0h1m50 0h1m-130 1h1m303 0h2m15 0h2m-379 1h1m113 0h1m3 0h1m33 0h1m123 0h2m-148 1h1m-77 1h1m65 0h1m11 0h1m-53 2h1m6 0h1m38 0h1m-18 1h1m20 0h1m214 0h4m-231 1h1m46 0h1m181 0h2m-235 1h2m5 0h1m82 0h2m135 0h2m2 0h2m-4 1h2m8 0h2m31 0h2m-295 2h1m241 0h2m12 0h2m-37 1h2m75 0h2m-267 1h1m-1 1h1m224 1h2m5 0h2m-19 1h2m-235 1h1m246 0h3m-247 1h1m36 0h1m28 0h1m153 1h2m6 0h2m-142 1h1m139 0h2m43 0h2m-279 1h1m227 0h2m0 1h2m-232 1h1m-36 1h1m130 0h1m169 0h2m-244 1h1m176 0h4m-185 1h1m32 0h1m-23 1h1m5 0h1m45 0h1m160 0h2m11 0h2m-137 1h2m-205 2h1m92 1h1m19 0h1m9 0h1m173 0h2m18 0h2m-202 1h1m14 0h1m12 0h1m-31 1h1m-30 1h1m214 0h2m31 1h2m11 0h2m-298 1h1m44 0h1m103 0h2m163 1h2m-369 1h1m88 0h1m24 0h1m206 0h2m-145 1h1m-55 1h1m20 0h1m1 0h1m-151 1h1m92 0h1m9 0h1m212 1h2m16 0h3m-320 1h1m77 0h1m27 1h1m4 1h1m12 0h1m2 0h1m65 0h1m107 0h4m-127 1h2m55 0h1m-198 1h1m85 0h1m36 0h1m179 0h2m-306 1h1m53 0h1m6 0h1m177 0h2m-204 1h1m47 0h1m-41 1h1m7 0h1m30 0h1m148 0h2m-149 2h1m2 0h1m-50 1h1m1 0h1m8 0h1m1 0h1m41 1h1m172 0h2m-236 1h1m14 0h1m44 1h1m1 0h1m80 0h1m55 0h2m27 0h2m-273 1h1m59 1h1m73 0h2m-82 2h1m180 0h1m-182 1h1m29 0h1m192 0h2m39 0h2m-261 1h1m3 0h1m167 0h2m-241 1h1m191 0h2m-145 1h1m24 0h1m21 0h1m-40 1h1m22 0h1m-124 1h1m-17 1h1m121 0h1m14 0h1m21 0h1m131 0h2m-280 1h1m84 0h1m26 1h1m-9 1h1m2 0h2m3 0h1m19 0h1m-2 1h1m55 0h1m3 0h1m110 0h2m-114 1h1m83 0h2m55 0h2m46 0h2m-297 1h1m24 0h1m-26 1h1m102 0h1m166 1h2m-183 1h1m66 1h1m-132 2h1m46 0h1m24 0h1m197 0h2m-270 1h1m29 0h1m72 0h2m-104 1h1m-128 1h1m140 0h1m188 0h2m16 0h2m39 0h2m-278 1h2m46 0h1m67 0h2m7 0h1m-121 1h1m34 0h1m8 0h1m47 1h1m-85 1h1m83 0h1m-99 1h1m15 0h1m74 0h2m149 0h2m-204 2h1m212 0h2m-17 1h2m4 0h2m-247 1h1m6 0h2m175 0h1m-231 1h1m28 0h1m115 0h1m-89 1h1m136 0h2m-141 1h1m27 0h1m218 1h2m-238 2h1m235 0h2m-223 1h1m197 0h2m23 0h2m-324 1h1m105 0h1m204 1h3m-351 1h1m354 2h2m-201 1h1m18 0h1m175 0h2m-236 1h1m212 0h2m47 0h2m-267 2h1m94 0h2m131 0h2m17 0h2m-244 1h1m35 0h1m48 0h1m135 0h2m-35 1h2m-235 1h1m33 0h1m-11 1h1m34 0h1m-106 1h1m60 0h1m56 0h1m132 0h2m-217 1h1m38 0h1m18 0h1m34 0h1m39 0h2m49 0h1m41 0h2m44 0h2m30 0h2m-299 1h1m44 0h1m46 0h1m8 0h1m171 0h2m9 0h4m-251 1h1m50 0h2m-8 1h1m164 0h2m-265 1h1m284 0h2m-345 1h1m342 0h2m-250 1h1m58 0h1m129 0h2m-209 1h1m69 0h1m-125 2h1m99 0h1m35 1h1m173 0h2m-328 1h1m40 0h1m28 0h1m35 0h1m145 1h1m89 2h2m-233 1h1m42 0h1m34 0h2m53 0h1m-167 1h1m61 0h1m147 0h2m-230 1h1m78 0h1m184 0h2m-210 1h2m7 0h1m43 0h2m-72 1h1m117 0h1m112 0h2m-307 1h1m44 0h1m41 0h1m5 0h1m163 0h2m21 0h1m30 0h2m26 0h2m-175 1h1m43 0h1m-156 1h1m38 0h1m73 0h2m133 0h2m45 0h2m-263 1h1m-13 1h1m52 0h2m1 0h1m29 0h1m-115 1h1m33 0h1m29 0h1m193 0h2m8 0h2m-269 1h1m292 0h2m-268 1h1m35 0h1m205 0h3m28 0h2m-316 1h1m41 0h1m24 0h1m170 0h2m-149 1h1m-20 1h1m-24 1h1m30 0h1m5 0h1m-60 2h1m63 0h1m-23 1h1m7 0h1m44 0h1m4 0h1m16 0h2m131 0h2m-190 1h1m185 0h2m-230 1h1m207 0h2m37 0h2m-216 1h1m163 0h1m51 0h2m-248 1h1m72 0h1m-87 1h1m227 0h2m-23 1h1m-205 1h1m193 1h2m76 0h2m-367 1h1m103 0h1m236 0h2m-298 1h1m286 0h2m-143 1h1m-128 1h1m46 0h1m-7 2h1m70 0h1m177 0h2m-259 1h1m28 0h1m19 0h1m136 0h2m45 0h4m11 0h2m-110 1h2m110 0h2m-344 1h1m88 0h1m0 1h1m238 0h3m-235 1h1m199 0h2m-210 1h1m84 0h2m151 0h2m-247 1h1m6 0h2m9 0h1m12 0h1m-129 1h1m66 0h1m244 0h2m-258 2h1m135 0h1m-87 1h1m3 0h1m71 0h1m-39 1h2m201 0h2m-296 1h1m134 0h1m50 0h2m93 0h2m34 0h3m-266 1h1m9 0h1m20 0h1m52 0h2m119 0h2m-213 1h1m11 0h1m-25 1h1m6 0h1m9 0h1m75 0h1m59 0h2m38 0h2m11 0h2m83 0h2m-268 1h1m211 0h2m12 0h2m-269 1h1m49 0h1m75 0h1m168 0h2m-170 1h1m113 0h2m33 0h2m22 0h2m-261 1h1m3 1h1m243 0h2m-246 1h1m199 0h2m20 1h2m-182 1h1m-60 1h1m210 0h2m22 0h2m-222 1h1m21 1h1m4 0h1m144 0h2m-281 1h1m13 0h1m74 0h1m4 0h1m62 0h1m163 0h2m43 0h2m-93 1h2m-251 1h1m40 0h1m56 0h1m2 0h1m-29 1h1m2 0h1m17 0h1m21 1h1m180 0h2m34 0h2m-360 1h1m84 0h1m19 0h1m66 0h1m159 0h2m13 1h2m-323 1h1m102 1h1m60 0h1m40 0h1m-132 1h2m25 0h1m104 0h2m-144 1h1m95 0h1m-112 1h1m57 0h1m186 0h2m25 0h2m-258 1h1m7 0h1m-13 1h1m49 0h1m201 1h2m-295 1h1m78 0h1m109 0h2m65 0h2m54 0h2m-265 1h1m226 0h2m25 0h3m-11 1h2m-247 1h1m77 0h1m-76 1h2m77 1h1m129 0h2m-228 2h1m9 0h1m12 0h1m-33 1h1m34 0h1m178 1h2m2 0h2m59 0h2m-276 1h1m15 0h1m2 0h1m30 0h1m216 0h2m-335 1h1m82 0h1m78 0h1m151 0h2m-220 1h1m156 0h2m13 0h1m-235 1h1m15 0h1m37 0h1m74 0h2m139 1h2m27 0h2m-263 1h1m12 0h1m2 0h1m38 0h1m-96 1h1m93 0h1m187 0h2m-69 2h1m-170 1h1m274 1h2m-253 1h1m14 0h1m43 1h1m23 0h1m-100 1h1m2 0h1m20 0h1m158 0h2m-172 1h1m-87 1h1m106 0h1m16 0h1m32 0h1m-105 1h1m20 0h1m3 0h1m224 0h2m-227 1h1m38 0h1m179 0h2m34 0h2m-283 3h1m27 0h1m24 0h1m10 0h1m-91 1h1m15 0h1m27 0h1m249 0h2m-275 1h1m63 0h1m45 0h1m-83 1h1m4 0h1m31 0h1m44 0h1m-50 1h1m-32 1h2m216 0h2m-269 1h1m8 0h1m34 1h1m30 0h1m193 0h2m-296 1h1m59 0h1m241 1h2m26 0h2m-347 1h1m42 0h1m257 0h2m-223 1h1m232 0h2m21 0h3m-253 1h1m222 0h2m-177 1h1m4 0h1m16 0h1m32 0h2m-105 1h1m95 0h2m28 0h1m-129 1h1m5 0h1m24 0h1m65 0h1m-184 1h1m230 0h1m96 0h2m-345 1h1m42 0h1m47 0h1m26 0h1m207 0h2m-219 1h1m44 0h1m-21 1h1m-38 1h2m100 0h2m88 0h2m43 0h2m22 0h2m-262 2h1m28 0h1m49 0h1m93 0h2m45 0h2m6 0h2m-16 1h2m-287 1h1m49 0h1m29 0h1m25 0h1m-40 1h1m3 0h1m-15 1h1m-39 1h1m164 1h1m9 0h1m129 1h2m-330 1h1m81 0h1m26 0h1m7 0h1m167 0h2m20 0h2m-22 1h2m-175 1h1m7 0h1m139 0h2m-184 1h1m-31 1h1m53 0h1m66 1h1m129 0h2m-251 1h1m24 0h1m231 0h2m-232 1h1m7 0h1m11 0h1m15 0h2m38 0h1m4 1h2m-85 1h1m8 0h1m25 0h1m159 0h2m-246 1h1m60 0h1m13 0h1m4 0h1m55 0h2m-82 1h1m27 0h1m5 0h1m34 0h1m-97 1h1m106 1h2m119 0h2m33 0h2m11 0h2m-246 1h1m33 0h1m-38 1h1m34 0h1m44 0h1m146 0h2m3 0h2m-271 1h1m14 0h1m47 0h1m151 0h2m19 0h2m-324 1h1m120 0h1m252 0h2m-269 1h1m8 0h1m57 0h1m20 0h1m122 0h2m37 0h2m-190 1h1m34 0h1m160 0h2m-262 1h1m19 0h1m4 0h1m68 0h1m-108 1h1m75 1h1m-81 1h1m22 1h1m7 1h1m46 0h1m-153 1h1m107 0h1m147 0h1m-152 1h1m176 0h2m40 0h2m-226 1h1m31 0h1m14 0h1m-1 1h1m123 0h2m35 0h2m-214 1h1m12 0h1m28 0h2m147 1h2m60 0h2m7 0h2m-267 1h1m82 0h1m141 0h2m25 0h2m-207 1h1m46 1h2m-91 2h1m-47 1h1m13 0h1m35 0h2m8 0h1m70 0h2m102 0h2m82 0h3m-271 1h1m83 0h2m-148 1h1m12 0h1m49 0h1m25 1h1m-39 1h1m31 0h1m-33 1h1m20 0h1m218 0h2m-156 1h1m131 0h2m-209 1h1m2 0h1m-53 1h1m44 0h1m5 0h1m218 0h2m-112 1h1m138 0h3m-34 1h2m-259 1h1m80 0h1m92 0h2m83 0h2m8 0h2m-220 1h1m-104 2h1m167 0h1m93 1h1m13 0h2m56 0h2m-256 1h1m34 0h1m153 0h2m-146 1h2m178 0h2m-176 1h1m41 0h1m175 0h2m-46 1h2m36 0h2m-204 1h1m134 0h2m41 0h2m19 0h3m-255 1h1m2 0h1m14 0h1m-65 1h1m36 0h1m207 0h2m24 0h2m-223 1h1m80 0h1m31 0h1m119 0h3m-189 1h1m-90 1h1m79 0h1m212 0h2m11 0h2m-141 1h2m-210 1h1m110 0h1m-146 1h1m107 0h1m248 0h2m-297 1h1m21 0h1m19 0h1m37 0h1m137 0h1m-168 1h1m7 0h1m6 0h1m27 0h1m1 0h1m209 0h2m4 0h2m-314 1h1m77 0h1m118 0h2m50 0h1m36 0h2m31 0h2m-387 2h1m114 0h1m187 0h2m25 0h2m-255 1h1m42 0h1m188 0h2m-109 1h1m125 0h2m27 0h2m26 0h2m-318 1h1m37 0h1m1 0h1m14 1h1m46 0h1m174 0h2m37 0h2m-268 2h1m79 0h2m-92 1h1m46 0h1m44 0h1m4 0h1m-96 1h1m33 0h1m8 0h2m190 0h2m-236 1h1m31 0h1m17 0h1m-168 1h1m116 0h1m79 0h1m91 0h1m-183 1h1m9 0h1m7 0h1"/>
<path stroke="#48c16e" d="m210 60h1m214 0h2m-228 1h1m259 1h2m-175 1h1m-178 2h1m293 1h2m-247 1h1m31 0h1m17 0h1m22 0h1m17 0h1m181 1h2m-277 1h1m84 0h1m-118 1h1m84 0h1m80 0h1m-93 2h1m85 0h2m-108 1h1m26 1h1m-55 1h1m15 0h1m259 0h2m-221 3h1m2 0h1m225 0h2m-226 1h1m48 0h1m-56 1h1m-49 3h1m9 0h1m17 0h1m237 0h2m38 0h3m-295 1h1m47 0h1m24 0h1m221 0h2m-263 1h1m9 2h1m226 0h2m-130 1h1m135 0h2m-175 1h1m131 0h2m-133 1h2m-91 1h1m46 0h1m192 0h2m-232 1h1m2 0h1m196 0h2m-186 1h1m23 0h1m-86 2h1m7 0h1m233 1h2m-265 1h1m291 0h2m-228 1h1m-10 1h1m234 0h2m-255 1h1m236 2h2m-209 2h1m24 1h1m197 0h2m-259 2h1m30 0h1m190 2h2m76 0h2m-47 2h2m-188 1h2m184 0h2m-223 1h1m260 1h3m-265 1h1m2 0h1m165 0h2m24 0h2m-190 1h1m23 0h1m47 0h1m-168 1h1m163 0h1m29 0h1m-76 1h1m-121 1h1m294 0h2m-201 1h1m28 0h2m46 0h1m133 0h2m-107 1h1m-111 1h1m34 0h1m118 0h2m-158 1h1m82 1h1m135 0h2m-192 1h1m236 1h2m-24 3h2m-251 1h1m84 1h2m-144 1h1m49 0h1m230 1h2m-232 1h1m40 0h1m127 0h2m-159 1h1m25 1h1m54 1h1m-48 1h2m6 0h1m189 0h2m-249 4h1m47 0h1m-46 1h1m-40 1h1m76 0h1m-25 1h1m192 0h3m-170 1h1m-10 1h1m212 0h2m-217 1h1m105 0h2m133 0h5m-33 2h2m-224 1h1m162 0h1m-94 2h1m68 0h1m-158 2h1m239 0h2m-68 1h1m39 0h2m-30 2h2m-146 1h1m69 0h2m145 0h3m-249 1h1m248 0h2m-54 1h2m6 0h2m-143 1h1m179 0h2m-269 1h1m98 0h2m-53 2h1m205 0h3m-286 1h1m274 0h2m-227 1h1m27 1h1m-58 1h1m85 0h1m-50 1h1m1 0h1m27 0h1m60 0h1m129 0h2m-208 1h1m61 0h1m-82 1h1m-119 1h1m283 0h1m-212 1h1m257 3h2m-202 1h1m14 0h1m125 0h1m-82 1h1m78 0h2m-72 1h2m-61 2h1m212 0h2m20 0h2m-241 1h1m49 0h1m-109 1h1m56 0h1m190 1h2m-265 1h1m35 1h1m71 0h2m-58 1h1m12 0h1m106 1h2m-164 1h1m246 0h2m-128 1h1m104 0h2m43 0h2m-30 1h2m61 0h3m-270 1h1m11 0h1m-12 1h1m119 1h2m-126 1h1m76 0h1m153 0h2m-179 1h1m-20 1h1m5 0h1m-84 1h1m45 0h1m66 0h1m-38 1h1m16 0h1m111 0h2m-30 1h2m86 0h2m-227 1h1m159 1h2m-57 1h1m129 1h2m-256 1h1m25 1h1m-39 1h1m35 0h1m4 0h1m6 0h1m219 1h2m-207 1h1m19 0h1m-61 1h1m49 0h1m140 0h2m-102 1h1m162 0h2m-297 1h1m45 0h1m85 0h1m-169 1h1m172 0h2m70 0h2m7 0h1m24 0h2m67 0h2m-34 1h2m-228 2h1m111 0h2m-185 1h1m52 0h1m229 0h2m-268 1h1m50 0h1m57 2h1m140 0h2m45 0h2m4 1h3m-227 2h1m48 0h1m-81 1h1m86 0h1m-139 2h1m63 0h1m220 0h2m-200 3h1m-42 1h1m12 0h1m-43 1h1m69 0h1m179 1h2m-186 2h1m52 0h2m112 0h2m-204 1h1m109 0h1m55 0h2m-169 1h1m8 1h1m3 0h1m218 0h2m-216 1h1m32 0h1m134 0h2m-152 1h1m166 1h2m68 1h2m-237 1h1m220 0h3m-290 1h1m226 0h2m-269 1h1m5 0h1m27 0h1m46 0h1m218 1h2m-214 1h1m-62 1h1m95 0h2m-41 1h1m16 0h1m184 0h2m-127 3h2m154 1h2m-201 1h1m-82 1h1m3 0h1m35 3h1m28 0h1m197 0h2m-195 2h1m168 1h2m-205 1h1m16 0h1m-51 1h1m28 0h1m184 1h1m82 0h2m-220 2h2m10 0h1m21 0h2m123 0h2m-273 1h1m65 0h1m226 1h2m-228 1h1m4 0h1m62 0h1m-77 2h1m44 0h1m3 1h1m-39 1h1m266 0h2m-101 1h1m46 0h2m-33 1h2m-161 1h1m4 0h1m113 0h1m82 0h2m-196 1h1m6 0h1m37 0h1m161 0h2m13 0h2m-242 1h1m222 0h2m-270 1h1m236 0h2m-129 1h2m123 1h2m-206 1h1m29 0h2m-44 1h1m46 0h1m-45 1h1m93 0h1m159 0h3m-169 1h2m129 0h2m-131 2h1m-198 1h1m99 0h1m14 0h1m85 0h1m-40 1h1m32 0h2m-102 1h1m99 0h2m27 0h2m-72 1h1m1 0h1m-35 1h1m211 1h2m-230 1h1m80 0h2m-171 1h1m60 1h1m40 0h1m33 0h1m43 0h1m-62 1h1m1 0h1m211 0h2m6 1h2m-175 1h1m101 0h2m-237 1h1m61 0h1m8 0h1m-19 1h1m3 1h1m-1 2h1m221 2h2m-20 1h2m-231 1h1m24 3h1m113 0h2m-65 1h1m89 0h1m-137 1h1m27 0h1m13 0h2m-126 1h1m72 0h1m62 0h1m-110 2h1m44 1h1m7 1h1m27 0h1m-89 1h1m286 0h2m-260 1h1m-8 1h1m49 0h1m15 0h1m-3 1h1m0 1h1m-9 3h1m-61 1h1m173 0h1m85 0h2m8 0h2m-263 1h1m37 0h1m218 1h2m-219 1h1m218 0h2m-219 1h1m21 1h1m-148 1h1m111 0h1m4 0h1m-3 1h1m4 0h1m100 0h1m-27 3h1m-114 1h1m157 0h2m88 0h2m14 0h2m-263 1h1m295 1h3m-3 1h5m-269 1h1m226 0h2m-290 1h1m33 3h1m64 0h1m-70 1h1m17 0h1m9 0h1m42 0h1m139 0h2m2 1h2m31 0h2m-204 1h1m230 1h3m-222 1h1m84 0h2m-228 1h1m60 0h1m244 0h1m22 1h2m6 0h2m-16 1h2m6 0h2m-216 1h1m16 0h1m49 0h1m-53 2h1m-19 1h1m75 0h2m-177 1h1m319 0h2m-330 1h1m181 0h1m83 0h2m16 0h1m41 1h2m-248 1h1m64 1h1m45 0h2m148 0h2m8 0h2m-261 1h1m4 1h1m154 0h2m-174 1h1m27 0h1m26 1h1m184 1h2m-221 1h1m167 0h2m-173 1h1m45 1h1m224 2h2m-273 1h1m47 0h1m-13 1h1m-27 1h1m17 0h1m58 0h1m-84 1h1m227 0h2m-229 1h1m26 0h1m1 0h1m-25 1h1m-56 1h1m93 0h1m28 0h1m-84 1h1m10 0h1m15 1h1m199 0h2m14 1h2m24 0h2m-369 1h1m111 0h1m1 0h2m25 0h1m4 0h1m178 0h2m-174 1h1m177 0h2m-263 1h1m290 0h2m-359 1h1m78 0h1m39 0h1m-13 1h1m90 1h1m122 0h2m-241 1h1m30 0h1m22 0h1m43 0h2m-50 1h1m-139 1h1m293 1h2m-156 1h1m-76 1h1m150 0h2m-227 1h1m152 2h1m-41 3h1m11 0h1m26 0h1m-25 1h1m186 0h1m-89 1h1m-101 2h1m-67 2h1m51 0h1m11 1h1m228 0h3m-227 1h1m-9 1h1m20 0h1m-143 1h1m344 0h2m32 0h3m-283 2h1m29 0h1m26 0h1m37 0h2m118 1h1m-278 1h1m109 0h1m205 1h3m-201 1h1m-49 1h1m102 0h2m69 0h2m-97 1h1m117 0h2m35 0h2m-318 1h1m137 1h1m117 0h2m7 0h1m58 0h2m-238 1h1m4 0h1m26 1h1m51 0h1m112 0h2m-112 1h1m181 0h2m-267 1h1m172 0h1m54 0h2"/>
<path stroke="#31b57b" d="m233 58h1m236 1h2m-230 1h1m-38 2h1m46 3h1m-44 1h1m234 0h2m17 0h2m3 0h2m-45 2h2m41 0h2m-263 1h1m-14 1h1m270 1h3m-216 1h1m34 1h1m84 0h2m12 0h2m64 0h2m-312 3h1m251 1h2m76 0h3m-311 1h1m229 2h2m-168 1h1m5 2h1m60 0h1m-185 1h1m81 0h1m-84 1h1m333 0h2m-15 1h2m-250 1h1m69 0h1m33 0h1m-47 1h1m-47 3h1m138 0h2m33 1h1m-205 2h1m121 0h1m-84 2h1m174 1h2m-160 1h1m207 0h2m-73 1h2m-246 1h1m101 0h1m40 0h1m167 1h2m-217 2h1m224 1h2m7 0h2m4 1h2m-21 2h2m-68 1h2m66 0h2m-226 4h1m5 0h1m14 0h1m1 0h1m-28 1h1m85 1h1m-198 1h1m92 2h1m-62 2h1m47 0h1m24 1h1m1 0h1m27 0h1m17 2h1m-66 1h1m108 0h1m-70 1h1m-16 1h1m45 0h1m129 0h2m-258 2h1m84 0h1m250 0h2m-183 1h1m-56 1h1m15 0h1m-159 3h1m113 3h1m-5 1h1m229 0h2m17 1h2m-266 1h1m238 0h2m-190 1h1m137 0h1m-176 1h1m92 1h1m28 0h1m20 0h2m-102 1h1m-27 1h1m-31 2h1m239 0h2m8 0h2m-24 1h2m-217 1h1m85 0h2m5 2h1m-88 1h1m-96 2h1m242 0h2m75 1h2m15 1h2m-228 1h1m-21 1h1m13 0h1m147 0h2m-105 2h1m-12 1h1m172 1h2m4 1h2m-186 1h2m-33 1h1m-5 1h1m83 3h2m106 0h2m-112 1h1m146 0h2m-137 2h1m-69 1h1m188 0h2m-208 1h1m230 0h2m-191 1h1m32 1h2m149 0h3m-7 1h2m-190 2h1m183 0h2m-225 1h1m74 0h1m-51 1h1m208 0h2m-15 2h2m-234 1h1m86 1h2m-4 1h1m-99 1h1m25 0h1m1 0h1m77 1h1m-46 3h1m-34 1h1m100 1h2m116 1h2m6 0h3m-278 1h1m270 0h2m-77 1h2m69 0h2m-260 1h1m71 0h1m183 0h2m-148 2h1m-70 3h1m-130 1h1m143 0h1m218 0h2m-242 2h1m-3 1h1m18 1h1m21 3h1m64 0h1m108 0h2m-215 1h1m1 1h1m212 0h2m-223 1h1m-2 1h1m-7 2h1m79 3h2m-51 1h1m238 2h3m-264 1h1m5 2h1m-17 1h1m19 1h1m-8 5h1m83 1h1m129 0h2m-219 1h1m75 0h2m162 0h2m-296 1h1m77 0h1m198 0h2m-186 1h1m183 1h2m-297 6h1m337 0h2m-224 1h1m-79 2h1m248 0h2m-105 1h1m-108 1h1m69 2h1m-87 2h1m-2 1h1m197 0h2m-221 1h1m173 2h2m15 2h2m-77 1h1m79 1h2m58 0h2m10 2h3m-216 2h1m17 0h1m188 0h2m-203 1h1m45 1h1m4 0h1m151 0h2m22 2h2m-297 3h1m-14 1h1m271 0h2m-216 1h1m238 2h2m-158 4h2m125 1h2m-131 3h1m-92 2h1m263 0h2m-267 3h1m32 0h1m-35 1h1m32 0h1m-18 1h1m68 0h1m132 0h2m20 0h2m13 0h2m-241 1h1m221 1h2m-233 1h1m12 0h1m66 0h2m-135 6h1m45 2h1m27 0h1m-15 1h1m15 0h1m64 0h2m-42 1h1m166 0h2m-135 3h1m-86 2h1m51 0h1m209 4h2m-326 1h1m129 0h1m-22 1h1m-55 1h1m37 0h1m-128 1h1m68 0h1m63 0h1m-125 1h1m84 0h1m-17 1h1m65 0h1m78 1h2m-100 1h1m230 0h2m-233 2h1m-37 2h1m1 0h1m224 0h2m-229 5h1m234 6h2m2 1h2m28 1h2m-310 1h1m20 0h1m2 1h1m67 0h1m185 1h2m-241 7h1m199 1h2m25 0h2m-190 2h1m-24 1h1m194 2h2m52 0h2m-254 1h1m-3 1h1m3 0h1m-1 2h1m152 2h2m24 1h2m-156 1h1m-96 1h1m15 5h1m-5 2h1m54 0h1m-20 2h1m269 1h2m-357 1h1m332 1h2m2 0h3m-17 1h2m-215 3h1m239 1h2m-277 1h1m30 1h1m23 0h1m45 0h1m54 1h1m-93 1h1m52 2h1m126 0h2m-225 1h1m1 0h1m127 1h2m-146 1h1m236 0h2m-229 1h1m19 1h1m-20 1h1m9 0h1m233 0h3m-233 1h1m-32 1h1m14 2h1m52 0h1m180 0h2m-254 1h1m27 0h1m38 0h1m-12 2h1m212 0h2m-232 1h1m64 1h1m121 1h2m-229 3h1m72 1h1m-47 4h1m21 1h1m24 0h1m38 1h1m38 0h2m-113 2h1m-22 3h1m101 1h2m-70 2h1m228 0h2m-242 2h1m-87 1h1m74 0h1m241 0h2m-246 3h1m-70 1h1m117 0h1m183 0h2m24 0h2m-264 1h1m-1 1h1"/>
<path stroke="#22a884" d="m245 58h1m49 0h1m139 0h2m-282 1h1m48 2h1m178 2h2m-183 1h1m-111 4h1m70 0h1m81 1h1m-100 6h1m57 0h1m-3 1h1m85 0h2m8 0h1m-16 1h1m-108 3h1m54 1h1m36 0h1m-28 1h1m191 0h2m-245 1h1m42 1h1m-3 1h1m51 1h1m78 0h2m88 5h2m-247 2h1m20 6h1m192 0h2m-131 4h2m174 0h2m-319 2h1m56 0h1m177 1h2m-165 2h1m218 1h2m-244 2h1m230 0h2m-22 1h2m2 0h2m-138 3h1m-88 2h1m8 1h1m257 0h2m-267 6h1m242 1h2m-72 4h2m-82 1h1m28 0h1m68 0h1m-184 3h1m-6 1h1m225 0h2m-314 4h1m109 1h1m191 1h2m-165 1h2m32 0h3m-53 8h1m49 0h2m-158 1h1m76 1h1m-83 1h1m264 0h2m-186 1h1m25 0h1m159 7h2m-207 1h1m235 3h2m-167 2h1m-53 4h1m181 4h2m-224 1h1m39 0h1m36 2h1m-125 1h1m15 1h1m301 0h2m-199 1h1m14 1h1m23 0h1m141 0h2m12 6h2m-151 1h2m-75 1h1m72 2h2m72 0h2m-235 2h1m66 2h1m208 0h2m-193 2h1m22 2h1m14 0h1m-55 4h1m27 2h1m-19 1h1m8 0h1m205 2h2m-123 1h1m128 3h2m-278 4h1m257 1h2m-119 2h2m83 0h2m-186 1h1m106 1h2m144 0h2m-170 3h1m16 2h1m-63 1h1m195 1h2m-260 3h1m127 0h1m-90 1h1m-8 1h1m43 0h1m-57 4h1m41 0h1m156 0h2m-158 1h1m37 1h1m19 0h2m73 1h2m50 2h2m-217 2h1m222 0h2m-180 4h1m28 3h1m119 2h2m35 1h2m-312 1h1m121 1h1m-15 1h1m-24 1h1m68 1h1m3 0h1m-43 2h1m-158 1h1m129 0h1m14 1h1m-24 2h1m-79 1h1m27 0h1m-77 1h1m118 0h1m31 2h1m233 1h3m-35 1h2m-274 3h1m277 0h3m-238 1h1m-47 2h1m25 4h1m246 1h2m-10 3h2m29 0h3m-249 1h1m59 1h1m-15 4h1m-104 2h1m85 1h1m-45 2h1m44 0h1m48 0h1m42 3h1m-175 1h1m272 0h2m-233 4h1m228 0h2m-255 3h1m277 0h2m-243 1h1m68 0h2m183 0h3m-353 1h1m21 0h1m32 4h1m-1 2h1m240 0h2m-196 1h1m70 2h2m113 0h2m65 0h2m-185 3h1m-111 2h1m247 1h2m-213 3h1m-17 2h1m53 0h1m195 1h2m22 0h3m-294 3h1m245 1h2m-171 2h2m173 3h2m-24 2h2m-257 1h1m49 1h1m-82 2h1m77 1h1m53 2h1m217 0h2m-46 1h2m-107 1h2m-126 2h1m15 3h1m-15 1h1m27 0h1m-25 3h1m79 4h2m-126 3h1m43 3h1m2 6h1m71 0h1m-48 2h1m11 0h1m184 5h2m-229 1h1m21 2h1m234 9h2m-89 2h1m-136 1h1m233 0h2m-137 1h2m-90 1h1m-21 3h1m-23 4h1m-7 4h1m270 0h2m-125 3h1m82 3h2m26 0h2m-65 1h1m62 2h2m-82 4h2m-57 1h2m-82 2h1"/>
<path stroke="#1f968b" d="m461 58h2m-263 1h1m3 0h1m4 1h1m-125 3h1m94 0h1m115 0h2m-144 2h1m295 5h2m-116 2h1m-166 1h1m37 9h1m-37 1h1m18 2h1m16 0h1m-37 3h1m17 8h1m7 5h1m162 0h2m-160 2h1m187 0h2m31 1h2m-188 5h2m-6 1h1m191 0h2m4 1h2m-236 4h1m-34 4h1m-20 7h1m142 4h1m-93 5h1m238 1h2m-60 1h2m-167 3h1m88 0h2m64 2h1m-178 2h1m20 0h1m-21 1h1m15 5h1m0 2h1m38 5h1m36 0h1m-141 1h1m158 6h1m-105 1h1m-98 4h1m93 7h1m58 0h1m-62 3h1m142 0h1m97 3h2m-319 2h1m167 4h2m-89 3h1m-23 1h1m24 2h1m-28 4h1m249 1h2m-188 4h1m-4 1h1m27 3h1m12 3h1m8 0h2m77 3h2m58 3h2m-177 2h1m222 5h2m-234 9h1m-34 1h1m11 6h1m31 7h1m32 7h1m-206 1h1m151 4h1m144 1h2m84 4h3m-239 4h1m-115 3h1m117 0h1m-42 1h1m86 7h1m-45 2h1m-89 1h1m102 2h2m-48 1h1m14 2h1m170 0h2m-112 2h2m80 0h2m-284 4h1m269 2h2m-115 2h1m225 0h2m-231 3h1m200 3h2m5 4h2m-243 2h1m168 1h2m49 3h2m-229 2h1m10 0h1m152 8h2m86 1h2m-215 5h1m45 3h1m-75 5h1m190 3h2m-188 3h1m214 2h2m48 0h2m-244 3h1m5 6h2m-44 2h1m-40 2h1m96 1h1m209 0h3m-254 4h1m-59 2h1m171 0h2m129 1h2m-205 8h1m22 1h1m-69 6h1m158 0h2m93 2h3m-269 5h1m172 2h2m-10 5h1m-81 2h2m145 0h2m-222 4h1m15 0h1m-12 3h1m175 6h2m13 0h2m-67 4h2m-111 1h1m-41 7h1m105 1h1m-106 3h1m-60 1h1"/>
<path stroke="#25858e" d="m113 58h1m80 3h1m244 12h3m-7 4h2m7 1h2m-208 3h1m188 0h2m-182 1h1m194 1h2m-138 1h1m38 1h2m76 0h2m-53 10h2m-177 8h1m11 0h1m229 2h3m-252 2h1m12 3h1m25 8h1m6 5h1m23 0h1m191 3h2m-282 5h1m49 1h1m-12 5h1m260 5h3m-265 3h1m56 6h1m151 4h2m0 1h2m14 3h2m-283 12h1m82 2h2m-87 6h1m287 2h2m-271 7h1m243 1h2m-206 4h1m77 0h1m183 7h2m-191 1h1m-163 2h1m308 5h2m37 1h3m-239 2h1m-147 12h1m318 4h2m-32 2h2m-93 1h2m131 2h2m-222 1h1m14 1h1m-5 7h1m78 22h1m15 0h2m-100 1h1m-36 2h1m-59 2h1m38 7h1m77 2h1m-30 1h1m1 2h1m92 3h1m55 6h2m-185 2h1m266 1h3m-215 1h1m160 7h2m-141 1h1m-39 4h1m0 3h1m216 2h2m-238 6h1m-17 3h1m20 0h1m32 0h1m52 1h2m189 4h2m-273 2h1m28 0h1m195 0h2m-4 2h2m-230 6h1m49 0h1m179 3h2m-64 2h2m-193 2h1m187 2h1m-188 2h1m26 0h1m164 5h1m-157 3h1m236 1h2m11 4h2m-226 1h2m-42 9h1m33 2h1m0 2h1m240 2h2m-244 2h1m149 7h2m-186 1h1m55 0h1m-33 3h1m3 1h1m207 3h2m-176 1h1m-34 3h1m-28 8h1m227 1h2m-31 2h1m-118 1h1m-188 2h1m107 2h1m142 4h1m-223 1h1m108 1h1m240 2h2m-107 2h2m-76 1h2m-133 1h1m-17 2h1"/>
<path stroke="#2d708e" d="m116 68h1m96 6h1m211 12h2m-199 11h1m194 21h2m-130 1h1m158 12h3m6 7h2m-252 2h1m11 1h1m-64 6h1m3 1h1m42 3h1m-9 6h1m40 15h1m209 4h2m-53 4h2m-241 2h1m270 3h2m-206 2h1m107 0h2m-140 1h1m47 0h1m187 3h2m-266 3h1m66 3h1m-6 1h1m151 0h1m-153 2h1m46 8h2m151 8h2m-207 1h1m131 4h2m-80 4h1m-79 5h1m74 5h1m-93 5h1m61 7h1m55 0h1m-93 2h1m72 4h1m4 2h1m45 2h2m84 6h2m-146 2h1m4 3h2m-109 3h1m220 4h2m75 9h2m-144 2h1m-157 6h1m30 5h1m-52 4h1m62 0h1m99 5h2m-88 11h1m217 10h2m-295 4h1m53 2h1m14 0h1m163 0h2m-220 3h1m40 8h1m61 3h1m-58 2h1m-105 7h1m66 3h1m60 21h1m-63 12h1m115 4h1m176 3h2m-112 3h2m-88 1h1m-73 6h1m-21 1h1m29 4h1m-2 7h1"/>
<path stroke="#3a538b" d="m475 58h2m-62 25h2m-326 2h1m-5 9h1m149 1h1m208 12h2m-214 8h1m-62 1h1m14 6h1m124 24h2m-102 4h1m-21 2h1m106 55h2m-103 5h1m229 3h2m19 1h2m-186 11h1m-57 10h1m222 4h2m9 3h2m-163 8h1m-7 2h1m-74 7h1m-41 10h1m38 36h1m221 16h2m-194 1h1m236 15h2m-30 27h2m-241 1h1m20 2h1m-59 11h1m18 8h1"/>
<path stroke="#46337f" d="m396 88h2m-114 4h2m-107 13h1m25 3h1m-1 2h1m217 1h2m10 1h2m-212 6h1m218 1h2m-205 1h1m-31 7h1m209 3h2m-226 15h1m13 56h1m14 6h1m-30 5h1m221 3h2m-214 4h1m227 8h2m-271 1h1m-17 19h1m126 0h1m157 14h2m-318 2h1m84 70h1m-58 5h1m34 17h1m18 13h1m43 2h1m-84 9h1m111 25h1m95 15h2m-129 6h1"/>
</g>
<rect x="502" y="58" width="18.5" height="369.5" fill="url(#cb)"/>
<g fill="none" stroke="#000" stroke-width="1" shape-rendering="crispEdges">
<rect x="80.5" y="58.5" width="397" height="369"/>
<rect x="502.5" y="58.5" width="18" height="369"/>
</g>
<g fill="#000" shape-rendering="crispEdges">
<rect x="92" y="427" width="1" height="5.3"/>
<rect x="150" y="427" width="1" height="5.3"/>
<rect x="208" y="427" width="1" height="5.3"/>
<rect x="267" y="427" width="1" height="5.3"/>
<rect x="325" y="427" width="1" height="5.3"/>
<rect x="383" y="427" width="1" height="5.3"/>
<rect x="442" y="427" width="1" height="5.3"/>
<rect x="75.1" y="427" width="5.4" height="1"/>
<rect x="75.1" y="366" width="5.4" height="1"/>
<rect x="75.1" y="304" width="5.4" height="1"/>
<rect x="75.1" y="242" width="5.4" height="1"/>
<rect x="75.1" y="181" width="5.4" height="1"/>
<rect x="75.1" y="119" width="5.4" height="1"/>
<rect x="75.1" y="58" width="5.4" height="1"/>
<rect x="520.5" y="427" width="5.0" height="1"/>
<rect x="520.5" y="360" width="5.0" height="1"/>
<rect x="520.5" y="293" width="5.0" height="1"/>
<rect x="520.5" y="226" width="5.0" height="1"/>
<rect x="520.5" y="158" width="5.0" height="1"/>
<rect x="520.5" y="91" width="5.0" height="1"/>
</g>
<g>
<text x="82.20" y="31.9" font-size="17.4" text-anchor="start" textLength="80.17" lengthAdjust="spacingAndGlyphs">Ionogram</text>
<text x="167.66" y="31.9" font-size="17.4" text-anchor="start" textLength="138.11" lengthAdjust="spacingAndGlyphs">Jicamarca-Cuzco</text>
<text x="311.08" y="31.9" font-size="17.4" text-anchor="start" textLength="97.46" lengthAdjust="spacingAndGlyphs">Polarization</text>
<text x="413.85" y="31.9" font-size="17.4" text-anchor="start" textLength="58.96" lengthAdjust="spacingAndGlyphs">NW45°</text>
<text x="170.25" y="48.8" font-size="17.4" text-anchor="start" textLength="177.95" lengthAdjust="spacingAndGlyphs">11/15/2024-10:33:07</text>
<text x="353.50" y="48.8" font-size="17.4" text-anchor="start" textLength="33.25" lengthAdjust="spacingAndGlyphs">UTC</text>
<text x="91.57" y="448.2" font-size="14.5" text-anchor="middle" textLength="8.62" lengthAdjust="spacingAndGlyphs">2</text>
<text x="149.92" y="448.2" font-size="14.5" text-anchor="middle" textLength="8.62" lengthAdjust="spacingAndGlyphs">4</text>
<text x="208.28" y="448.2" font-size="14.5" text-anchor="middle" textLength="8.62" lengthAdjust="spacingAndGlyphs">6</text>
<text x="266.63" y="448.2" font-size="14.5" text-anchor="middle" textLength="8.62" lengthAdjust="spacingAndGlyphs">8</text>
<text x="324.98" y="448.2" font-size="14.5" text-anchor="middle" textLength="17.24" lengthAdjust="spacingAndGlyphs">10</text>
<text x="383.34" y="448.2" font-size="14.5" text-anchor="middle" textLength="17.24" lengthAdjust="spacingAndGlyphs">12</text>
<text x="441.69" y="448.2" font-size="14.5" text-anchor="middle" textLength="17.24" lengthAdjust="spacingAndGlyphs">14</text>
<text x="71.0" y="432.80" font-size="14.5" text-anchor="end" textLength="8.62" lengthAdjust="spacingAndGlyphs">0</text>
<text x="69.4" y="371.20" font-size="14.5" text-anchor="end" textLength="25.86" lengthAdjust="spacingAndGlyphs">500</text>
<text x="69.4" y="309.60" font-size="14.5" text-anchor="end" textLength="34.48" lengthAdjust="spacingAndGlyphs">1000</text>
<text x="69.4" y="248.00" font-size="14.5" text-anchor="end" textLength="34.48" lengthAdjust="spacingAndGlyphs">1500</text>
<text x="69.4" y="186.40" font-size="14.5" text-anchor="end" textLength="34.48" lengthAdjust="spacingAndGlyphs">2000</text>
<text x="69.4" y="124.80" font-size="14.5" text-anchor="end" textLength="34.48" lengthAdjust="spacingAndGlyphs">2500</text>
<text x="69.4" y="63.20" font-size="14.5" text-anchor="end" textLength="34.48" lengthAdjust="spacingAndGlyphs">3000</text>
<text x="531.0" y="432.80" font-size="14.5" text-anchor="start" textLength="9.0" lengthAdjust="spacingAndGlyphs">0</text>
<text x="530.2" y="365.60" font-size="14.5" text-anchor="start" textLength="17.24" lengthAdjust="spacingAndGlyphs">10</text>
<text x="530.2" y="298.40" font-size="14.5" text-anchor="start" textLength="17.24" lengthAdjust="spacingAndGlyphs">20</text>
<text x="530.2" y="231.20" font-size="14.5" text-anchor="start" textLength="17.24" lengthAdjust="spacingAndGlyphs">30</text>
<text x="530.2" y="164.00" font-size="14.5" text-anchor="start" textLength="17.24" lengthAdjust="spacingAndGlyphs">40</text>
<text x="530.2" y="96.80" font-size="14.5" text-anchor="start" textLength="17.24" lengthAdjust="spacingAndGlyphs">50</text>
<text x="278.1" y="467.0" font-size="14.5" text-anchor="middle" textLength="112.6" lengthAdjust="spacingAndGlyphs">Frequency[MHz]</text>
<text x="-72.50" y="0" font-size="14.5" text-anchor="start" textLength="46.14" lengthAdjust="spacingAndGlyphs" transform="translate(26.3 242.5) rotate(-90)">Virtual</text>
<text x="-21.94" y="0" font-size="14.5" text-anchor="start" textLength="94.44" lengthAdjust="spacingAndGlyphs" transform="translate(26.3 242.5) rotate(-90)">Distance[km]</text>
<text x="-38.20" y="0" font-size="14.5" text-anchor="start" textLength="42.29" lengthAdjust="spacingAndGlyphs" transform="translate(563.0 243.2) rotate(-90)">Power</text>
<text x="8.50" y="0" font-size="14.5" text-anchor="start" textLength="29.70" lengthAdjust="spacingAndGlyphs" transform="translate(563.0 243.2) rotate(-90)">[dB]</text>
</g>
</svg>
</body></html>
